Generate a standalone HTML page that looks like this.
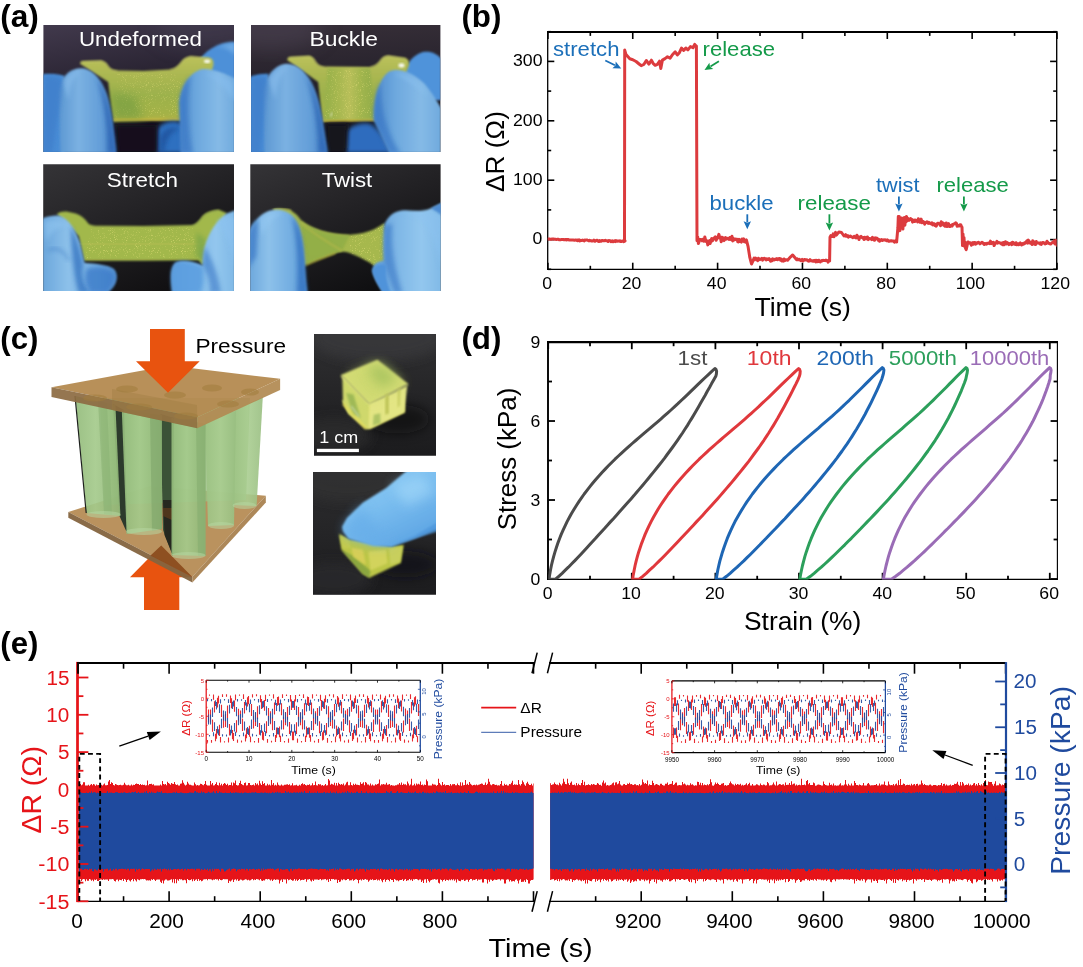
<!DOCTYPE html>
<html lang="en"><head><meta charset="utf-8"><title>Figure</title>
<style>
html,body{margin:0;padding:0;background:#fff;}
body{width:1083px;height:967px;overflow:hidden;font-family:'Liberation Sans', sans-serif;}
svg{display:block;}
svg text{font-family:'Liberation Sans', sans-serif;}
</style></head><body>
<svg width="1083" height="967" viewBox="0 0 1083 967">
<rect width="1083" height="967" fill="#fff"/>
<text x="0.22" y="27.20" font-size="31.7" fill="#000" font-weight="bold" textLength="38.68" lengthAdjust="spacingAndGlyphs" >(a)</text>
<text x="461.43" y="27.20" font-size="31.7" fill="#000" font-weight="bold" textLength="40.04" lengthAdjust="spacingAndGlyphs" >(b)</text>
<text x="0.34" y="349.30" font-size="31.7" fill="#000" font-weight="bold" textLength="38.13" lengthAdjust="spacingAndGlyphs" >(c)</text>
<text x="461.43" y="349.20" font-size="31.7" fill="#000" font-weight="bold" textLength="40.04" lengthAdjust="spacingAndGlyphs" >(d)</text>
<text x="0.34" y="654.20" font-size="31.7" fill="#000" font-weight="bold" textLength="38.13" lengthAdjust="spacingAndGlyphs" >(e)</text>
<defs>
<filter id="bl1" x="-20%" y="-20%" width="140%" height="140%"><feGaussianBlur stdDeviation="4"/></filter>
<filter id="bl2" x="-20%" y="-20%" width="140%" height="140%"><feGaussianBlur stdDeviation="11"/></filter>
<filter id="bl3" x="-30%" y="-30%" width="160%" height="160%"><feGaussianBlur stdDeviation="24"/></filter>
<filter id="bl4" x="-30%" y="-30%" width="160%" height="160%"><feGaussianBlur stdDeviation="50"/></filter>
<filter id="speck" x="0" y="0" width="100%" height="100%">
 <feTurbulence type="fractalNoise" baseFrequency="0.22" numOctaves="2" seed="4" result="n"/>
 <feColorMatrix in="n" type="matrix" values="0 0 0 0 0.95  0 0 0 0 0.85  0 0 0 0 0.25  0 0 0 3.0 -1.75" result="s"/>
 <feComposite in="s" in2="SourceGraphic" operator="in"/>
</filter>
<linearGradient id="bgA1" x1="0" y1="0" x2="0.25" y2="1"><stop offset="0" stop-color="#423a4d"/><stop offset="0.45" stop-color="#2b2534"/><stop offset="1" stop-color="#100e16"/></linearGradient>
<linearGradient id="bgA2" x1="0" y1="0" x2="0.1" y2="1"><stop offset="0" stop-color="#383039"/><stop offset="0.4" stop-color="#29242e"/><stop offset="1" stop-color="#110f15"/></linearGradient>
<linearGradient id="bgA3" x1="0" y1="0" x2="0.6" y2="1"><stop offset="0" stop-color="#353437"/><stop offset="0.5" stop-color="#232225"/><stop offset="1" stop-color="#111012"/></linearGradient>
<linearGradient id="bgA4" x1="0" y1="0" x2="0.6" y2="1"><stop offset="0" stop-color="#353437"/><stop offset="0.5" stop-color="#222124"/><stop offset="1" stop-color="#0f0f11"/></linearGradient>
<linearGradient id="glvL2" x1="0" y1="0" x2="1" y2="0"><stop offset="0" stop-color="#6ba6dc"/><stop offset="0.35" stop-color="#8dc1ea"/><stop offset="0.75" stop-color="#71ace1"/><stop offset="1" stop-color="#508cce"/></linearGradient>
<linearGradient id="glvR2" x1="0" y1="0" x2="1" y2="0"><stop offset="0" stop-color="#5a97d6"/><stop offset="0.3" stop-color="#7bb4e5"/><stop offset="0.7" stop-color="#93c7ee"/><stop offset="1" stop-color="#7fb8e6"/></linearGradient>
<linearGradient id="hsh" x1="0" y1="0" x2="1" y2="0"><stop offset="0" stop-color="#fff" stop-opacity="0.08"/><stop offset="0.5" stop-color="#fff" stop-opacity="0.02"/><stop offset="1" stop-color="#000" stop-opacity="0.25"/></linearGradient>
<linearGradient id="film1" x1="0" y1="0" x2="0" y2="1"><stop offset="0" stop-color="#bcc25c"/><stop offset="0.25" stop-color="#adb852"/><stop offset="0.6" stop-color="#9cb14c"/><stop offset="0.9" stop-color="#a5b246"/><stop offset="1" stop-color="#c4b644"/></linearGradient>
<linearGradient id="film2" x1="0" y1="0" x2="1" y2="0"><stop offset="0" stop-color="#96b04a"/><stop offset="0.3" stop-color="#a8b850"/><stop offset="0.5" stop-color="#b8bf5a"/><stop offset="0.7" stop-color="#a3b64e"/><stop offset="1" stop-color="#90ac4a"/></linearGradient>
<linearGradient id="glv" x1="0" y1="0" x2="1" y2="0.3"><stop offset="0" stop-color="#5a9ede"/><stop offset="0.5" stop-color="#4f93da"/><stop offset="1" stop-color="#3f7fcb"/></linearGradient>
<linearGradient id="glvL" x1="0" y1="0" x2="1" y2="0"><stop offset="0" stop-color="#5c97d2"/><stop offset="0.35" stop-color="#7bb1e2"/><stop offset="0.75" stop-color="#629dd8"/><stop offset="1" stop-color="#457fc3"/></linearGradient>
<linearGradient id="glvR" x1="0" y1="0" x2="1" y2="0"><stop offset="0" stop-color="#4f8acb"/><stop offset="0.3" stop-color="#6ca7de"/><stop offset="0.7" stop-color="#85bae6"/><stop offset="1" stop-color="#70aade"/></linearGradient>
</defs>
<clipPath id="cp1"><rect x="43.4" y="25.0" width="190.6" height="126.9"/></clipPath>
<g clip-path="url(#cp1)">
<g transform="translate(30,15) scale(0.20314)">

<rect x="60" y="40" width="950" height="640" fill="url(#bgA1)"/>
<ellipse cx="880" cy="60" rx="260" ry="110" fill="#4c4458" opacity="0.4" filter="url(#bl4)"/>
<!-- back right finger -->
<path d="M790,330 C800,250 850,180 920,150 C960,135 990,132 1010,134 L1010,420 L790,420 Z" fill="#4d90d8" filter="url(#bl1)"/>
<path d="M900,160 C940,150 980,160 1010,200 L1010,134 Z" fill="#7db6ea" opacity="0.7" filter="url(#bl2)"/>
<!-- film -->
<path d="M246,240 Q248,227 266,226 L350,224 Q372,228 384,250 Q398,272 430,273 L560,276 L690,268 Q722,262 740,236 Q760,206 790,203 L884,210 Q906,214 903,246 L880,330 L790,520 L600,522 L410,527 L385,330 Z" fill="url(#film1)" filter="url(#bl1)"/>
<path d="M430,290 L700,285 L760,330 L770,500 L420,508 Z" fill="#a0b048" filter="url(#speck)" opacity="0.5"/>
<path d="M395,380 L520,400 L560,515 L412,522 Z" fill="#6d9a40" opacity="0.55" filter="url(#bl3)"/>
<path d="M250,232 L352,228 Q372,232 384,252 Q398,274 430,276" fill="none" stroke="#c5c76a" stroke-width="5" opacity="0.7" filter="url(#bl1)"/>
<path d="M690,270 Q722,264 742,238 Q760,210 790,207 L884,213" fill="none" stroke="#c5c76a" stroke-width="5" opacity="0.7" filter="url(#bl1)"/>
<ellipse cx="872" cy="228" rx="16" ry="9" fill="#fff" opacity="0.9" filter="url(#bl1)"/>
<path d="M410,518 L790,512" stroke="#c9b43c" stroke-width="9" opacity="0.8" filter="url(#bl2)"/>
<!-- bottom mid finger (shadowed) -->
<path d="M622,680 L626,565 C640,535 680,520 722,524 C790,545 835,620 865,680 Z" fill="#2f6fc0" filter="url(#bl2)"/>
<path d="M640,600 C660,560 700,545 740,560 C700,570 670,600 660,680 L640,680 Z" fill="#1d4d96" opacity="0.7" filter="url(#bl2)"/>
<!-- dark gap -->
<path d="M425,540 L625,540 L625,680 L425,680 Z" fill="#14111b" filter="url(#bl2)"/>
<!-- left far finger -->
<path d="M60,292 C100,288 140,290 170,300 L170,680 L60,680 Z" fill="#4a8dd6" filter="url(#bl1)"/>
<!-- left thumb -->
<path d="M150,680 L140,380 C150,310 190,265 250,262 C300,262 340,300 370,370 C395,430 408,520 425,680 Z" fill="url(#glvL)" filter="url(#bl1)"/>
<path d="M160,330 C175,300 215,275 250,275 C215,300 195,350 190,420 Z" fill="#8cc0ee" opacity="0.6" filter="url(#bl2)"/>
<path d="M330,310 C370,370 395,450 415,600 L425,680 L380,680 C385,560 365,420 330,310 Z" fill="#2a62b2" opacity="0.75" filter="url(#bl2)"/>
<path d="M70,300 C110,296 140,300 160,320 L150,420 L110,680 L60,680 Z" fill="#3f7fcb" opacity="0.8" filter="url(#bl2)"/>
<!-- right thumb -->
<path d="M742,680 L736,430 C745,345 790,278 850,266 C905,262 960,290 1010,312 L1010,680 Z" fill="url(#glvR)" filter="url(#bl1)"/>
<path d="M742,680 L736,430 C742,380 760,330 790,300 C770,400 775,540 800,680 Z" fill="#3a78c6" opacity="0.7" filter="url(#bl2)"/>
<path d="M860,290 C900,285 950,300 1000,330 L1000,420 C960,350 910,310 860,290 Z" fill="#86bdee" opacity="0.6" filter="url(#bl2)"/>

</g></g>
<text x="78.93" y="46.40" font-size="20.8" fill="#fff" textLength="122.90" lengthAdjust="spacingAndGlyphs" >Undeformed</text>
<clipPath id="cp2"><rect x="251.0" y="25.0" width="189.4" height="126.9"/></clipPath>
<g clip-path="url(#cp2)">
<g transform="translate(240,15) scale(0.20314)">

<rect x="50" y="40" width="950" height="640" fill="url(#bgA2)"/>
<ellipse cx="150" cy="70" rx="260" ry="100" fill="#4d4556" opacity="0.5" filter="url(#bl4)"/>
<!-- back right finger -->
<path d="M800,330 C805,260 840,200 900,182 C940,176 970,190 990,215 L990,420 L800,420 Z" fill="#4f93da" filter="url(#bl1)"/>
<!-- film -->
<path d="M232,222 Q234,207 252,205 L340,201 Q360,205 370,226 Q382,250 412,254 L640,256 Q672,250 688,226 Q704,200 730,199 L815,212 Q834,218 832,246 L800,330 L680,520 L540,524 L405,528 L385,330 Z" fill="url(#film1)" filter="url(#bl1)"/>
<path d="M430,262 L640,262 L665,510 L415,518 Z" fill="url(#film2)" filter="url(#bl1)"/>
<path d="M430,270 L640,270 L662,505 L418,512 Z" fill="#a8b44a" filter="url(#speck)" opacity="0.55"/>
<path d="M236,212 L340,205 Q360,209 372,230 Q384,254 414,258" fill="none" stroke="#c8ca6c" stroke-width="5" opacity="0.7" filter="url(#bl1)"/>
<path d="M640,258 Q672,252 690,228 Q706,203 730,203 L815,215" fill="none" stroke="#c8ca6c" stroke-width="5" opacity="0.7" filter="url(#bl1)"/>
<ellipse cx="795" cy="248" rx="15" ry="10" fill="#fff" opacity="0.9" filter="url(#bl1)"/>
<path d="M410,522 L670,516" stroke="#c9b43c" stroke-width="9" opacity="0.8" filter="url(#bl2)"/>
<path d="M445,500 L455,480" stroke="#fff" stroke-width="5" opacity="0.7" filter="url(#bl1)"/>
<!-- bottom mid finger (shadowed) -->
<path d="M520,680 L528,570 C550,540 600,528 640,535 C690,560 720,620 745,680 Z" fill="#2d6cbe" filter="url(#bl2)"/>
<path d="M425,535 L530,535 L522,680 L425,680 Z" fill="#15121b" filter="url(#bl2)"/>
<!-- left far finger -->
<path d="M50,305 C80,295 110,288 140,290 L160,680 L50,680 Z" fill="#4a8dd6" filter="url(#bl1)"/>
<!-- left thumb -->
<path d="M120,680 L112,380 C125,300 170,245 230,240 C290,240 335,290 365,360 C395,430 410,530 432,680 Z" fill="url(#glvL)" filter="url(#bl1)"/>
<path d="M140,320 C160,280 200,255 235,252 C200,285 180,340 175,420 Z" fill="#8cc0ee" opacity="0.6" filter="url(#bl2)"/>
<path d="M325,295 C365,360 395,450 415,600 L432,680 L385,680 C388,560 365,420 325,295 Z" fill="#2a62b2" opacity="0.75" filter="url(#bl2)"/>
<path d="M55,310 C90,298 120,300 135,320 L125,420 L100,680 L50,680 Z" fill="#3f7fcb" opacity="0.8" filter="url(#bl2)"/>
<!-- right thumb -->
<path d="M735,680 L660,520 C655,420 680,320 730,280 C780,255 850,280 910,340 C950,390 975,430 990,460 L990,680 Z" fill="url(#glvR)" filter="url(#bl1)"/>
<path d="M735,680 L660,520 C657,450 668,380 690,330 C690,450 720,580 790,680 Z" fill="#3a78c6" opacity="0.7" filter="url(#bl2)"/>
<path d="M760,290 C810,285 870,320 930,400 C870,350 820,310 760,290 Z" fill="#8cc2f0" opacity="0.7" filter="url(#bl2)"/>

</g></g>
<text x="309.47" y="46.40" font-size="20.8" fill="#fff" textLength="68.49" lengthAdjust="spacingAndGlyphs" >Buckle</text>
<clipPath id="cp3"><rect x="43.2" y="164.3" width="190.8" height="126.6"/></clipPath>
<g clip-path="url(#cp3)">
<g transform="translate(30,155) scale(0.20314)">

<rect x="60" y="40" width="950" height="640" fill="url(#bgA3)"/>
<!-- film -->
<path d="M132,290 Q150,276 180,278 L225,288 Q262,300 285,335 Q292,346 320,348 L560,350 L800,345 Q822,340 850,300 Q875,275 930,270 L968,285 L930,420 L850,545 L830,518 L560,520 L265,520 L240,400 Z" fill="#a2b84c" filter="url(#bl1)"/>
<path d="M300,360 L800,356 L830,505 L270,510 Z" fill="#9cad3c" filter="url(#speck)" opacity="0.65"/>
<path d="M260,440 L840,436" stroke="#b4bc52" stroke-width="90" opacity="0.45" filter="url(#bl3)"/>
<path d="M268,516 L830,514" stroke="#c2b13a" stroke-width="7" opacity="0.7" filter="url(#bl2)"/>
<path d="M800,350 Q825,344 852,304 Q878,280 930,274" fill="none" stroke="#9fb652" stroke-width="6" opacity="0.8" filter="url(#bl1)"/>
<path d="M820,380 L870,420 L850,520 L815,500 Z" fill="#7fa848" opacity="0.8" filter="url(#bl2)"/>
<!-- left glove -->
<path d="M60,312 C95,300 125,295 150,300 C195,318 225,370 245,430 C255,470 262,505 268,530 C320,535 385,540 412,560 C435,585 432,625 405,655 L380,680 L60,680 Z" fill="url(#glvL2)" filter="url(#bl1)"/>
<path d="M70,330 C110,310 150,320 180,350 C140,350 100,380 80,430 Z" fill="#8fc4ef" opacity="0.6" filter="url(#bl2)"/>
<path d="M200,350 C235,420 250,480 262,540 C250,600 265,640 300,680 L240,680 C215,600 205,470 200,350 Z" fill="#2f6dbd" opacity="0.7" filter="url(#bl2)"/>
<path d="M280,560 C330,545 390,555 410,580 C425,610 405,650 380,680 L300,680 C270,640 265,600 280,560 Z" fill="#3c7cc9" opacity="0.8" filter="url(#bl2)"/>
<path d="M90,470 C130,450 170,470 190,520" fill="none" stroke="#2f6dbd" stroke-width="10" opacity="0.5" filter="url(#bl2)"/>
<!-- right glove -->
<path d="M1010,272 L968,288 C920,320 880,380 860,450 C852,490 850,520 850,545 C800,520 740,515 715,530 C690,555 690,600 700,680 L1010,680 Z" fill="url(#glvR2)" filter="url(#bl1)"/>
<path d="M860,450 C852,490 850,520 852,548 C880,600 890,640 885,680 L940,680 C930,600 900,520 860,450 Z" fill="#3a78c6" opacity="0.6" filter="url(#bl2)"/>
<path d="M715,535 C740,520 800,525 850,550 C860,600 850,650 840,680 L705,680 C692,610 695,560 715,535 Z" fill="#5b9fe0" opacity="0.9" filter="url(#bl2)"/>
<path d="M920,330 C960,300 990,300 1010,310 L1010,560 C990,450 960,380 920,330 Z" fill="#8cc2f0" opacity="0.6" filter="url(#bl2)"/>

</g></g>
<text x="106.79" y="186.70" font-size="20.8" fill="#fff" textLength="71.14" lengthAdjust="spacingAndGlyphs" >Stretch</text>
<clipPath id="cp4"><rect x="250.3" y="164.3" width="190.3" height="126.6"/></clipPath>
<g clip-path="url(#cp4)">
<g transform="translate(240,155) scale(0.20314)">

<rect x="40" y="40" width="960" height="640" fill="url(#bgA4)"/>
<!-- film -->
<path d="M160,268 Q200,258 250,272 Q280,290 300,320 Q340,352 400,372 Q470,392 540,392 Q610,388 660,365 Q690,350 712,335 L745,600 L720,592 Q680,560 640,530 Q590,500 540,482 Q500,470 460,486 Q400,508 350,528 L312,548 L290,420 Z" fill="#a6b84e" filter="url(#bl1)"/>
<path d="M300,330 Q340,358 400,376 Q470,396 540,396 L500,474 Q440,490 330,536 Z" fill="#92ae46" opacity="0.9" filter="url(#bl1)"/>
<path d="M540,396 Q610,392 660,370 L712,340 L735,590 Q680,555 640,528 Q590,498 540,480 Z" fill="#9aae44" filter="url(#speck)" opacity="0.65"/>
<path d="M300,335 Q380,400 500,470" fill="none" stroke="#b5b84a" stroke-width="8" opacity="0.8" filter="url(#bl1)"/>
<path d="M320,545 Q400,510 470,484" fill="none" stroke="#c0b23a" stroke-width="6" opacity="0.8" filter="url(#bl1)"/>
<path d="M165,268 Q210,262 250,275" fill="none" stroke="#b5bd55" stroke-width="8" opacity="0.9" filter="url(#bl1)"/>
<!-- left glove -->
<path d="M40,380 C60,340 90,300 130,280 C170,262 220,268 255,295 C290,330 305,390 312,450 C320,520 322,600 332,680 L40,680 Z" fill="url(#glvL2)" filter="url(#bl1)"/>
<path d="M90,320 C120,290 170,278 210,285 C170,300 130,340 110,400 Z" fill="#93c7f1" opacity="0.65" filter="url(#bl2)"/>
<path d="M255,300 C295,345 310,420 315,500 C320,580 325,640 332,680 L280,680 C290,560 285,420 255,300 Z" fill="#2f6dbd" opacity="0.7" filter="url(#bl2)"/>
<path d="M40,385 C55,350 70,330 90,315 L80,500 L40,560 Z" fill="#3a78c6" opacity="0.7" filter="url(#bl2)"/>
<!-- right glove -->
<path d="M705,680 C680,640 655,600 650,565 C655,535 680,522 708,520 C706,450 706,390 712,340 C730,295 770,270 815,272 C860,276 900,282 940,262 L1000,232 L1000,680 Z" fill="url(#glvR2)" filter="url(#bl1)"/>
<path d="M712,345 C706,400 706,460 708,520 C720,570 740,620 760,680 L800,680 C760,560 740,440 750,340 Z" fill="#3a78c6" opacity="0.6" filter="url(#bl2)"/>
<path d="M780,290 C830,280 880,300 920,360 C960,430 980,500 990,560 L1000,300 L940,275 Z" fill="#8cc2f0" opacity="0.5" filter="url(#bl2)"/>
<path d="M940,262 L1000,232 L1000,300 C985,290 960,275 940,262 Z" fill="#3f80cc" opacity="0.8" filter="url(#bl1)"/>
<path d="M652,570 C670,540 700,530 720,545 C715,590 725,640 745,680 L705,680 C680,640 658,605 652,570 Z" fill="#4f93da" filter="url(#bl1)"/>

</g></g>
<text x="321.66" y="186.70" font-size="20.8" fill="#fff" textLength="50.62" lengthAdjust="spacingAndGlyphs" >Twist</text>
<g id="panel-b">
<line x1="547.90" y1="269.30" x2="547.90" y2="262.70" stroke="#000" stroke-width="1.6" />
<line x1="547.90" y1="32.40" x2="547.90" y2="39.00" stroke="#000" stroke-width="1.6" />
<text x="542.28" y="288.80" font-size="16.5" fill="#000" textLength="9.82" lengthAdjust="spacingAndGlyphs" >0</text>
<line x1="590.32" y1="269.30" x2="590.32" y2="265.80" stroke="#000" stroke-width="1.6" />
<line x1="590.32" y1="32.40" x2="590.32" y2="35.90" stroke="#000" stroke-width="1.6" />
<line x1="632.75" y1="269.30" x2="632.75" y2="262.70" stroke="#000" stroke-width="1.6" />
<line x1="632.75" y1="32.40" x2="632.75" y2="39.00" stroke="#000" stroke-width="1.6" />
<text x="621.78" y="288.80" font-size="16.5" fill="#000" textLength="19.64" lengthAdjust="spacingAndGlyphs" >20</text>
<line x1="675.17" y1="269.30" x2="675.17" y2="265.80" stroke="#000" stroke-width="1.6" />
<line x1="675.17" y1="32.40" x2="675.17" y2="35.90" stroke="#000" stroke-width="1.6" />
<line x1="717.60" y1="269.30" x2="717.60" y2="262.70" stroke="#000" stroke-width="1.6" />
<line x1="717.60" y1="32.40" x2="717.60" y2="39.00" stroke="#000" stroke-width="1.6" />
<text x="706.89" y="288.80" font-size="16.5" fill="#000" textLength="19.64" lengthAdjust="spacingAndGlyphs" >40</text>
<line x1="760.02" y1="269.30" x2="760.02" y2="265.80" stroke="#000" stroke-width="1.6" />
<line x1="760.02" y1="32.40" x2="760.02" y2="35.90" stroke="#000" stroke-width="1.6" />
<line x1="802.45" y1="269.30" x2="802.45" y2="262.70" stroke="#000" stroke-width="1.6" />
<line x1="802.45" y1="32.40" x2="802.45" y2="39.00" stroke="#000" stroke-width="1.6" />
<text x="791.48" y="288.80" font-size="16.5" fill="#000" textLength="19.64" lengthAdjust="spacingAndGlyphs" >60</text>
<line x1="844.88" y1="269.30" x2="844.88" y2="265.80" stroke="#000" stroke-width="1.6" />
<line x1="844.88" y1="32.40" x2="844.88" y2="35.90" stroke="#000" stroke-width="1.6" />
<line x1="887.30" y1="269.30" x2="887.30" y2="262.70" stroke="#000" stroke-width="1.6" />
<line x1="887.30" y1="32.40" x2="887.30" y2="39.00" stroke="#000" stroke-width="1.6" />
<text x="876.37" y="288.80" font-size="16.5" fill="#000" textLength="19.64" lengthAdjust="spacingAndGlyphs" >80</text>
<line x1="929.72" y1="269.30" x2="929.72" y2="265.80" stroke="#000" stroke-width="1.6" />
<line x1="929.72" y1="32.40" x2="929.72" y2="35.90" stroke="#000" stroke-width="1.6" />
<line x1="972.15" y1="269.30" x2="972.15" y2="262.70" stroke="#000" stroke-width="1.6" />
<line x1="972.15" y1="32.40" x2="972.15" y2="39.00" stroke="#000" stroke-width="1.6" />
<text x="955.68" y="288.80" font-size="16.5" fill="#000" textLength="29.46" lengthAdjust="spacingAndGlyphs" >100</text>
<line x1="1014.57" y1="269.30" x2="1014.57" y2="265.80" stroke="#000" stroke-width="1.6" />
<line x1="1014.57" y1="32.40" x2="1014.57" y2="35.90" stroke="#000" stroke-width="1.6" />
<line x1="1057.00" y1="269.30" x2="1057.00" y2="262.70" stroke="#000" stroke-width="1.6" />
<line x1="1057.00" y1="32.40" x2="1057.00" y2="39.00" stroke="#000" stroke-width="1.6" />
<text x="1040.53" y="288.80" font-size="16.5" fill="#000" textLength="29.46" lengthAdjust="spacingAndGlyphs" >120</text>
<line x1="547.70" y1="269.30" x2="551.20" y2="269.30" stroke="#000" stroke-width="1.6" />
<line x1="1056.70" y1="269.30" x2="1053.20" y2="269.30" stroke="#000" stroke-width="1.6" />
<line x1="547.70" y1="239.60" x2="554.30" y2="239.60" stroke="#000" stroke-width="1.6" />
<line x1="1056.70" y1="239.60" x2="1050.10" y2="239.60" stroke="#000" stroke-width="1.6" />
<text x="532.62" y="244.40" font-size="16.5" fill="#000" textLength="9.82" lengthAdjust="spacingAndGlyphs" >0</text>
<line x1="547.70" y1="209.90" x2="551.20" y2="209.90" stroke="#000" stroke-width="1.6" />
<line x1="1056.70" y1="209.90" x2="1053.20" y2="209.90" stroke="#000" stroke-width="1.6" />
<line x1="547.70" y1="180.20" x2="554.30" y2="180.20" stroke="#000" stroke-width="1.6" />
<line x1="1056.70" y1="180.20" x2="1050.10" y2="180.20" stroke="#000" stroke-width="1.6" />
<text x="513.02" y="185.00" font-size="16.5" fill="#000" textLength="29.46" lengthAdjust="spacingAndGlyphs" >100</text>
<line x1="547.70" y1="150.50" x2="551.20" y2="150.50" stroke="#000" stroke-width="1.6" />
<line x1="1056.70" y1="150.50" x2="1053.20" y2="150.50" stroke="#000" stroke-width="1.6" />
<line x1="547.70" y1="120.80" x2="554.30" y2="120.80" stroke="#000" stroke-width="1.6" />
<line x1="1056.70" y1="120.80" x2="1050.10" y2="120.80" stroke="#000" stroke-width="1.6" />
<text x="513.02" y="125.60" font-size="16.5" fill="#000" textLength="29.46" lengthAdjust="spacingAndGlyphs" >200</text>
<line x1="547.70" y1="91.10" x2="551.20" y2="91.10" stroke="#000" stroke-width="1.6" />
<line x1="1056.70" y1="91.10" x2="1053.20" y2="91.10" stroke="#000" stroke-width="1.6" />
<line x1="547.70" y1="61.40" x2="554.30" y2="61.40" stroke="#000" stroke-width="1.6" />
<line x1="1056.70" y1="61.40" x2="1050.10" y2="61.40" stroke="#000" stroke-width="1.6" />
<text x="513.02" y="66.20" font-size="16.5" fill="#000" textLength="29.46" lengthAdjust="spacingAndGlyphs" >300</text>
<line x1="547.70" y1="31.70" x2="551.20" y2="31.70" stroke="#000" stroke-width="1.6" />
<line x1="1056.70" y1="31.70" x2="1053.20" y2="31.70" stroke="#000" stroke-width="1.6" />
<line x1="547.05" y1="32.00" x2="1057.35" y2="32.00" stroke="#000" stroke-width="2.0" />
<line x1="547.05" y1="269.30" x2="1057.35" y2="269.30" stroke="#000" stroke-width="1.25" />
<line x1="547.70" y1="31.00" x2="547.70" y2="269.90" stroke="#000" stroke-width="1.3" />
<line x1="1056.70" y1="31.00" x2="1056.70" y2="269.90" stroke="#000" stroke-width="1.35" />
<text x="754.47" y="315.70" font-size="25" fill="#000" textLength="96.43" lengthAdjust="spacingAndGlyphs" >Time (s)</text>
<text x="503.80" y="191.89" font-size="25.5" fill="#000" textLength="80.80" lengthAdjust="spacingAndGlyphs" transform="rotate(-90 503.80 191.89)">ΔR (Ω)</text>
<clipPath id="clipb"><rect x="547.7" y="32.4" width="509.00" height="236.90"/></clipPath>
<path d="M547.9,239.1 L548.6,238.9 L549.3,239.1 L550.0,239.1 L550.7,239.3 L551.4,239.2 L552.1,239.0 L552.8,239.1 L553.6,239.0 L554.3,239.2 L555.0,239.2 L555.7,239.3 L556.4,239.6 L557.1,239.2 L557.8,239.3 L558.5,239.3 L559.2,239.8 L559.9,239.8 L560.6,239.7 L561.3,239.6 L562.0,239.5 L562.7,239.6 L563.5,239.5 L564.2,239.8 L564.9,239.6 L565.6,239.6 L566.3,239.9 L567.0,239.5 L567.7,239.7 L568.4,239.6 L569.1,240.0 L569.8,240.0 L570.5,240.0 L571.2,240.0 L571.9,239.9 L572.6,240.0 L573.4,240.1 L574.1,240.2 L574.8,240.2 L575.5,239.9 L576.2,240.3 L576.9,240.1 L577.6,240.1 L577.6,240.7 L578.3,240.2 L579.0,239.8 L579.7,241.0 L580.4,240.4 L581.1,240.3 L581.9,240.6 L582.6,240.1 L583.3,240.4 L584.0,240.9 L584.7,240.1 L585.4,240.2 L586.1,240.1 L586.8,239.9 L587.5,240.3 L588.2,240.4 L588.9,240.9 L589.7,240.3 L590.4,240.7 L591.1,240.7 L591.8,241.0 L592.5,240.9 L593.2,240.8 L593.9,240.1 L594.6,241.3 L595.3,241.2 L596.0,240.6 L596.7,240.2 L597.5,240.5 L598.2,241.4 L598.9,241.6 L599.6,240.6 L600.3,241.0 L601.0,241.2 L601.7,240.4 L602.4,240.4 L603.1,240.8 L603.8,240.8 L604.5,240.7 L605.3,240.3 L606.0,240.7 L606.7,240.7 L607.4,240.7 L608.1,241.5 L608.8,240.5 L609.5,240.7 L610.2,240.8 L610.9,241.7 L611.6,241.3 L612.3,240.8 L613.1,241.7 L613.8,241.2 L614.5,240.8 L615.2,241.6 L615.9,240.6 L616.6,241.0 L617.3,241.2 L618.0,241.1 L618.7,241.0 L619.4,241.2 L620.1,240.8 L620.9,241.5 L621.6,241.4 L622.3,240.9 L623.0,241.3 L623.7,241.7 L624.4,241.0 L625.1,240.9 L624.5,241.4 L624.7,50.1 L626.0,54.6 L629.8,58.8 L632.8,59.7 L636.1,61.5 L639.1,64.0 L641.2,65.7 L643.8,64.5 L646.3,60.5 L648.9,64.1 L651.4,60.2 L653.1,63.3 L655.2,65.3 L657.4,64.4 L659.5,61.2 L660.8,68.4 L662.4,60.1 L665.0,58.6 L667.5,56.8 L670.1,58.2 L672.6,54.5 L675.2,51.9 L677.3,54.9 L679.4,52.7 L681.5,48.1 L683.7,50.5 L685.8,48.0 L687.9,49.8 L690.4,46.6 L693.0,47.7 L694.7,44.4 L695.8,45.7 L696.4,46.0 L697.0,240.8 L697.7,236.9 L698.4,243.5 L699.1,241.5 L699.8,239.5 L700.5,239.4 L701.3,239.7 L702.0,240.8 L702.7,239.3 L703.4,239.9 L704.1,241.2 L704.8,236.9 L705.6,240.1 L706.3,241.5 L707.0,240.9 L707.8,244.9 L708.7,241.1 L709.4,240.6 L710.2,243.5 L710.9,240.6 L711.7,238.6 L712.4,240.9 L713.1,239.4 L713.9,237.9 L714.6,237.8 L715.4,236.8 L716.1,240.3 L716.9,238.5 L717.6,238.2 L718.9,234.3 L719.7,237.7 L720.4,237.2 L721.2,241.7 L721.9,237.3 L722.6,240.4 L723.3,237.9 L724.1,240.6 L724.8,238.7 L725.5,237.5 L726.2,239.2 L726.9,238.8 L727.7,238.2 L728.4,239.0 L729.1,239.4 L729.8,237.5 L730.6,238.1 L731.3,239.8 L732.0,236.2 L732.7,240.9 L733.4,238.5 L734.2,240.0 L734.9,239.6 L735.6,239.0 L736.3,239.6 L737.1,239.2 L737.8,241.8 L738.5,241.9 L739.2,239.4 L739.9,241.4 L740.7,241.5 L741.4,242.1 L742.1,238.9 L742.8,239.6 L743.6,238.8 L744.3,241.7 L745.0,240.7 L745.7,242.1 L746.4,239.9 L748.1,246.7 L749.8,257.4 L751.5,264.0 L753.2,260.4 L754.1,258.1 L754.8,259.8 L755.5,258.1 L756.2,258.5 L756.9,259.4 L757.7,260.7 L758.4,258.3 L759.1,259.4 L759.8,259.7 L760.5,259.0 L761.2,259.0 L761.9,258.3 L762.6,260.1 L763.4,258.6 L764.1,258.3 L764.8,258.4 L765.5,259.5 L766.2,259.9 L766.9,258.7 L767.6,259.4 L768.3,259.4 L769.1,258.5 L769.8,259.7 L770.5,261.1 L771.2,259.8 L771.9,260.8 L772.6,258.9 L773.3,259.3 L774.1,260.0 L774.8,259.6 L775.5,259.0 L776.2,259.5 L776.9,258.7 L777.6,259.7 L778.3,258.9 L779.0,258.6 L779.8,258.5 L780.5,260.1 L781.2,259.1 L781.9,261.0 L782.6,260.5 L783.3,261.1 L784.0,259.0 L784.7,260.6 L785.5,259.8 L786.2,259.9 L786.9,259.8 L787.6,260.2 L790.6,256.8 L792.7,255.0 L795.2,258.0 L796.5,259.7 L797.2,258.8 L797.9,259.8 L798.7,259.6 L799.4,259.3 L800.1,260.0 L800.8,260.7 L801.5,260.3 L802.2,259.4 L803.0,261.0 L803.7,260.4 L804.4,259.5 L805.1,259.6 L805.8,260.1 L806.5,259.7 L807.3,260.1 L808.0,260.9 L808.7,261.2 L809.4,260.7 L810.1,259.7 L810.8,260.7 L811.6,260.9 L812.3,260.8 L813.0,261.3 L813.7,260.5 L814.4,261.2 L815.1,260.3 L815.9,261.9 L816.6,260.3 L817.3,260.9 L818.0,261.7 L818.7,260.2 L819.4,260.8 L820.2,262.0 L820.9,261.2 L821.6,260.5 L822.3,261.0 L823.0,260.3 L823.7,260.4 L824.5,260.4 L825.2,260.7 L825.9,260.1 L826.6,260.5 L827.3,260.7 L828.0,262.2 L828.8,260.5 L829.6,261.0 L830.0,237.2 L830.9,235.5 L831.7,236.6 L832.5,236.4 L833.2,233.9 L834.0,236.8 L834.8,234.5 L835.6,232.4 L836.4,235.1 L838.9,231.9 L841.5,232.5 L844.0,236.0 L844.9,235.5 L845.6,234.7 L846.3,236.3 L847.0,235.8 L847.7,235.6 L848.4,237.1 L849.1,236.6 L849.8,236.3 L850.5,236.0 L851.2,236.7 L851.9,236.9 L852.7,237.6 L853.4,237.2 L854.1,236.3 L854.8,237.0 L855.5,237.8 L856.2,237.9 L856.9,235.2 L857.6,236.5 L858.3,237.0 L859.0,239.5 L859.7,237.1 L860.4,237.3 L861.1,236.4 L861.8,237.5 L862.6,237.9 L863.3,237.6 L864.0,239.5 L864.7,237.3 L865.4,237.9 L866.1,238.8 L866.8,237.3 L867.5,237.0 L868.2,239.6 L868.9,239.1 L869.6,238.4 L870.3,238.6 L871.0,239.1 L871.7,239.6 L872.5,237.3 L873.2,238.2 L873.9,240.0 L874.6,240.2 L875.3,237.9 L876.0,238.5 L876.7,238.0 L877.4,238.8 L878.1,240.2 L878.8,239.4 L879.5,241.3 L880.2,240.3 L880.9,239.9 L881.6,239.5 L882.4,240.5 L883.1,240.1 L883.8,239.8 L884.5,239.9 L885.2,239.8 L885.9,240.2 L886.6,240.7 L887.3,239.9 L888.0,240.5 L888.7,241.3 L889.4,241.2 L890.1,240.8 L890.8,240.9 L891.5,240.8 L892.2,241.0 L893.0,240.9 L893.7,241.3 L894.4,242.2 L895.1,241.0 L895.8,240.6 L896.6,242.0 L897.9,227.7 L898.3,216.5 L898.8,230.9 L899.3,216.5 L899.9,230.6 L900.4,219.3 L900.9,228.2 L901.4,218.1 L901.9,226.2 L902.4,218.3 L902.9,229.1 L903.4,218.3 L903.9,222.9 L904.4,217.5 L904.9,225.2 L905.5,217.9 L906.0,221.8 L906.5,216.4 L907.0,221.0 L907.7,218.2 L908.4,219.3 L909.1,220.3 L909.8,219.6 L910.5,218.5 L911.2,219.4 L911.9,219.5 L912.6,222.1 L913.4,221.1 L914.1,220.2 L914.8,221.5 L915.5,220.0 L916.2,220.7 L916.9,220.4 L917.6,221.9 L918.3,218.7 L919.1,220.4 L919.8,222.2 L920.5,222.0 L921.2,219.1 L921.9,222.7 L922.6,221.4 L923.3,221.4 L924.0,222.6 L924.7,224.1 L925.5,222.6 L926.2,222.6 L926.9,221.8 L927.6,222.3 L928.3,223.3 L929.0,222.4 L929.7,222.9 L929.7,223.3 L930.4,223.5 L931.2,223.9 L931.9,222.8 L932.6,224.9 L933.3,224.4 L934.0,223.7 L934.8,225.5 L935.5,224.3 L936.2,226.2 L936.9,224.6 L937.6,223.2 L938.4,223.2 L939.1,224.0 L939.8,224.2 L940.5,225.7 L941.2,221.8 L942.0,223.4 L942.7,222.8 L943.4,225.1 L944.1,224.3 L944.9,226.3 L945.6,223.2 L946.3,223.1 L947.0,226.5 L947.7,224.3 L948.5,223.5 L949.2,226.4 L949.9,226.5 L950.6,225.6 L951.3,225.1 L952.1,226.1 L952.8,224.4 L953.5,224.2 L954.2,223.7 L954.9,223.7 L955.7,222.8 L956.4,223.2 L957.1,226.2 L957.8,225.2 L958.5,225.9 L959.3,226.0 L960.0,224.8 L960.7,224.7 L961.5,226.5 L962.0,227.1 L962.5,245.6 L963.0,233.9 L963.5,245.0 L964.0,237.5 L964.5,246.5 L965.0,242.1 L965.5,248.2 L966.2,249.7 L967.5,243.8 L967.9,241.9 L968.6,242.3 L969.3,242.7 L970.0,243.3 L970.7,242.8 L971.4,245.3 L972.1,243.6 L972.9,242.7 L973.6,244.2 L974.3,242.6 L975.0,242.6 L975.7,244.1 L976.4,243.1 L977.1,243.2 L977.8,242.4 L978.5,242.3 L979.2,243.0 L979.9,243.8 L980.6,243.1 L981.3,243.1 L982.0,242.3 L982.8,242.8 L983.5,243.7 L984.2,244.4 L984.9,243.5 L985.6,243.8 L986.3,244.2 L987.0,243.3 L987.7,243.7 L988.4,243.1 L989.1,242.7 L989.8,243.6 L990.5,241.1 L991.2,243.6 L991.9,242.3 L992.7,243.2 L993.4,242.3 L994.1,245.6 L994.8,244.1 L995.5,243.2 L996.2,242.9 L996.9,241.3 L997.6,243.2 L998.3,242.3 L999.0,242.8 L999.7,242.7 L1000.4,243.1 L1001.1,243.8 L1001.8,243.1 L1002.6,244.7 L1003.3,242.5 L1004.0,244.7 L1004.7,243.5 L1005.4,241.7 L1006.1,244.0 L1006.8,243.8 L1007.5,242.7 L1008.2,243.8 L1008.9,244.6 L1009.6,243.6 L1010.3,243.3 L1011.0,243.2 L1011.7,244.7 L1012.5,242.3 L1013.2,242.4 L1013.9,244.0 L1014.6,243.8 L1015.3,244.5 L1016.0,242.7 L1016.7,244.8 L1017.4,243.5 L1018.1,244.6 L1018.8,244.8 L1019.5,243.5 L1020.2,242.9 L1020.9,244.2 L1021.6,244.9 L1022.4,243.5 L1023.1,244.3 L1023.8,244.0 L1024.5,242.9 L1025.2,243.3 L1026.9,240.8 L1027.7,243.1 L1028.4,240.1 L1029.2,242.6 L1029.9,241.8 L1030.6,243.3 L1031.3,242.7 L1032.0,244.5 L1032.7,240.8 L1033.4,241.2 L1034.2,244.0 L1034.9,244.3 L1035.6,244.5 L1036.3,241.5 L1037.0,243.2 L1037.7,242.8 L1038.4,243.1 L1039.2,242.9 L1039.9,244.0 L1040.6,242.8 L1041.3,244.4 L1042.0,242.9 L1042.7,242.5 L1043.4,242.4 L1044.1,243.2 L1044.9,243.9 L1045.6,242.8 L1046.3,243.5 L1047.0,241.3 L1047.7,242.2 L1048.4,243.1 L1049.1,243.5 L1049.9,243.8 L1050.6,244.0 L1051.3,243.4 L1052.0,242.7 L1052.7,242.5 L1053.4,242.5 L1054.1,240.9 L1054.9,243.9 L1055.6,243.1 L1056.3,240.2 L1057.0,245.2" fill="none" stroke="#dc3b3e" stroke-width="3.0" stroke-linejoin="round" stroke-linecap="round" clip-path="url(#clipb)"/>
<text x="553.04" y="56.00" font-size="20.6" fill="#1b6fb9" textLength="66.43" lengthAdjust="spacingAndGlyphs" >stretch</text>
<text x="702.56" y="56.00" font-size="20.6" fill="#149a49" textLength="72.53" lengthAdjust="spacingAndGlyphs" >release</text>
<text x="709.46" y="210.00" font-size="20.6" fill="#1b6fb9" textLength="64.16" lengthAdjust="spacingAndGlyphs" >buckle</text>
<text x="797.55" y="210.00" font-size="20.6" fill="#149a49" textLength="73.36" lengthAdjust="spacingAndGlyphs" >release</text>
<text x="876.07" y="192.20" font-size="20.6" fill="#1b6fb9" textLength="43.34" lengthAdjust="spacingAndGlyphs" >twist</text>
<text x="936.46" y="192.20" font-size="20.6" fill="#149a49" textLength="72.43" lengthAdjust="spacingAndGlyphs" >release</text>
<line x1="605.30" y1="60.50" x2="614.93" y2="65.29" stroke="#1b6fb9" stroke-width="1.8" />
<path d="M621.2,68.4 L612.4,68.2 L615.4,65.5 L615.7,61.5 Z" fill="#1b6fb9"/>
<line x1="718.90" y1="61.20" x2="710.45" y2="66.42" stroke="#149a49" stroke-width="1.8" />
<path d="M704.5,70.1 L709.4,62.7 L710.0,66.7 L713.3,69.0 Z" fill="#149a49"/>
<line x1="747.30" y1="214.30" x2="747.30" y2="222.30" stroke="#1b6fb9" stroke-width="1.8" />
<path d="M747.3,229.3 L743.6,221.3 L747.3,222.8 L751.0,221.3 Z" fill="#1b6fb9"/>
<line x1="829.40" y1="214.30" x2="829.40" y2="223.60" stroke="#149a49" stroke-width="1.8" />
<path d="M829.4,230.6 L825.7,222.6 L829.4,224.1 L833.1,222.6 Z" fill="#149a49"/>
<line x1="898.90" y1="196.60" x2="898.90" y2="204.60" stroke="#1b6fb9" stroke-width="1.8" />
<path d="M898.9,211.6 L895.2,203.6 L898.9,205.1 L902.6,203.6 Z" fill="#1b6fb9"/>
<line x1="963.90" y1="196.60" x2="963.90" y2="204.60" stroke="#149a49" stroke-width="1.8" />
<path d="M963.9,211.6 L960.2,203.6 L963.9,205.1 L967.6,203.6 Z" fill="#149a49"/>
</g>
<g id="panel-c">
<defs>
<linearGradient id="pil" x1="0" y1="0" x2="1" y2="0"><stop offset="0" stop-color="#93bb7b"/><stop offset="0.45" stop-color="#a4ca8b"/><stop offset="1" stop-color="#8fb676"/></linearGradient>
<linearGradient id="pil2" x1="0" y1="0" x2="1" y2="0"><stop offset="0" stop-color="#9cc283"/><stop offset="0.5" stop-color="#a9cd90"/><stop offset="1" stop-color="#98be80"/></linearGradient>
<filter id="cb1" x="-20%" y="-20%" width="140%" height="140%"><feGaussianBlur stdDeviation="0.5"/></filter>
<filter id="cb2" x="-20%" y="-20%" width="140%" height="140%"><feGaussianBlur stdDeviation="1.6"/></filter>
<filter id="cb3" x="-30%" y="-30%" width="160%" height="160%"><feGaussianBlur stdDeviation="6"/></filter>
<filter id="cb4" x="-40%" y="-40%" width="180%" height="180%"><feGaussianBlur stdDeviation="40"/></filter>
<filter id="grain" x="0" y="0" width="100%" height="100%">
 <feTurbulence type="fractalNoise" baseFrequency="0.7" numOctaves="2" seed="9" result="n"/>
 <feColorMatrix in="n" type="matrix" values="0 0 0 0 0.6  0 0 0 0 0.6  0 0 0 0 0.6  0 0 0 1.6 -0.75" result="s"/>
 <feComposite in="s" in2="SourceGraphic" operator="in"/>
</filter>
<linearGradient id="bgC1" x1="0" y1="0" x2="0" y2="1"><stop offset="0" stop-color="#303032"/><stop offset="0.45" stop-color="#262628"/><stop offset="1" stop-color="#1b1b1d"/></linearGradient>
<linearGradient id="bgC2" x1="0" y1="0" x2="0" y2="1"><stop offset="0" stop-color="#2c2c2e"/><stop offset="0.5" stop-color="#252527"/><stop offset="1" stop-color="#1c1c1e"/></linearGradient>
<linearGradient id="fing" x1="0" y1="0" x2="0.6" y2="1"><stop offset="0" stop-color="#8fcdf6"/><stop offset="0.5" stop-color="#7cbff0"/><stop offset="1" stop-color="#5fa6e4"/></linearGradient>
</defs>
<path d="M144,610 L144,577.3 L130,577.3 L161.2,545.6 L192.5,577.3 L179.3,577.3 L179.3,610 Z" fill="#e8530f"/>
<path d="M68.3,512 L150,486 L265.8,495.7 L192.4,576.8 Z" fill="#b58a52" opacity="0.93"/>
<path d="M68.3,512 L192.4,576.8 L192.4,582.6 L68.3,517.8 Z" fill="#84643f" opacity="0.95"/>
<path d="M192.4,576.8 L265.8,495.7 L265.8,502.6 L192.4,582.6 Z" fill="#a98250" opacity="0.95"/>
<path d="M161.2,545.6 L192.4,577.0 L150.5,555.5 Z" fill="#8a4a1d" opacity="0.9"/>
<path d="M100,398 L250,398 L246,500 L104,505 Z" fill="#9abf82" opacity="0.85"/>
<path d="M113,404 L124,410 L127.5,534 L119.5,516 Z" fill="#2c3a2c"/>
<path d="M160.5,414 L174,418 L173,556 L163,530 Z" fill="#3b5237"/>
<path d="M163,500 L173,500 L173,556 L164.5,535 Z" fill="#26281f"/>
<path d="M163,508 L172,508 L172,520 L163,516 Z" fill="#5a3a1c" opacity="0.8"/>
<path d="M235.6,409 L262.8,397 L256.6,506 L232.4,505 Z" fill="url(#pil2)" opacity="0.9"/>
<path d="M205,417 L236,411 L234,525 L208,526 Z" fill="url(#pil2)" opacity="0.92"/>
<path d="M75.3,396 L115.4,405 L120.4,516 L86.5,513 Z" fill="url(#pil)" opacity="0.92"/>
<path d="M75.0,396 L86.2,513" stroke="#1c1f1c" stroke-width="1.2" fill="none"/>
<path d="M98,400 L104,514 L112,515 L107,403 Z" fill="#89b072" opacity="0.55"/>
<path d="M121.8,410 L161.9,415 L161.9,529 L126.6,534 Z" fill="url(#pil)" opacity="0.92"/>
<path d="M150,414 L162,415.5 L162,529 L152,531 Z" fill="#7fa56a" opacity="0.6"/>
<path d="M171.5,418 L205.5,424 L205.5,556 L171.5,555 Z" fill="url(#pil)" opacity="0.92"/>
<path d="M196,422 L205.5,424 L205.5,556 L198,556 Z" fill="#86ad70" opacity="0.6"/>
<ellipse cx="103.5" cy="514.5" rx="17" ry="3.4" fill="#b7d6a0" opacity="0.55"/>
<ellipse cx="144" cy="531.5" rx="18" ry="3.4" fill="#b7d6a0" opacity="0.55"/>
<ellipse cx="188.5" cy="555.5" rx="17" ry="3.4" fill="#b7d6a0" opacity="0.55"/>
<ellipse cx="221" cy="525.5" rx="13" ry="3.4" fill="#b7d6a0" opacity="0.55"/>
<ellipse cx="244.5" cy="505.5" rx="12" ry="3.4" fill="#b7d6a0" opacity="0.55"/>
<path d="M51.5,387.2 L169.7,365.6 L280.1,378.8 L197.3,417.2 Z" fill="#b48a50" opacity="0.95"/>
<path d="M51.5,387.2 L197.3,417.2 L197.3,428.2 L51.5,396.9 Z" fill="#8d6c43" opacity="0.93"/>
<path d="M197.3,417.2 L280.1,378.8 L280.1,390.0 L197.3,428.2 Z" fill="#b28a52" opacity="0.93"/>
<ellipse cx="95" cy="398" rx="12" ry="3.6" fill="#a07c3c" opacity="0.55"/>
<ellipse cx="127" cy="389" rx="11" ry="3.6" fill="#a07c3c" opacity="0.55"/>
<ellipse cx="139" cy="407" rx="13" ry="3.6" fill="#a07c3c" opacity="0.55"/>
<ellipse cx="175" cy="395" rx="11" ry="3.6" fill="#a07c3c" opacity="0.55"/>
<ellipse cx="186" cy="416" rx="12" ry="3.6" fill="#a07c3c" opacity="0.55"/>
<ellipse cx="212" cy="388" rx="10" ry="3.6" fill="#a07c3c" opacity="0.55"/>
<ellipse cx="228" cy="404" rx="11" ry="3.6" fill="#a07c3c" opacity="0.55"/>
<ellipse cx="250" cy="392" rx="9" ry="3.6" fill="#a07c3c" opacity="0.55"/>
<path d="M112,389 L197,405 L197.3,428 L112,410 Z" fill="#9c7a3e" opacity="0.35"/>
<path d="M150,329 L184.8,329 L184.8,361.3 L199.7,361.3 L168,392.7 L136,361.3 L150,361.3 Z" fill="#e8530f"/>
<text x="195.49" y="353.10" font-size="20.8" fill="#000" textLength="90.57" lengthAdjust="spacingAndGlyphs" >Pressure</text>
<clipPath id="cpc1"><rect x="314" y="334" width="122" height="121.7"/></clipPath>
<g clip-path="url(#cpc1)"><g transform="translate(305,325) scale(0.14478)">
<rect x="50" y="50" width="870" height="870" fill="url(#bgC1)"/>
<ellipse cx="500" cy="90" rx="460" ry="160" fill="#3a3a3d" opacity="0.7" filter="url(#cb4)"/>
<ellipse cx="200" cy="760" rx="260" ry="120" fill="#303032" opacity="0.6" filter="url(#cb4)"/>
<ellipse cx="640" cy="650" rx="220" ry="100" fill="#101011" opacity="0.65" filter="url(#cb4)"/>
<path d="M255,520 L300,615 L420,720 L452,718 L690,602 L684,470 L445,545 Z" fill="#dcdc66" filter="url(#cb3)"/>
<path d="M258,350 L262,530 L300,605 L440,715 L446,545 Z" fill="#cfd86c" filter="url(#cb3)"/>
<path d="M446,545 L440,715 L686,602 L706,420 Z" fill="#e3e584" filter="url(#cb3)"/>
<path d="M248,345 L500,240 L712,405 L445,548 Z" fill="#d4dc74" filter="url(#cb3)"/>
<path d="M300,350 L500,262 L680,400 L450,520 Z" fill="#ccd870" opacity="0.8" filter="url(#cb4)"/>
<path d="M420,290 L540,280 L640,380 L520,430 Z" fill="#8fb552" opacity="0.55" filter="url(#cb4)"/>
<path d="M285,470 L335,480 L385,640 L330,620 Z" fill="#86aa4c" opacity="0.65" filter="url(#cb3)"/>
<path d="M475,620 L520,610 L522,680 L468,695 Z" fill="#86aa4c" opacity="0.55" filter="url(#cb3)"/>
<path d="M555,480 L578,472 L578,612 L555,620 Z" fill="#b0b848" opacity="0.75" filter="url(#cb3)"/>
<path d="M640,440 L660,432 L655,560 L640,570 Z" fill="#b8bf50" opacity="0.6" filter="url(#cb3)"/>
<path d="M250,350 L445,548 L712,410" fill="none" stroke="#e6ea8c" stroke-width="14" opacity="0.55" filter="url(#cb3)"/>
<path d="M262,545 L420,716" fill="none" stroke="#e8df58" stroke-width="18" opacity="0.65" filter="url(#cb3)"/>
<path d="M320,560 L372,632" fill="none" stroke="#e3ecdd" stroke-width="9" opacity="0.6" filter="url(#cb3)"/>

</g></g>
<rect x="316.9" y="448.8" width="42" height="3.3" fill="#fff"/>
<text x="319.25" y="443.40" font-size="17.2" fill="#fff" textLength="38.96" lengthAdjust="spacingAndGlyphs" >1 cm</text>
<clipPath id="cpc2"><rect x="313" y="472" width="123" height="122.7"/></clipPath>
<g clip-path="url(#cpc2)"><g transform="translate(305,463) scale(0.14478)">
<rect x="45" y="50" width="875" height="870" fill="url(#bgC2)"/>
<ellipse cx="300" cy="120" rx="360" ry="150" fill="#343436" opacity="0.6" filter="url(#cb4)"/>
<ellipse cx="200" cy="800" rx="260" ry="120" fill="#2f2f31" opacity="0.6" filter="url(#cb4)"/>
<ellipse cx="690" cy="700" rx="230" ry="90" fill="#111112" opacity="0.65" filter="url(#cb4)"/>
<path d="M235,488 L252,600 L398,765 L445,792 L662,690 L682,565 L600,575 L300,525 Z" fill="#bcc646" filter="url(#cb3)"/>
<path d="M252,600 L398,765 L445,792 L452,742 L330,640 Z" fill="#7a9c3e" opacity="0.75" filter="url(#cb3)"/>
<path d="M320,585 L400,600 L420,705 L335,650 Z" fill="#dad05a" opacity="0.85" filter="url(#cb3)"/>
<path d="M438,612 L560,600 L570,692 L452,742 Z" fill="#d6d660" opacity="0.85" filter="url(#cb3)"/>
<path d="M580,590 L672,578 L656,682 L590,702 Z" fill="#cbd162" opacity="0.85" filter="url(#cb3)"/>
<path d="M240,500 L300,530 L320,590 L260,590 Z" fill="#c6cc50" opacity="0.8" filter="url(#cb3)"/>
<path d="M730,30 L930,30 L930,450 L760,522 L600,580 L470,574 L300,524 L262,472 L256,440 L290,380 L400,272 L560,172 Z" fill="url(#fing)" filter="url(#cb3)"/>
<path d="M400,290 C430,360 470,420 520,470 L600,562 L470,562 L300,512 L268,450 Z" fill="#68aee9" opacity="0.75" filter="url(#cb4)"/>
<path d="M600,150 L800,80 L900,200 L700,300 Z" fill="#a4d9f9" opacity="0.6" filter="url(#cb4)"/>
<path d="M930,400 L760,502 L600,568 L930,470 Z" fill="#4c94da" opacity="0.7" filter="url(#cb3)"/>

</g></g>
</g>
<g id="panel-d">
<line x1="548.20" y1="579.40" x2="548.20" y2="572.80" stroke="#000" stroke-width="1.8" />
<line x1="548.20" y1="342.60" x2="548.20" y2="349.20" stroke="#000" stroke-width="1.8" />
<text x="542.76" y="598.70" font-size="16.5" fill="#000" textLength="9.82" lengthAdjust="spacingAndGlyphs" >0</text>
<line x1="590.00" y1="579.40" x2="590.00" y2="575.80" stroke="#000" stroke-width="1.8" />
<line x1="590.00" y1="342.60" x2="590.00" y2="346.20" stroke="#000" stroke-width="1.8" />
<line x1="631.80" y1="579.40" x2="631.80" y2="572.80" stroke="#000" stroke-width="1.8" />
<line x1="631.80" y1="342.60" x2="631.80" y2="349.20" stroke="#000" stroke-width="1.8" />
<text x="621.15" y="598.70" font-size="16.5" fill="#000" textLength="19.64" lengthAdjust="spacingAndGlyphs" >10</text>
<line x1="673.60" y1="579.40" x2="673.60" y2="575.80" stroke="#000" stroke-width="1.8" />
<line x1="673.60" y1="342.60" x2="673.60" y2="346.20" stroke="#000" stroke-width="1.8" />
<line x1="715.40" y1="579.40" x2="715.40" y2="572.80" stroke="#000" stroke-width="1.8" />
<line x1="715.40" y1="342.60" x2="715.40" y2="349.20" stroke="#000" stroke-width="1.8" />
<text x="704.97" y="598.70" font-size="16.5" fill="#000" textLength="19.64" lengthAdjust="spacingAndGlyphs" >20</text>
<line x1="757.20" y1="579.40" x2="757.20" y2="575.80" stroke="#000" stroke-width="1.8" />
<line x1="757.20" y1="342.60" x2="757.20" y2="346.20" stroke="#000" stroke-width="1.8" />
<line x1="799.00" y1="579.40" x2="799.00" y2="572.80" stroke="#000" stroke-width="1.8" />
<line x1="799.00" y1="342.60" x2="799.00" y2="349.20" stroke="#000" stroke-width="1.8" />
<text x="788.66" y="598.70" font-size="16.5" fill="#000" textLength="19.64" lengthAdjust="spacingAndGlyphs" >30</text>
<line x1="840.80" y1="579.40" x2="840.80" y2="575.80" stroke="#000" stroke-width="1.8" />
<line x1="840.80" y1="342.60" x2="840.80" y2="346.20" stroke="#000" stroke-width="1.8" />
<line x1="882.60" y1="579.40" x2="882.60" y2="572.80" stroke="#000" stroke-width="1.8" />
<line x1="882.60" y1="342.60" x2="882.60" y2="349.20" stroke="#000" stroke-width="1.8" />
<text x="872.43" y="598.70" font-size="16.5" fill="#000" textLength="19.64" lengthAdjust="spacingAndGlyphs" >40</text>
<line x1="924.40" y1="579.40" x2="924.40" y2="575.80" stroke="#000" stroke-width="1.8" />
<line x1="924.40" y1="342.60" x2="924.40" y2="346.20" stroke="#000" stroke-width="1.8" />
<line x1="966.20" y1="579.40" x2="966.20" y2="572.80" stroke="#000" stroke-width="1.8" />
<line x1="966.20" y1="342.60" x2="966.20" y2="349.20" stroke="#000" stroke-width="1.8" />
<text x="955.86" y="598.70" font-size="16.5" fill="#000" textLength="19.64" lengthAdjust="spacingAndGlyphs" >50</text>
<line x1="1008.00" y1="579.40" x2="1008.00" y2="575.80" stroke="#000" stroke-width="1.8" />
<line x1="1008.00" y1="342.60" x2="1008.00" y2="346.20" stroke="#000" stroke-width="1.8" />
<line x1="1049.80" y1="579.40" x2="1049.80" y2="572.80" stroke="#000" stroke-width="1.8" />
<line x1="1049.80" y1="342.60" x2="1049.80" y2="349.20" stroke="#000" stroke-width="1.8" />
<text x="1039.37" y="598.70" font-size="16.5" fill="#000" textLength="19.64" lengthAdjust="spacingAndGlyphs" >60</text>
<line x1="548.20" y1="579.00" x2="555.00" y2="579.00" stroke="#000" stroke-width="1.8" />
<line x1="1057.40" y1="579.00" x2="1050.60" y2="579.00" stroke="#000" stroke-width="1.8" />
<text x="530.42" y="584.60" font-size="16.5" fill="#000" textLength="9.82" lengthAdjust="spacingAndGlyphs" >0</text>
<line x1="548.20" y1="539.50" x2="552.00" y2="539.50" stroke="#000" stroke-width="1.8" />
<line x1="1057.40" y1="539.50" x2="1053.60" y2="539.50" stroke="#000" stroke-width="1.8" />
<line x1="548.20" y1="500.01" x2="555.00" y2="500.01" stroke="#000" stroke-width="1.8" />
<line x1="1057.40" y1="500.01" x2="1050.60" y2="500.01" stroke="#000" stroke-width="1.8" />
<text x="530.51" y="505.61" font-size="16.5" fill="#000" textLength="9.82" lengthAdjust="spacingAndGlyphs" >3</text>
<line x1="548.20" y1="460.51" x2="552.00" y2="460.51" stroke="#000" stroke-width="1.8" />
<line x1="1057.40" y1="460.51" x2="1053.60" y2="460.51" stroke="#000" stroke-width="1.8" />
<line x1="548.20" y1="421.02" x2="555.00" y2="421.02" stroke="#000" stroke-width="1.8" />
<line x1="1057.40" y1="421.02" x2="1050.60" y2="421.02" stroke="#000" stroke-width="1.8" />
<text x="530.51" y="426.62" font-size="16.5" fill="#000" textLength="9.82" lengthAdjust="spacingAndGlyphs" >6</text>
<line x1="548.20" y1="381.52" x2="552.00" y2="381.52" stroke="#000" stroke-width="1.8" />
<line x1="1057.40" y1="381.52" x2="1053.60" y2="381.52" stroke="#000" stroke-width="1.8" />
<line x1="548.20" y1="342.03" x2="555.00" y2="342.03" stroke="#000" stroke-width="1.8" />
<line x1="1057.40" y1="342.03" x2="1050.60" y2="342.03" stroke="#000" stroke-width="1.8" />
<text x="530.60" y="347.63" font-size="16.5" fill="#000" textLength="9.82" lengthAdjust="spacingAndGlyphs" >9</text>
<line x1="547.05" y1="342.10" x2="1057.95" y2="342.10" stroke="#000" stroke-width="2.05" />
<line x1="547.05" y1="579.40" x2="1057.95" y2="579.40" stroke="#000" stroke-width="1.15" />
<line x1="548.00" y1="341.10" x2="548.00" y2="579.95" stroke="#000" stroke-width="1.9" />
<line x1="1057.40" y1="341.10" x2="1057.40" y2="579.95" stroke="#000" stroke-width="1.15" />
<text x="744.01" y="629.60" font-size="25.3" fill="#000" textLength="117.21" lengthAdjust="spacingAndGlyphs" >Strain (%)</text>
<text x="515.80" y="530.27" font-size="25" fill="#000" textLength="142.55" lengthAdjust="spacingAndGlyphs" transform="rotate(-90 515.80 530.27)">Stress (kPa)</text>
<clipPath id="clipd"><rect x="548.2" y="342.6" width="509.20" height="236.80"/></clipPath>
<path d="M549.0,579.1 L549.7,574.6 L550.5,570.0 L551.4,565.5 L552.5,560.9 L553.7,556.4 L555.0,551.9 L556.4,547.5 L557.9,543.1 L559.5,538.7 L561.2,534.4 L563.1,530.1 L565.1,525.8 L567.1,521.6 L569.3,517.5 L571.5,513.5 L573.9,509.5 L576.4,505.5 L578.9,501.6 L581.5,497.8 L584.2,494.0 L587.0,490.3 L589.9,486.6 L592.8,483.0 L595.8,479.5 L598.9,476.0 L602.0,472.5 L605.2,469.1 L608.4,465.8 L611.7,462.5 L615.0,459.2 L618.4,456.0 L621.8,452.8 L625.3,449.7 L628.7,446.6 L632.2,443.5 L635.7,440.5 L639.3,437.4 L642.8,434.4 L646.3,431.4 L649.9,428.3 L653.4,425.3 L657.0,422.3 L660.5,419.3 L664.0,416.2 L667.5,413.1 L671.0,410.0 L674.4,406.9 L677.9,403.7 L681.2,400.5 L684.6,397.3 L688.0,394.1 L691.3,390.9 L694.7,387.6 L698.0,384.4 L701.4,381.2 L704.7,378.0 L708.1,374.8 L711.5,371.6 L714.9,368.5 L716.0,369.4 L716.6,371.2 L716.4,373.8 L715.9,376.0 L713.8,379.8 L711.6,383.6 L709.5,387.5 L707.3,391.3 L705.2,395.2 L703.0,399.0 L700.8,402.8 L698.6,406.7 L696.4,410.5 L694.2,414.3 L691.9,418.1 L689.6,421.8 L687.3,425.6 L684.9,429.3 L682.5,433.0 L680.0,436.6 L677.5,440.3 L675.0,443.9 L672.4,447.5 L669.8,451.0 L667.2,454.5 L664.6,458.1 L661.9,461.6 L659.2,465.0 L656.4,468.5 L653.7,471.9 L650.9,475.3 L648.1,478.7 L645.3,482.1 L642.5,485.5 L639.6,488.9 L636.7,492.2 L633.9,495.6 L631.0,498.9 L628.0,502.2 L625.1,505.5 L622.2,508.8 L619.3,512.1 L616.3,515.4 L613.4,518.7 L610.4,521.9 L607.4,525.2 L604.5,528.5 L601.5,531.7 L598.5,535.0 L595.6,538.3 L592.6,541.5 L589.6,544.8 L586.7,548.0 L583.7,551.3 L580.7,554.5 L577.6,557.7 L574.6,560.9 L571.5,564.0 L568.4,567.2 L565.3,570.2 L562.1,573.3 L558.8,576.3 L555.5,579.2 Z" fill="none" stroke="#4b4b4b" stroke-width="3.0" stroke-linejoin="round" stroke-linecap="round" clip-path="url(#clipd)"/>
<path d="M632.6,579.1 L633.3,574.6 L634.2,570.0 L635.1,565.5 L636.2,560.9 L637.4,556.4 L638.7,551.9 L640.2,547.5 L641.7,543.1 L643.4,538.7 L645.1,534.4 L647.0,530.1 L649.0,525.8 L651.1,521.6 L653.3,517.5 L655.6,513.5 L657.9,509.5 L660.4,505.5 L663.0,501.6 L665.6,497.8 L668.3,494.0 L671.1,490.3 L674.0,486.6 L677.0,483.0 L680.0,479.5 L683.1,476.0 L686.2,472.5 L689.4,469.1 L692.6,465.8 L695.9,462.5 L699.2,459.2 L702.6,456.0 L706.0,452.8 L709.4,449.7 L712.9,446.6 L716.4,443.5 L719.9,440.5 L723.4,437.4 L727.0,434.4 L730.5,431.4 L734.0,428.3 L737.6,425.3 L741.1,422.3 L744.6,419.3 L748.1,416.2 L751.6,413.1 L755.0,410.0 L758.5,406.9 L761.8,403.7 L765.2,400.5 L768.6,397.3 L771.9,394.1 L775.2,390.9 L778.5,387.6 L781.8,384.4 L785.2,381.2 L788.5,378.0 L791.8,374.8 L795.2,371.6 L798.6,368.5 L799.6,369.4 L800.2,371.2 L800.0,373.8 L799.5,376.0 L797.9,379.8 L796.1,383.6 L794.1,387.5 L792.2,391.3 L790.2,395.2 L788.2,399.0 L786.2,402.8 L784.1,406.7 L782.0,410.5 L779.9,414.3 L777.8,418.1 L775.6,421.8 L773.3,425.6 L771.0,429.3 L768.7,433.0 L766.3,436.6 L763.9,440.3 L761.4,443.9 L758.9,447.5 L756.3,451.0 L753.7,454.5 L751.1,458.1 L748.5,461.6 L745.8,465.0 L743.0,468.5 L740.3,471.9 L737.5,475.3 L734.7,478.7 L731.9,482.1 L729.0,485.5 L726.1,488.9 L723.2,492.2 L720.3,495.6 L717.4,498.9 L714.4,502.2 L711.5,505.5 L708.5,508.8 L705.5,512.1 L702.5,515.4 L699.4,518.7 L696.4,521.9 L693.4,525.2 L690.3,528.5 L687.3,531.7 L684.2,535.0 L681.1,538.3 L678.1,541.5 L675.0,544.8 L671.9,548.0 L668.8,551.3 L665.7,554.5 L662.5,557.7 L659.3,560.9 L656.1,564.0 L652.9,567.2 L649.5,570.2 L646.2,573.3 L642.7,576.3 L639.1,579.2 Z" fill="none" stroke="#e0383c" stroke-width="3.0" stroke-linejoin="round" stroke-linecap="round" clip-path="url(#clipd)"/>
<path d="M716.2,579.1 L717.0,574.6 L717.8,570.0 L718.8,565.5 L719.9,560.9 L721.2,556.4 L722.5,551.9 L724.0,547.5 L725.6,543.1 L727.2,538.7 L729.0,534.4 L730.9,530.1 L732.9,525.8 L735.0,521.6 L737.3,517.5 L739.6,513.5 L742.0,509.5 L744.5,505.5 L747.0,501.6 L749.7,497.8 L752.4,494.0 L755.3,490.3 L758.2,486.6 L761.1,483.0 L764.1,479.5 L767.2,476.0 L770.4,472.5 L773.6,469.1 L776.8,465.8 L780.1,462.5 L783.4,459.2 L786.8,456.0 L790.2,452.8 L793.6,449.7 L797.1,446.6 L800.6,443.5 L804.1,440.4 L807.6,437.4 L811.1,434.3 L814.6,431.3 L818.2,428.3 L821.7,425.2 L825.2,422.2 L828.7,419.1 L832.2,416.1 L835.6,413.0 L839.1,409.8 L842.5,406.7 L845.8,403.5 L849.2,400.3 L852.5,397.0 L855.8,393.7 L859.1,390.5 L862.4,387.2 L865.7,383.9 L869.0,380.6 L872.3,377.3 L875.6,374.0 L878.9,370.8 L882.3,367.6 L883.3,368.4 L883.9,370.1 L883.6,372.6 L883.1,374.8 L881.9,378.8 L880.2,382.8 L878.5,386.8 L876.7,390.8 L874.9,394.7 L873.0,398.7 L871.1,402.6 L869.1,406.5 L867.1,410.3 L865.1,414.2 L863.0,418.0 L860.9,421.8 L858.7,425.5 L856.5,429.3 L854.2,432.9 L851.9,436.6 L849.5,440.3 L847.1,443.9 L844.6,447.4 L842.1,451.0 L839.5,454.5 L836.9,458.1 L834.2,461.6 L831.6,465.0 L828.8,468.5 L826.1,471.9 L823.3,475.3 L820.5,478.7 L817.6,482.1 L814.8,485.5 L811.9,488.9 L809.0,492.2 L806.0,495.6 L803.1,498.9 L800.1,502.2 L797.1,505.5 L794.0,508.8 L791.0,512.1 L787.9,515.4 L784.9,518.7 L781.8,521.9 L778.7,525.2 L775.6,528.5 L772.4,531.7 L769.3,535.0 L766.2,538.3 L763.0,541.5 L759.9,544.8 L756.7,548.0 L753.5,551.3 L750.3,554.5 L747.0,557.7 L743.8,560.9 L740.4,564.0 L737.1,567.2 L733.6,570.2 L730.1,573.3 L726.5,576.3 L722.7,579.2 Z" fill="none" stroke="#1e66b4" stroke-width="3.0" stroke-linejoin="round" stroke-linecap="round" clip-path="url(#clipd)"/>
<path d="M799.8,579.1 L800.6,574.6 L801.5,570.0 L802.5,565.5 L803.7,560.9 L804.9,556.4 L806.3,551.9 L807.8,547.5 L809.4,543.1 L811.1,538.7 L812.9,534.4 L814.8,530.1 L816.9,525.8 L819.0,521.6 L821.2,517.5 L823.6,513.5 L826.0,509.5 L828.5,505.5 L831.1,501.6 L833.8,497.8 L836.6,494.0 L839.4,490.3 L842.3,486.6 L845.3,483.0 L848.3,479.5 L851.4,476.0 L854.6,472.5 L857.8,469.1 L861.0,465.8 L864.3,462.5 L867.6,459.2 L871.0,456.0 L874.4,452.8 L877.8,449.7 L881.3,446.6 L884.8,443.5 L888.3,440.4 L891.8,437.4 L895.3,434.3 L898.8,431.3 L902.3,428.3 L905.8,425.2 L909.3,422.2 L912.8,419.1 L916.2,416.1 L919.7,413.0 L923.1,409.8 L926.5,406.7 L929.8,403.5 L933.1,400.3 L936.4,397.0 L939.7,393.7 L943.0,390.5 L946.3,387.2 L949.5,383.9 L952.8,380.6 L956.0,377.3 L959.3,374.0 L962.6,370.8 L966.0,367.6 L967.0,368.4 L967.5,370.1 L967.2,372.6 L966.7,374.8 L965.9,378.8 L964.5,382.8 L962.9,386.8 L961.3,390.8 L959.6,394.7 L957.8,398.7 L956.0,402.6 L954.2,406.5 L952.3,410.3 L950.3,414.2 L948.4,418.0 L946.3,421.8 L944.2,425.5 L942.0,429.3 L939.8,432.9 L937.5,436.6 L935.2,440.3 L932.8,443.9 L930.4,447.4 L927.9,451.0 L925.3,454.5 L922.7,458.1 L920.1,461.6 L917.4,465.0 L914.7,468.5 L912.0,471.9 L909.2,475.3 L906.4,478.7 L903.5,482.1 L900.6,485.5 L897.7,488.9 L894.8,492.2 L891.8,495.6 L888.8,498.9 L885.8,502.2 L882.7,505.5 L879.7,508.8 L876.6,512.1 L873.5,515.4 L870.3,518.7 L867.2,521.9 L864.0,525.2 L860.9,528.5 L857.7,531.7 L854.5,535.0 L851.3,538.3 L848.0,541.5 L844.8,544.8 L841.5,548.0 L838.2,551.3 L834.9,554.5 L831.6,557.7 L828.2,560.9 L824.8,564.0 L821.3,567.2 L817.7,570.2 L814.1,573.3 L810.4,576.3 L806.3,579.2 Z" fill="none" stroke="#2c9f5b" stroke-width="3.0" stroke-linejoin="round" stroke-linecap="round" clip-path="url(#clipd)"/>
<path d="M883.4,579.1 L884.2,574.6 L885.1,570.0 L886.1,565.5 L887.3,560.9 L888.5,556.4 L889.9,551.9 L891.4,547.5 L893.0,543.1 L894.7,538.7 L896.5,534.4 L898.4,530.1 L900.5,525.8 L902.6,521.6 L904.8,517.5 L907.2,513.5 L909.6,509.5 L912.1,505.5 L914.7,501.6 L917.4,497.8 L920.2,494.0 L923.0,490.3 L925.9,486.6 L928.9,483.0 L931.9,479.5 L935.0,476.0 L938.2,472.5 L941.4,469.1 L944.6,465.8 L947.9,462.5 L951.2,459.2 L954.6,456.0 L958.0,452.8 L961.4,449.7 L964.9,446.6 L968.4,443.5 L971.9,440.4 L975.4,437.4 L978.9,434.3 L982.4,431.3 L985.9,428.3 L989.4,425.2 L992.9,422.2 L996.4,419.1 L999.8,416.1 L1003.3,413.0 L1006.7,409.8 L1010.1,406.7 L1013.4,403.5 L1016.7,400.3 L1020.0,397.0 L1023.3,393.7 L1026.6,390.5 L1029.9,387.2 L1033.1,383.9 L1036.4,380.6 L1039.6,377.3 L1042.9,374.0 L1046.2,370.8 L1049.6,367.6 L1050.6,368.4 L1051.1,370.1 L1050.8,372.6 L1050.3,374.8 L1050.1,378.8 L1048.9,382.8 L1047.6,386.8 L1046.2,390.8 L1044.7,394.7 L1043.2,398.7 L1041.6,402.6 L1039.9,406.5 L1038.1,410.3 L1036.3,414.2 L1034.5,418.0 L1032.6,421.8 L1030.6,425.5 L1028.5,429.3 L1026.4,432.9 L1024.2,436.6 L1022.0,440.3 L1019.7,443.9 L1017.3,447.4 L1014.9,451.0 L1012.4,454.5 L1009.9,458.1 L1007.3,461.6 L1004.6,465.0 L1002.0,468.5 L999.2,471.9 L996.5,475.3 L993.7,478.7 L990.8,482.1 L988.0,485.5 L985.0,488.9 L982.1,492.2 L979.1,495.6 L976.1,498.9 L973.1,502.2 L970.0,505.5 L966.9,508.8 L963.8,512.1 L960.6,515.4 L957.4,518.7 L954.2,521.9 L951.0,525.2 L947.8,528.5 L944.5,531.7 L941.3,535.0 L938.0,538.3 L934.7,541.5 L931.3,544.8 L928.0,548.0 L924.6,551.3 L921.2,554.5 L917.8,557.7 L914.3,560.9 L910.7,564.0 L907.1,567.2 L903.4,570.2 L899.7,573.3 L895.7,576.3 L891.4,579.2 Z" fill="none" stroke="#9a6cb6" stroke-width="3.0" stroke-linejoin="round" stroke-linecap="round" clip-path="url(#clipd)"/>
<text x="677.62" y="365.00" font-size="19.8" fill="#4b4b4b" textLength="29.88" lengthAdjust="spacingAndGlyphs" >1st</text>
<text x="746.88" y="365.00" font-size="19.8" fill="#e0383c" textLength="44.64" lengthAdjust="spacingAndGlyphs" >10th</text>
<text x="816.55" y="365.00" font-size="19.8" fill="#1e66b4" textLength="57.39" lengthAdjust="spacingAndGlyphs" >200th</text>
<text x="888.81" y="365.00" font-size="19.8" fill="#2c9f5b" textLength="68.11" lengthAdjust="spacingAndGlyphs" >5000th</text>
<text x="969.75" y="365.00" font-size="19.8" fill="#9a6cb6" textLength="79.47" lengthAdjust="spacingAndGlyphs" >10000th</text>
</g>
<g id="panel-e">
<path d="M79.0,785.7V784.5H80.0V783.9H81.0V785.2H82.0V784.6H83.0V782.3H84.0V782.3H85.0V785.5H86.0V785.4H87.0V785.6H88.0V784.8H89.0V785.7H90.0V784.8H91.0V784.1H92.0V785.2H93.0V784.0H94.0V784.4H95.0V785.7H96.0V784.5H97.0V785.2H98.0V784.9H99.0V785.2H100.0V783.9H101.0V784.8H102.0V785.4H103.0V784.5H104.0V783.4H105.0V785.2H106.0V785.3H107.0V785.0H108.0V781.6H109.0V780.1H110.0V784.0H111.0V782.2H112.0V782.9H113.0V785.0H114.0V785.6H115.0V784.1H116.0V784.5H117.0V785.0H118.0V785.3H119.0V784.9H120.0V784.8H121.0V785.2H122.0V785.2H123.0V784.8H124.0V782.7H125.0V784.4H126.0V785.2H127.0V785.2H128.0V784.8H129.0V785.4H130.0V785.4H131.0V784.6H132.0V785.6H133.0V784.7H134.0V785.0H135.0V783.9H136.0V783.6H137.0V783.9H138.0V783.9H139.0V785.0H140.0V784.0H141.0V785.1H142.0V784.4H143.0V785.1H144.0V784.8H145.0V785.6H146.0V785.3H147.0V780.4H148.0V785.3H149.0V783.9H150.0V784.1H151.0V783.8H152.0V784.7H153.0V784.3H154.0V785.6H155.0V785.6H156.0V785.4H157.0V785.5H158.0V785.5H159.0V785.5H160.0V784.5H161.0V785.4H162.0V781.1H163.0V784.0H164.0V784.5H165.0V783.9H166.0V785.2H167.0V781.8H168.0V783.0H169.0V783.8H170.0V784.7H171.0V782.9H172.0V783.7H173.0V784.1H174.0V782.0H175.0V784.2H176.0V785.0H177.0V784.5H178.0V785.4H179.0V785.4H180.0V783.8H181.0V783.4H182.0V780.3H183.0V782.8H184.0V784.5H185.0V785.6H186.0V784.7H187.0V781.8H188.0V783.4H189.0V784.7H190.0V784.8H191.0V785.3H192.0V785.4H193.0V785.6H194.0V782.4H195.0V784.2H196.0V785.5H197.0V784.9H198.0V785.6H199.0V785.3H200.0V783.7H201.0V784.1H202.0V784.7H203.0V785.2H204.0V784.1H205.0V781.0H206.0V784.8H207.0V785.6H208.0V785.6H209.0V785.6H210.0V780.9H211.0V784.5H212.0V783.0H213.0V785.4H214.0V785.2H215.0V783.9H216.0V782.3H217.0V785.1H218.0V785.6H219.0V782.7H220.0V785.2H221.0V783.7H222.0V785.4H223.0V783.9H224.0V782.9H225.0V783.8H226.0V785.0H227.0V783.8H228.0V785.5H229.0V785.1H230.0V784.9H231.0V782.6H232.0V785.4H233.0V782.5H234.0V783.3H235.0V780.4H236.0V785.0H237.0V785.4H238.0V785.3H239.0V783.1H240.0V780.7H241.0V783.9H242.0V784.7H243.0V785.2H244.0V783.0H245.0V782.6H246.0V785.6H247.0V785.3H248.0V783.0H249.0V782.9H250.0V785.1H251.0V785.2H252.0V784.9H253.0V784.5H254.0V785.5H255.0V783.0H256.0V784.6H257.0V783.5H258.0V785.3H259.0V780.7H260.0V783.6H261.0V785.1H262.0V781.2H263.0V783.9H264.0V782.9H265.0V785.6H266.0V785.6H267.0V783.7H268.0V785.2H269.0V784.6H270.0V785.4H271.0V780.0H272.0V784.7H273.0V783.1H274.0V785.6H275.0V784.7H276.0V785.6H277.0V782.5H278.0V784.8H279.0V785.6H280.0V785.6H281.0V784.5H282.0V785.6H283.0V785.4H284.0V784.8H285.0V784.7H286.0V784.4H287.0V784.2H288.0V785.0H289.0V784.3H290.0V785.4H291.0V785.2H292.0V783.3H293.0V785.5H294.0V785.3H295.0V785.3H296.0V784.7H297.0V785.7H298.0V785.7H299.0V784.8H300.0V785.4H301.0V784.0H302.0V783.3H303.0V784.4H304.0V783.9H305.0V785.0H306.0V785.6H307.0V784.8H308.0V785.0H309.0V784.3H310.0V785.5H311.0V785.3H312.0V783.2H313.0V785.2H314.0V784.9H315.0V781.6H316.0V785.2H317.0V785.5H318.0V783.9H319.0V784.4H320.0V784.3H321.0V785.6H322.0V784.9H323.0V785.7H324.0V785.3H325.0V783.9H326.0V785.6H327.0V785.2H328.0V779.1H329.0V780.4H330.0V784.7H331.0V783.7H332.0V784.2H333.0V784.8H334.0V782.8H335.0V785.4H336.0V783.1H337.0V785.6H338.0V782.7H339.0V784.0H340.0V784.8H341.0V784.0H342.0V784.8H343.0V783.4H344.0V785.5H345.0V784.6H346.0V782.6H347.0V781.8H348.0V785.3H349.0V785.3H350.0V782.2H351.0V785.1H352.0V785.6H353.0V783.8H354.0V784.9H355.0V783.7H356.0V784.7H357.0V784.7H358.0V784.9H359.0V785.2H360.0V782.2H361.0V784.0H362.0V783.4H363.0V782.3H364.0V785.3H365.0V781.9H366.0V782.7H367.0V784.6H368.0V784.4H369.0V785.5H370.0V783.5H371.0V785.4H372.0V784.6H373.0V785.5H374.0V785.6H375.0V784.3H376.0V784.7H377.0V784.0H378.0V783.4H379.0V779.6H380.0V785.6H381.0V784.2H382.0V784.4H383.0V784.1H384.0V784.5H385.0V784.5H386.0V782.7H387.0V784.8H388.0V784.6H389.0V783.9H390.0V785.6H391.0V784.9H392.0V785.5H393.0V785.5H394.0V785.7H395.0V785.3H396.0V785.3H397.0V784.6H398.0V784.4H399.0V783.1H400.0V784.7H401.0V782.4H402.0V784.9H403.0V783.7H404.0V784.5H405.0V784.2H406.0V785.2H407.0V781.5H408.0V783.5H409.0V785.5H410.0V784.5H411.0V778.7H412.0V785.6H413.0V785.2H414.0V783.7H415.0V785.6H416.0V783.6H417.0V784.4H418.0V783.7H419.0V784.5H420.0V781.5H421.0V785.1H422.0V784.4H423.0V785.6H424.0V784.5H425.0V784.9H426.0V779.6H427.0V781.3H428.0V785.5H429.0V785.6H430.0V785.5H431.0V785.4H432.0V783.8H433.0V784.5H434.0V784.6H435.0V784.8H436.0V785.7H437.0V785.0H438.0V778.7H439.0V783.1H440.0V784.4H441.0V785.4H442.0V781.9H443.0V784.9H444.0V784.3H445.0V785.4H446.0V785.1H447.0V785.1H448.0V784.9H449.0V785.7H450.0V784.1H451.0V785.4H452.0V784.3H453.0V784.3H454.0V783.9H455.0V785.2H456.0V785.2H457.0V783.6H458.0V785.0H459.0V785.5H460.0V782.2H461.0V785.7H462.0V782.4H463.0V785.2H464.0V785.0H465.0V779.9H466.0V784.8H467.0V783.8H468.0V784.9H469.0V782.0H470.0V783.8H471.0V784.7H472.0V785.6H473.0V785.0H474.0V784.7H475.0V785.2H476.0V784.6H477.0V785.3H478.0V784.7H479.0V784.6H480.0V784.0H481.0V783.6H482.0V783.7H483.0V784.9H484.0V784.8H485.0V782.6H486.0V785.0H487.0V783.7H488.0V778.7H489.0V781.8H490.0V784.5H491.0V785.2H492.0V784.2H493.0V784.0H494.0V784.6H495.0V785.1H496.0V784.8H497.0V785.6H498.0V785.2H499.0V785.5H500.0V784.1H501.0V780.9H502.0V785.4H503.0V785.7H504.0V783.7H505.0V785.0H506.0V784.6H507.0V785.6H508.0V785.4H509.0V783.9H510.0V784.3H511.0V782.8H512.0V780.8H513.0V785.0H514.0V784.2H515.0V784.8H516.0V784.6H517.0V785.0H518.0V780.0H519.0V784.2H520.0V785.5H521.0V783.9H522.0V780.6H523.0V782.3H524.0V784.5H525.0V785.7H526.0V783.2H527.0V781.7H528.0V783.7H529.0V784.9H530.0V785.0H531.0V783.7H532.0V785.5H533.0V783.4H533.6V879.0V879.5H533.0V880.1H532.0V880.0H531.0V880.8H530.0V883.5H529.0V883.5H528.0V879.9H527.0V879.3H526.0V882.1H525.0V880.2H524.0V881.8H523.0V881.8H522.0V881.9H521.0V879.3H520.0V880.2H519.0V883.5H518.0V880.7H517.0V879.2H516.0V879.8H515.0V881.4H514.0V880.9H513.0V881.3H512.0V881.5H511.0V880.0H510.0V881.4H509.0V879.6H508.0V879.3H507.0V879.7H506.0V883.5H505.0V883.5H504.0V879.4H503.0V879.2H502.0V879.3H501.0V880.5H500.0V879.3H499.0V879.2H498.0V879.6H497.0V880.1H496.0V879.7H495.0V879.4H494.0V880.2H493.0V880.9H492.0V879.8H491.0V879.5H490.0V881.8H489.0V879.7H488.0V883.4H487.0V879.5H486.0V879.1H485.0V879.0H484.0V882.5H483.0V882.6H482.0V879.2H481.0V879.6H480.0V879.7H479.0V879.5H478.0V880.8H477.0V879.0H476.0V879.6H475.0V879.9H474.0V879.8H473.0V880.6H472.0V879.1H471.0V879.1H470.0V879.9H469.0V881.8H468.0V879.8H467.0V879.8H466.0V880.6H465.0V881.1H464.0V879.4H463.0V879.9H462.0V879.8H461.0V881.3H460.0V881.1H459.0V880.4H458.0V879.2H457.0V882.6H456.0V879.5H455.0V880.7H454.0V879.3H453.0V880.2H452.0V879.3H451.0V880.3H450.0V879.4H449.0V880.6H448.0V880.1H447.0V879.8H446.0V881.1H445.0V879.5H444.0V880.0H443.0V881.4H442.0V880.0H441.0V879.4H440.0V883.5H439.0V882.8H438.0V879.3H437.0V879.8H436.0V879.5H435.0V879.1H434.0V879.4H433.0V879.5H432.0V879.9H431.0V880.4H430.0V882.2H429.0V880.7H428.0V879.1H427.0V882.8H426.0V879.2H425.0V879.4H424.0V882.9H423.0V880.4H422.0V882.0H421.0V879.4H420.0V879.6H419.0V880.3H418.0V879.4H417.0V879.0H416.0V879.1H415.0V879.4H414.0V879.2H413.0V880.9H412.0V879.5H411.0V880.3H410.0V879.1H409.0V880.2H408.0V880.3H407.0V880.9H406.0V879.0H405.0V879.8H404.0V881.1H403.0V879.2H402.0V880.0H401.0V880.1H400.0V880.2H399.0V881.2H398.0V880.2H397.0V880.5H396.0V879.8H395.0V879.0H394.0V881.9H393.0V880.1H392.0V879.9H391.0V879.1H390.0V881.2H389.0V880.1H388.0V879.4H387.0V879.9H386.0V881.8H385.0V879.2H384.0V880.0H383.0V882.3H382.0V880.5H381.0V879.1H380.0V880.5H379.0V879.8H378.0V880.4H377.0V879.2H376.0V880.0H375.0V880.0H374.0V880.2H373.0V879.3H372.0V880.1H371.0V879.4H370.0V880.4H369.0V881.7H368.0V879.8H367.0V879.8H366.0V879.0H365.0V879.6H364.0V880.1H363.0V879.2H362.0V880.4H361.0V879.4H360.0V880.0H359.0V883.2H358.0V880.1H357.0V879.2H356.0V879.2H355.0V879.9H354.0V880.7H353.0V879.3H352.0V880.2H351.0V880.3H350.0V880.6H349.0V879.1H348.0V879.1H347.0V879.9H346.0V880.3H345.0V879.5H344.0V879.2H343.0V880.2H342.0V879.5H341.0V881.4H340.0V881.9H339.0V879.9H338.0V883.0H337.0V879.4H336.0V879.5H335.0V879.8H334.0V879.0H333.0V879.2H332.0V879.0H331.0V880.9H330.0V879.0H329.0V882.0H328.0V879.6H327.0V880.2H326.0V879.1H325.0V879.2H324.0V879.5H323.0V879.4H322.0V880.3H321.0V879.1H320.0V879.4H319.0V879.9H318.0V879.4H317.0V879.4H316.0V879.5H315.0V879.4H314.0V880.9H313.0V879.7H312.0V881.6H311.0V880.4H310.0V879.1H309.0V879.4H308.0V879.4H307.0V881.7H306.0V879.0H305.0V879.6H304.0V880.1H303.0V879.7H302.0V879.9H301.0V880.5H300.0V879.1H299.0V879.9H298.0V881.1H297.0V879.5H296.0V880.7H295.0V879.1H294.0V880.6H293.0V880.8H292.0V880.1H291.0V879.2H290.0V879.8H289.0V880.2H288.0V879.0H287.0V883.5H286.0V879.5H285.0V879.6H284.0V879.2H283.0V881.9H282.0V879.4H281.0V880.5H280.0V883.5H279.0V879.8H278.0V879.4H277.0V879.6H276.0V880.1H275.0V879.2H274.0V879.7H273.0V881.1H272.0V879.4H271.0V880.6H270.0V879.6H269.0V879.1H268.0V879.4H267.0V879.1H266.0V879.3H265.0V880.5H264.0V880.2H263.0V881.1H262.0V880.6H261.0V879.1H260.0V880.2H259.0V879.6H258.0V879.2H257.0V879.1H256.0V879.9H255.0V879.5H254.0V880.3H253.0V879.1H252.0V879.5H251.0V880.3H250.0V880.4H249.0V879.7H248.0V880.3H247.0V879.4H246.0V879.3H245.0V879.8H244.0V880.2H243.0V880.4H242.0V879.7H241.0V879.4H240.0V880.5H239.0V880.9H238.0V879.3H237.0V880.4H236.0V879.2H235.0V879.7H234.0V882.1H233.0V879.5H232.0V880.4H231.0V881.4H230.0V880.7H229.0V883.0H228.0V879.3H227.0V879.3H226.0V879.3H225.0V879.3H224.0V879.1H223.0V879.8H222.0V880.3H221.0V880.1H220.0V879.0H219.0V880.5H218.0V879.3H217.0V879.5H216.0V879.1H215.0V879.8H214.0V879.6H213.0V880.3H212.0V879.6H211.0V879.3H210.0V879.2H209.0V879.1H208.0V880.2H207.0V879.0H206.0V879.3H205.0V879.2H204.0V879.6H203.0V880.8H202.0V881.3H201.0V880.0H200.0V880.7H199.0V879.1H198.0V880.9H197.0V879.2H196.0V879.7H195.0V881.1H194.0V879.3H193.0V881.3H192.0V879.3H191.0V880.1H190.0V880.2H189.0V879.9H188.0V879.1H187.0V883.2H186.0V880.3H185.0V879.7H184.0V880.2H183.0V880.3H182.0V879.3H181.0V879.6H180.0V879.0H179.0V880.8H178.0V879.5H177.0V883.3H176.0V879.1H175.0V883.3H174.0V879.3H173.0V882.5H172.0V879.2H171.0V879.7H170.0V880.2H169.0V880.4H168.0V880.4H167.0V879.6H166.0V879.4H165.0V880.6H164.0V883.5H163.0V880.5H162.0V883.0H161.0V881.7H160.0V879.6H159.0V879.4H158.0V879.4H157.0V879.7H156.0V881.0H155.0V879.7H154.0V879.0H153.0V879.9H152.0V879.2H151.0V880.7H150.0V880.2H149.0V880.6H148.0V880.3H147.0V880.5H146.0V879.4H145.0V879.1H144.0V879.2H143.0V879.1H142.0V879.3H141.0V879.2H140.0V880.3H139.0V879.8H138.0V879.2H137.0V881.5H136.0V880.2H135.0V879.0H134.0V881.3H133.0V879.1H132.0V880.1H131.0V881.5H130.0V880.4H129.0V879.5H128.0V879.9H127.0V881.9H126.0V879.8H125.0V879.1H124.0V881.0H123.0V879.1H122.0V880.2H121.0V879.9H120.0V879.8H119.0V881.2H118.0V879.6H117.0V879.7H116.0V881.6H115.0V881.0H114.0V879.6H113.0V879.0H112.0V879.2H111.0V879.3H110.0V879.2H109.0V881.0H108.0V879.4H107.0V879.5H106.0V879.4H105.0V879.8H104.0V879.2H103.0V880.0H102.0V879.5H101.0V879.4H100.0V879.9H99.0V881.0H98.0V881.0H97.0V879.3H96.0V880.1H95.0V879.5H94.0V881.2H93.0V879.7H92.0V880.7H91.0V879.6H90.0V879.1H89.0V880.8H88.0V880.7H87.0V879.2H86.0V881.2H85.0V879.2H84.0V879.1H83.0V879.5H82.0V880.9H81.0V879.1H80.0V879.8H79.0Z" fill="#e61419"/>
<path d="M79.0,793.2V793.1H80.0V792.0H81.0V792.7H82.0V793.0H83.0V793.0H84.0V793.1H85.0V793.1H86.0V792.6H87.0V793.0H88.0V793.0H89.0V792.2H90.0V793.1H91.0V791.6H92.0V792.9H93.0V792.2H94.0V792.2H95.0V792.6H96.0V793.2H97.0V792.6H98.0V792.9H99.0V793.0H100.0V792.8H101.0V792.6H102.0V792.9H103.0V792.9H104.0V793.1H105.0V793.1H106.0V792.7H107.0V791.2H108.0V793.1H109.0V792.6H110.0V792.7H111.0V792.4H112.0V793.0H113.0V793.0H114.0V793.0H115.0V792.2H116.0V792.2H117.0V792.3H118.0V793.0H119.0V792.9H120.0V793.0H121.0V792.6H122.0V793.1H123.0V792.5H124.0V792.3H125.0V792.8H126.0V793.1H127.0V793.0H128.0V792.7H129.0V792.5H130.0V793.1H131.0V792.6H132.0V791.9H133.0V792.5H134.0V792.0H135.0V791.4H136.0V793.0H137.0V793.1H138.0V791.9H139.0V792.9H140.0V793.1H141.0V792.7H142.0V792.8H143.0V793.1H144.0V791.8H145.0V792.8H146.0V791.0H147.0V793.0H148.0V793.2H149.0V791.9H150.0V793.0H151.0V791.8H152.0V792.8H153.0V792.5H154.0V793.1H155.0V793.0H156.0V792.6H157.0V791.5H158.0V792.3H159.0V791.9H160.0V792.4H161.0V791.2H162.0V793.1H163.0V793.1H164.0V793.0H165.0V792.7H166.0V792.9H167.0V793.2H168.0V793.1H169.0V793.0H170.0V793.0H171.0V793.0H172.0V792.7H173.0V792.6H174.0V792.2H175.0V792.9H176.0V791.7H177.0V792.9H178.0V792.9H179.0V792.9H180.0V792.4H181.0V792.5H182.0V792.9H183.0V793.0H184.0V793.2H185.0V793.0H186.0V793.2H187.0V793.0H188.0V793.1H189.0V792.6H190.0V792.4H191.0V792.8H192.0V792.8H193.0V793.0H194.0V791.4H195.0V791.0H196.0V792.6H197.0V792.2H198.0V792.9H199.0V792.7H200.0V792.9H201.0V791.6H202.0V792.7H203.0V792.0H204.0V792.7H205.0V793.2H206.0V793.0H207.0V792.7H208.0V791.8H209.0V792.6H210.0V793.0H211.0V792.6H212.0V792.6H213.0V791.2H214.0V792.7H215.0V793.2H216.0V791.0H217.0V793.1H218.0V793.0H219.0V791.4H220.0V792.6H221.0V792.6H222.0V792.9H223.0V792.9H224.0V793.0H225.0V792.4H226.0V793.0H227.0V793.1H228.0V793.1H229.0V793.1H230.0V791.9H231.0V793.0H232.0V793.1H233.0V792.6H234.0V793.0H235.0V792.3H236.0V792.6H237.0V792.7H238.0V792.8H239.0V792.9H240.0V792.9H241.0V792.5H242.0V793.2H243.0V793.1H244.0V792.5H245.0V792.5H246.0V792.7H247.0V793.0H248.0V793.1H249.0V792.8H250.0V793.0H251.0V792.5H252.0V792.4H253.0V792.5H254.0V792.7H255.0V792.0H256.0V792.8H257.0V793.0H258.0V793.1H259.0V793.1H260.0V792.7H261.0V792.4H262.0V792.7H263.0V793.1H264.0V792.5H265.0V792.5H266.0V792.9H267.0V792.8H268.0V793.2H269.0V792.7H270.0V793.2H271.0V793.0H272.0V792.3H273.0V792.7H274.0V792.9H275.0V791.9H276.0V792.7H277.0V791.7H278.0V792.8H279.0V792.6H280.0V792.6H281.0V793.2H282.0V793.1H283.0V793.1H284.0V793.1H285.0V791.0H286.0V792.6H287.0V792.5H288.0V791.8H289.0V793.1H290.0V792.4H291.0V792.8H292.0V792.9H293.0V792.4H294.0V792.3H295.0V792.7H296.0V792.6H297.0V792.2H298.0V793.0H299.0V792.2H300.0V792.8H301.0V791.8H302.0V792.5H303.0V792.7H304.0V791.1H305.0V792.8H306.0V793.1H307.0V792.8H308.0V792.9H309.0V791.3H310.0V793.1H311.0V792.7H312.0V792.7H313.0V793.1H314.0V792.5H315.0V792.7H316.0V792.9H317.0V791.5H318.0V793.1H319.0V792.7H320.0V793.0H321.0V792.8H322.0V792.9H323.0V792.6H324.0V792.0H325.0V793.2H326.0V792.8H327.0V792.5H328.0V793.0H329.0V793.0H330.0V791.6H331.0V793.1H332.0V792.7H333.0V792.5H334.0V792.6H335.0V793.2H336.0V791.4H337.0V793.2H338.0V793.2H339.0V792.8H340.0V793.2H341.0V793.0H342.0V792.3H343.0V792.7H344.0V792.7H345.0V791.8H346.0V793.1H347.0V791.0H348.0V792.6H349.0V792.6H350.0V793.2H351.0V792.1H352.0V792.9H353.0V792.9H354.0V792.6H355.0V792.9H356.0V791.7H357.0V791.8H358.0V792.9H359.0V793.1H360.0V792.9H361.0V791.0H362.0V793.0H363.0V792.8H364.0V793.1H365.0V792.8H366.0V791.5H367.0V792.9H368.0V793.2H369.0V792.7H370.0V792.4H371.0V793.0H372.0V793.1H373.0V793.0H374.0V792.3H375.0V792.9H376.0V793.2H377.0V792.5H378.0V793.0H379.0V792.8H380.0V792.9H381.0V793.1H382.0V792.9H383.0V793.0H384.0V792.8H385.0V793.1H386.0V791.0H387.0V792.2H388.0V792.5H389.0V793.0H390.0V791.5H391.0V791.2H392.0V793.1H393.0V793.0H394.0V793.1H395.0V793.0H396.0V792.3H397.0V791.0H398.0V792.8H399.0V792.9H400.0V792.5H401.0V792.1H402.0V792.8H403.0V792.8H404.0V792.9H405.0V792.9H406.0V792.9H407.0V793.1H408.0V791.7H409.0V792.8H410.0V792.6H411.0V792.9H412.0V792.4H413.0V793.1H414.0V792.2H415.0V791.4H416.0V793.1H417.0V792.9H418.0V793.2H419.0V792.4H420.0V792.8H421.0V793.2H422.0V791.9H423.0V791.8H424.0V793.0H425.0V792.5H426.0V793.2H427.0V792.6H428.0V793.0H429.0V793.2H430.0V793.0H431.0V792.8H432.0V793.2H433.0V792.0H434.0V792.9H435.0V792.8H436.0V791.3H437.0V791.7H438.0V792.5H439.0V792.5H440.0V792.2H441.0V792.6H442.0V792.7H443.0V792.1H444.0V793.1H445.0V791.0H446.0V793.0H447.0V793.1H448.0V792.7H449.0V792.8H450.0V792.8H451.0V792.1H452.0V793.2H453.0V793.1H454.0V793.1H455.0V792.8H456.0V793.0H457.0V792.6H458.0V792.9H459.0V793.2H460.0V792.3H461.0V792.8H462.0V792.9H463.0V793.0H464.0V792.1H465.0V792.7H466.0V793.1H467.0V792.9H468.0V791.0H469.0V793.0H470.0V793.1H471.0V793.2H472.0V793.2H473.0V793.2H474.0V792.9H475.0V791.9H476.0V791.6H477.0V791.9H478.0V792.9H479.0V792.6H480.0V793.2H481.0V792.4H482.0V793.0H483.0V792.6H484.0V793.0H485.0V792.8H486.0V792.9H487.0V792.7H488.0V793.0H489.0V793.1H490.0V792.7H491.0V792.4H492.0V792.9H493.0V791.4H494.0V792.9H495.0V792.9H496.0V792.9H497.0V791.4H498.0V793.0H499.0V792.7H500.0V792.8H501.0V791.0H502.0V793.2H503.0V791.0H504.0V793.0H505.0V792.3H506.0V793.1H507.0V792.5H508.0V793.0H509.0V793.1H510.0V793.1H511.0V793.1H512.0V791.9H513.0V792.9H514.0V793.0H515.0V792.3H516.0V792.8H517.0V792.6H518.0V793.0H519.0V793.1H520.0V793.1H521.0V793.0H522.0V792.9H523.0V792.6H524.0V792.9H525.0V792.9H526.0V793.1H527.0V792.9H528.0V792.8H529.0V793.1H530.0V792.4H531.0V791.8H532.0V792.7H533.0V793.0H533.6V868.6V868.6H533.0V868.7H532.0V869.1H531.0V869.2H530.0V869.3H529.0V869.7H528.0V869.8H527.0V868.7H526.0V869.5H525.0V870.1H524.0V868.8H523.0V869.3H522.0V869.1H521.0V868.7H520.0V869.1H519.0V869.9H518.0V869.4H517.0V869.1H516.0V869.4H515.0V868.8H514.0V869.3H513.0V868.7H512.0V869.1H511.0V871.4H510.0V868.7H509.0V868.8H508.0V868.7H507.0V869.2H506.0V870.2H505.0V869.6H504.0V868.7H503.0V868.8H502.0V868.6H501.0V868.9H500.0V868.7H499.0V868.7H498.0V868.6H497.0V869.8H496.0V868.7H495.0V871.2H494.0V870.7H493.0V869.2H492.0V868.6H491.0V868.9H490.0V869.1H489.0V868.7H488.0V869.3H487.0V869.5H486.0V869.6H485.0V869.3H484.0V870.5H483.0V868.7H482.0V868.8H481.0V868.7H480.0V869.0H479.0V869.3H478.0V870.0H477.0V869.0H476.0V868.8H475.0V869.5H474.0V869.3H473.0V869.3H472.0V869.1H471.0V869.1H470.0V871.1H469.0V869.7H468.0V869.0H467.0V869.0H466.0V868.6H465.0V869.2H464.0V869.8H463.0V870.2H462.0V868.9H461.0V869.2H460.0V871.0H459.0V869.5H458.0V868.7H457.0V869.6H456.0V869.8H455.0V869.9H454.0V869.8H453.0V869.8H452.0V869.1H451.0V868.6H450.0V868.9H449.0V870.4H448.0V869.4H447.0V868.7H446.0V868.6H445.0V869.2H444.0V869.0H443.0V868.6H442.0V869.4H441.0V870.2H440.0V868.7H439.0V869.0H438.0V869.2H437.0V869.9H436.0V868.8H435.0V868.7H434.0V869.4H433.0V868.7H432.0V871.4H431.0V868.9H430.0V870.3H429.0V869.1H428.0V869.8H427.0V868.9H426.0V869.1H425.0V868.8H424.0V868.9H423.0V869.0H422.0V868.7H421.0V869.2H420.0V870.7H419.0V869.4H418.0V869.1H417.0V868.9H416.0V869.1H415.0V869.1H414.0V868.8H413.0V869.9H412.0V869.4H411.0V870.7H410.0V869.2H409.0V870.2H408.0V868.9H407.0V868.7H406.0V870.1H405.0V868.8H404.0V870.3H403.0V869.3H402.0V869.6H401.0V869.2H400.0V868.9H399.0V870.0H398.0V869.5H397.0V868.8H396.0V868.9H395.0V871.4H394.0V869.4H393.0V869.0H392.0V868.7H391.0V870.4H390.0V868.8H389.0V869.4H388.0V870.0H387.0V869.0H386.0V869.5H385.0V869.2H384.0V869.4H383.0V869.1H382.0V868.6H381.0V868.8H380.0V870.5H379.0V868.7H378.0V869.1H377.0V870.1H376.0V868.7H375.0V868.9H374.0V868.8H373.0V869.3H372.0V868.9H371.0V868.9H370.0V870.2H369.0V869.4H368.0V870.1H367.0V868.8H366.0V871.4H365.0V869.4H364.0V868.7H363.0V868.7H362.0V869.3H361.0V868.7H360.0V868.9H359.0V870.3H358.0V868.8H357.0V868.7H356.0V870.4H355.0V871.4H354.0V868.7H353.0V869.2H352.0V868.9H351.0V870.4H350.0V868.8H349.0V868.7H348.0V868.8H347.0V869.0H346.0V869.4H345.0V868.9H344.0V869.4H343.0V869.4H342.0V869.0H341.0V868.6H340.0V868.6H339.0V870.1H338.0V869.0H337.0V870.0H336.0V868.6H335.0V870.4H334.0V868.6H333.0V868.9H332.0V869.1H331.0V869.5H330.0V868.8H329.0V870.7H328.0V869.5H327.0V870.5H326.0V869.0H325.0V869.0H324.0V869.2H323.0V869.1H322.0V868.9H321.0V868.8H320.0V869.2H319.0V869.7H318.0V869.2H317.0V869.1H316.0V869.0H315.0V868.7H314.0V869.1H313.0V868.8H312.0V868.6H311.0V868.7H310.0V869.1H309.0V869.1H308.0V869.8H307.0V869.4H306.0V868.7H305.0V869.2H304.0V869.1H303.0V869.1H302.0V869.1H301.0V868.9H300.0V868.6H299.0V868.6H298.0V868.9H297.0V869.3H296.0V868.8H295.0V869.6H294.0V868.9H293.0V870.7H292.0V868.8H291.0V869.0H290.0V871.4H289.0V870.4H288.0V869.1H287.0V869.1H286.0V869.3H285.0V869.7H284.0V869.4H283.0V869.7H282.0V869.3H281.0V869.1H280.0V871.4H279.0V868.6H278.0V868.6H277.0V869.0H276.0V869.6H275.0V870.3H274.0V868.9H273.0V868.6H272.0V869.0H271.0V868.6H270.0V868.7H269.0V868.8H268.0V868.8H267.0V869.6H266.0V869.0H265.0V869.9H264.0V868.6H263.0V870.6H262.0V868.7H261.0V870.9H260.0V869.0H259.0V868.8H258.0V869.5H257.0V869.0H256.0V869.9H255.0V869.2H254.0V868.8H253.0V869.1H252.0V869.5H251.0V869.3H250.0V869.0H249.0V870.8H248.0V869.1H247.0V868.8H246.0V870.3H245.0V868.8H244.0V869.2H243.0V868.9H242.0V868.8H241.0V869.7H240.0V869.0H239.0V869.6H238.0V869.4H237.0V871.2H236.0V868.9H235.0V868.8H234.0V868.6H233.0V869.1H232.0V869.3H231.0V870.8H230.0V868.6H229.0V869.3H228.0V869.6H227.0V870.2H226.0V871.2H225.0V871.4H224.0V869.5H223.0V868.7H222.0V868.7H221.0V871.4H220.0V869.8H219.0V868.8H218.0V869.0H217.0V868.7H216.0V869.3H215.0V868.8H214.0V870.7H213.0V868.8H212.0V871.4H211.0V869.2H210.0V869.2H209.0V870.8H208.0V868.8H207.0V870.0H206.0V869.4H205.0V868.7H204.0V870.0H203.0V869.7H202.0V869.0H201.0V870.6H200.0V868.8H199.0V868.8H198.0V868.7H197.0V868.8H196.0V870.4H195.0V868.7H194.0V869.2H193.0V868.8H192.0V868.8H191.0V869.1H190.0V869.3H189.0V869.0H188.0V868.8H187.0V870.2H186.0V868.7H185.0V868.9H184.0V870.4H183.0V868.8H182.0V868.9H181.0V869.6H180.0V869.6H179.0V868.7H178.0V869.0H177.0V869.5H176.0V869.1H175.0V869.0H174.0V869.3H173.0V869.8H172.0V870.1H171.0V868.8H170.0V870.3H169.0V868.7H168.0V870.3H167.0V869.1H166.0V869.2H165.0V868.6H164.0V869.3H163.0V869.0H162.0V871.4H161.0V868.7H160.0V869.2H159.0V869.3H158.0V868.8H157.0V869.9H156.0V869.4H155.0V868.7H154.0V870.4H153.0V869.2H152.0V870.6H151.0V871.4H150.0V869.1H149.0V868.9H148.0V868.9H147.0V868.9H146.0V869.0H145.0V869.4H144.0V869.0H143.0V868.6H142.0V869.2H141.0V870.3H140.0V868.8H139.0V869.1H138.0V869.7H137.0V868.7H136.0V871.4H135.0V868.7H134.0V868.7H133.0V869.0H132.0V868.7H131.0V869.0H130.0V870.4H129.0V868.7H128.0V868.7H127.0V869.7H126.0V868.7H125.0V869.2H124.0V869.1H123.0V868.8H122.0V868.8H121.0V868.9H120.0V869.0H119.0V869.2H118.0V870.3H117.0V868.8H116.0V868.7H115.0V870.3H114.0V868.9H113.0V870.4H112.0V870.7H111.0V868.7H110.0V869.8H109.0V870.5H108.0V868.7H107.0V868.8H106.0V869.3H105.0V869.1H104.0V871.4H103.0V869.0H102.0V868.9H101.0V869.9H100.0V868.9H99.0V868.7H98.0V870.5H97.0V870.3H96.0V869.5H95.0V869.3H94.0V871.4H93.0V870.9H92.0V868.7H91.0V869.2H90.0V868.7H89.0V870.1H88.0V868.9H87.0V869.4H86.0V868.7H85.0V869.0H84.0V869.9H83.0V869.8H82.0V868.8H81.0V868.7H80.0V871.4H79.0Z" fill="#1f4a9e"/>
<path d="M550.1,785.7V783.3H551.0V784.9H552.0V784.4H553.0V784.2H554.0V782.5H555.0V784.0H556.0V784.8H557.0V784.6H558.0V785.3H559.0V782.7H560.0V784.3H561.0V785.6H562.0V783.6H563.0V778.7H564.0V781.8H565.0V784.0H566.0V784.2H567.0V778.7H568.0V783.3H569.0V785.0H570.0V782.7H571.0V781.5H572.0V784.8H573.0V785.0H574.0V784.5H575.0V785.5H576.0V783.1H577.0V785.3H578.0V783.7H579.0V785.0H580.0V785.2H581.0V783.0H582.0V779.9H583.0V785.1H584.0V781.8H585.0V785.4H586.0V784.9H587.0V785.0H588.0V784.3H589.0V785.0H590.0V785.3H591.0V784.1H592.0V784.8H593.0V783.9H594.0V784.5H595.0V784.9H596.0V784.7H597.0V783.1H598.0V783.8H599.0V785.1H600.0V784.7H601.0V785.7H602.0V782.5H603.0V780.5H604.0V783.6H605.0V782.4H606.0V785.4H607.0V785.0H608.0V785.5H609.0V785.6H610.0V785.0H611.0V784.5H612.0V783.3H613.0V782.6H614.0V785.3H615.0V782.6H616.0V782.2H617.0V784.3H618.0V783.4H619.0V781.0H620.0V784.6H621.0V785.5H622.0V785.4H623.0V784.3H624.0V784.0H625.0V785.0H626.0V785.1H627.0V783.5H628.0V783.9H629.0V782.7H630.0V784.2H631.0V784.0H632.0V784.7H633.0V785.0H634.0V784.2H635.0V784.3H636.0V785.3H637.0V785.0H638.0V785.6H639.0V784.0H640.0V785.5H641.0V784.7H642.0V779.6H643.0V782.2H644.0V783.7H645.0V783.1H646.0V783.9H647.0V780.5H648.0V785.4H649.0V784.2H650.0V784.9H651.0V785.0H652.0V780.8H653.0V783.1H654.0V785.2H655.0V784.5H656.0V783.9H657.0V784.4H658.0V785.0H659.0V785.6H660.0V783.8H661.0V783.7H662.0V785.0H663.0V785.6H664.0V785.6H665.0V783.8H666.0V783.8H667.0V782.4H668.0V785.0H669.0V784.3H670.0V784.0H671.0V783.7H672.0V781.0H673.0V785.0H674.0V784.3H675.0V782.7H676.0V782.6H677.0V785.4H678.0V785.3H679.0V785.0H680.0V785.2H681.0V785.3H682.0V782.1H683.0V784.3H684.0V783.4H685.0V784.5H686.0V785.6H687.0V784.8H688.0V785.3H689.0V785.2H690.0V783.3H691.0V784.8H692.0V784.3H693.0V785.3H694.0V785.7H695.0V785.3H696.0V785.5H697.0V781.7H698.0V782.0H699.0V784.7H700.0V782.8H701.0V785.2H702.0V782.9H703.0V785.3H704.0V784.5H705.0V785.1H706.0V785.2H707.0V784.3H708.0V785.2H709.0V783.9H710.0V779.2H711.0V782.3H712.0V785.5H713.0V785.7H714.0V784.6H715.0V782.5H716.0V783.9H717.0V782.7H718.0V784.1H719.0V785.0H720.0V785.1H721.0V783.8H722.0V783.5H723.0V783.1H724.0V785.4H725.0V785.1H726.0V785.7H727.0V785.3H728.0V784.9H729.0V783.3H730.0V781.6H731.0V783.3H732.0V784.2H733.0V784.4H734.0V785.4H735.0V783.8H736.0V785.1H737.0V784.1H738.0V784.5H739.0V784.7H740.0V783.8H741.0V785.5H742.0V784.7H743.0V785.5H744.0V784.9H745.0V784.6H746.0V783.2H747.0V785.3H748.0V784.1H749.0V782.8H750.0V785.4H751.0V785.6H752.0V784.0H753.0V785.4H754.0V785.5H755.0V785.2H756.0V784.2H757.0V784.6H758.0V785.2H759.0V785.6H760.0V783.6H761.0V785.1H762.0V785.3H763.0V784.4H764.0V784.8H765.0V785.6H766.0V785.3H767.0V781.9H768.0V783.3H769.0V785.5H770.0V785.2H771.0V785.2H772.0V784.6H773.0V782.6H774.0V784.6H775.0V785.6H776.0V781.5H777.0V785.5H778.0V784.8H779.0V784.0H780.0V784.2H781.0V785.1H782.0V784.5H783.0V784.3H784.0V785.6H785.0V782.6H786.0V784.9H787.0V784.8H788.0V784.8H789.0V783.1H790.0V785.0H791.0V781.3H792.0V784.6H793.0V783.7H794.0V783.5H795.0V785.6H796.0V784.5H797.0V785.5H798.0V785.1H799.0V784.7H800.0V785.2H801.0V778.7H802.0V785.1H803.0V785.1H804.0V784.5H805.0V785.3H806.0V780.9H807.0V780.1H808.0V784.3H809.0V783.0H810.0V784.9H811.0V784.9H812.0V785.1H813.0V782.4H814.0V783.3H815.0V785.7H816.0V785.4H817.0V784.7H818.0V784.5H819.0V784.8H820.0V785.0H821.0V785.6H822.0V785.4H823.0V781.6H824.0V784.1H825.0V785.0H826.0V785.2H827.0V785.6H828.0V785.4H829.0V782.7H830.0V784.9H831.0V784.4H832.0V785.4H833.0V783.4H834.0V785.5H835.0V785.2H836.0V785.7H837.0V785.6H838.0V785.4H839.0V784.4H840.0V783.3H841.0V785.4H842.0V785.3H843.0V785.4H844.0V784.4H845.0V779.9H846.0V784.6H847.0V785.7H848.0V783.8H849.0V785.3H850.0V785.6H851.0V783.5H852.0V785.6H853.0V785.5H854.0V781.0H855.0V783.0H856.0V785.1H857.0V784.9H858.0V785.4H859.0V784.4H860.0V784.9H861.0V785.5H862.0V785.3H863.0V783.1H864.0V785.4H865.0V785.4H866.0V785.5H867.0V783.8H868.0V783.1H869.0V784.5H870.0V785.5H871.0V785.3H872.0V785.2H873.0V785.3H874.0V785.1H875.0V785.1H876.0V784.0H877.0V785.6H878.0V785.4H879.0V783.4H880.0V785.4H881.0V784.5H882.0V784.6H883.0V784.6H884.0V781.6H885.0V785.1H886.0V785.6H887.0V785.5H888.0V781.5H889.0V784.6H890.0V785.2H891.0V784.9H892.0V785.3H893.0V784.0H894.0V785.5H895.0V784.3H896.0V783.6H897.0V785.2H898.0V780.2H899.0V785.1H900.0V779.1H901.0V785.0H902.0V784.8H903.0V783.5H904.0V783.9H905.0V785.6H906.0V785.1H907.0V784.8H908.0V785.0H909.0V784.7H910.0V785.5H911.0V783.7H912.0V785.3H913.0V784.6H914.0V783.9H915.0V785.4H916.0V784.1H917.0V783.7H918.0V785.4H919.0V784.4H920.0V784.5H921.0V780.6H922.0V783.2H923.0V784.9H924.0V784.0H925.0V784.9H926.0V785.3H927.0V785.3H928.0V785.4H929.0V784.8H930.0V784.6H931.0V785.6H932.0V785.7H933.0V785.1H934.0V784.9H935.0V785.1H936.0V785.6H937.0V785.7H938.0V784.9H939.0V785.3H940.0V785.1H941.0V783.1H942.0V785.7H943.0V783.9H944.0V783.7H945.0V785.6H946.0V784.5H947.0V785.5H948.0V785.4H949.0V785.3H950.0V784.5H951.0V785.7H952.0V784.9H953.0V785.1H954.0V783.8H955.0V784.0H956.0V783.4H957.0V781.7H958.0V784.7H959.0V785.7H960.0V781.9H961.0V785.6H962.0V782.0H963.0V783.4H964.0V785.4H965.0V785.0H966.0V784.4H967.0V784.9H968.0V783.5H969.0V785.6H970.0V784.5H971.0V785.5H972.0V784.9H973.0V783.5H974.0V783.1H975.0V785.5H976.0V783.9H977.0V785.6H978.0V783.0H979.0V785.0H980.0V785.4H981.0V784.3H982.0V785.6H983.0V782.9H984.0V781.7H985.0V780.0H986.0V785.0H987.0V785.3H988.0V781.6H989.0V781.9H990.0V781.9H991.0V781.9H992.0V784.2H993.0V785.7H994.0V783.7H995.0V781.3H996.0V785.4H997.0V785.3H998.0V785.2H999.0V783.5H1000.0V784.3H1001.0V785.6H1002.0V784.6H1003.0V785.1H1004.0V783.5H1005.0V879.0V879.2H1004.0V879.2H1003.0V880.6H1002.0V879.8H1001.0V880.7H1000.0V880.4H999.0V879.3H998.0V881.5H997.0V879.2H996.0V879.2H995.0V879.1H994.0V879.1H993.0V881.4H992.0V879.7H991.0V879.3H990.0V879.9H989.0V879.5H988.0V879.9H987.0V879.0H986.0V879.9H985.0V879.2H984.0V879.5H983.0V880.2H982.0V880.8H981.0V879.7H980.0V880.1H979.0V879.8H978.0V881.3H977.0V882.2H976.0V879.2H975.0V879.2H974.0V879.2H973.0V883.5H972.0V882.8H971.0V880.9H970.0V879.6H969.0V880.1H968.0V881.8H967.0V879.6H966.0V879.0H965.0V879.1H964.0V879.4H963.0V880.2H962.0V879.9H961.0V879.5H960.0V879.6H959.0V879.4H958.0V879.0H957.0V880.9H956.0V879.3H955.0V881.6H954.0V880.7H953.0V881.2H952.0V879.2H951.0V880.4H950.0V883.5H949.0V879.6H948.0V879.0H947.0V879.3H946.0V879.4H945.0V879.5H944.0V879.1H943.0V882.7H942.0V879.4H941.0V880.0H940.0V880.5H939.0V880.0H938.0V881.3H937.0V879.7H936.0V879.4H935.0V879.3H934.0V879.4H933.0V879.8H932.0V880.9H931.0V880.0H930.0V879.5H929.0V880.1H928.0V880.1H927.0V879.7H926.0V879.4H925.0V881.9H924.0V879.1H923.0V879.4H922.0V880.1H921.0V879.1H920.0V879.2H919.0V879.4H918.0V879.3H917.0V880.7H916.0V879.6H915.0V879.1H914.0V883.5H913.0V879.1H912.0V879.7H911.0V880.1H910.0V880.6H909.0V879.7H908.0V880.0H907.0V882.0H906.0V879.8H905.0V880.3H904.0V879.8H903.0V881.2H902.0V879.1H901.0V879.6H900.0V879.2H899.0V880.5H898.0V880.0H897.0V879.2H896.0V882.9H895.0V879.1H894.0V882.7H893.0V879.2H892.0V880.9H891.0V879.9H890.0V879.3H889.0V879.1H888.0V879.8H887.0V883.5H886.0V879.4H885.0V881.1H884.0V879.8H883.0V880.0H882.0V879.9H881.0V879.7H880.0V879.5H879.0V879.7H878.0V882.9H877.0V881.0H876.0V879.4H875.0V880.9H874.0V880.8H873.0V879.3H872.0V882.6H871.0V879.6H870.0V879.6H869.0V879.3H868.0V879.6H867.0V880.6H866.0V882.6H865.0V879.5H864.0V879.1H863.0V880.8H862.0V879.3H861.0V880.6H860.0V880.6H859.0V879.9H858.0V879.2H857.0V881.0H856.0V879.0H855.0V883.5H854.0V879.6H853.0V879.4H852.0V879.0H851.0V879.1H850.0V879.9H849.0V879.5H848.0V879.6H847.0V879.4H846.0V879.3H845.0V879.2H844.0V879.7H843.0V879.1H842.0V879.3H841.0V879.2H840.0V879.6H839.0V879.4H838.0V879.3H837.0V879.3H836.0V881.2H835.0V879.6H834.0V879.3H833.0V880.1H832.0V882.2H831.0V881.7H830.0V879.4H829.0V879.3H828.0V879.7H827.0V881.1H826.0V879.4H825.0V879.8H824.0V880.5H823.0V879.7H822.0V880.2H821.0V879.6H820.0V879.5H819.0V879.5H818.0V879.0H817.0V880.8H816.0V879.7H815.0V879.1H814.0V880.4H813.0V879.7H812.0V879.9H811.0V879.4H810.0V881.0H809.0V879.8H808.0V880.2H807.0V879.1H806.0V879.0H805.0V880.4H804.0V880.2H803.0V880.2H802.0V881.5H801.0V881.9H800.0V879.9H799.0V879.1H798.0V880.0H797.0V880.4H796.0V882.8H795.0V879.6H794.0V879.1H793.0V879.8H792.0V879.3H791.0V879.1H790.0V881.1H789.0V882.0H788.0V879.0H787.0V879.1H786.0V882.2H785.0V879.0H784.0V879.4H783.0V880.1H782.0V879.3H781.0V880.3H780.0V879.4H779.0V880.7H778.0V879.6H777.0V881.1H776.0V879.4H775.0V883.2H774.0V879.2H773.0V880.4H772.0V879.4H771.0V879.4H770.0V882.9H769.0V879.8H768.0V881.3H767.0V879.4H766.0V879.5H765.0V879.8H764.0V879.6H763.0V879.2H762.0V879.4H761.0V879.1H760.0V879.1H759.0V879.6H758.0V880.0H757.0V883.5H756.0V879.2H755.0V880.8H754.0V883.2H753.0V879.1H752.0V879.0H751.0V880.1H750.0V880.8H749.0V879.0H748.0V879.1H747.0V879.2H746.0V879.3H745.0V879.5H744.0V879.6H743.0V883.5H742.0V879.4H741.0V879.1H740.0V879.8H739.0V879.3H738.0V881.7H737.0V880.8H736.0V879.1H735.0V879.7H734.0V881.8H733.0V879.4H732.0V879.8H731.0V880.2H730.0V879.5H729.0V879.3H728.0V880.2H727.0V879.3H726.0V879.1H725.0V879.0H724.0V883.5H723.0V879.7H722.0V879.5H721.0V880.6H720.0V879.7H719.0V879.4H718.0V879.2H717.0V881.9H716.0V879.9H715.0V879.7H714.0V879.3H713.0V879.2H712.0V879.6H711.0V880.2H710.0V879.8H709.0V879.5H708.0V879.1H707.0V880.0H706.0V881.1H705.0V879.0H704.0V881.4H703.0V879.1H702.0V879.3H701.0V879.1H700.0V879.3H699.0V879.3H698.0V881.1H697.0V879.3H696.0V883.3H695.0V879.9H694.0V879.7H693.0V879.2H692.0V882.2H691.0V879.4H690.0V881.9H689.0V880.7H688.0V879.1H687.0V879.3H686.0V879.6H685.0V880.0H684.0V879.4H683.0V879.1H682.0V879.1H681.0V880.1H680.0V879.9H679.0V879.1H678.0V879.4H677.0V879.0H676.0V881.5H675.0V879.2H674.0V879.0H673.0V880.0H672.0V880.5H671.0V881.2H670.0V881.3H669.0V879.0H668.0V880.1H667.0V879.0H666.0V880.3H665.0V879.4H664.0V879.8H663.0V881.8H662.0V880.4H661.0V880.4H660.0V879.5H659.0V880.1H658.0V879.5H657.0V883.4H656.0V879.2H655.0V881.9H654.0V879.2H653.0V879.5H652.0V879.4H651.0V880.9H650.0V883.5H649.0V879.4H648.0V880.2H647.0V880.4H646.0V879.6H645.0V881.3H644.0V879.4H643.0V879.7H642.0V879.2H641.0V880.7H640.0V880.4H639.0V879.3H638.0V879.1H637.0V881.2H636.0V880.6H635.0V881.3H634.0V881.7H633.0V880.1H632.0V881.5H631.0V882.9H630.0V879.2H629.0V880.6H628.0V881.8H627.0V879.3H626.0V879.8H625.0V879.6H624.0V881.0H623.0V879.9H622.0V879.2H621.0V880.0H620.0V879.6H619.0V880.4H618.0V879.3H617.0V881.0H616.0V879.2H615.0V879.4H614.0V879.8H613.0V880.9H612.0V881.5H611.0V879.4H610.0V879.1H609.0V881.4H608.0V879.7H607.0V880.8H606.0V879.9H605.0V879.1H604.0V880.8H603.0V879.1H602.0V879.8H601.0V882.3H600.0V879.6H599.0V879.7H598.0V881.1H597.0V879.2H596.0V881.8H595.0V879.0H594.0V879.1H593.0V879.5H592.0V881.3H591.0V881.0H590.0V880.6H589.0V879.9H588.0V883.5H587.0V879.7H586.0V883.4H585.0V879.9H584.0V880.9H583.0V879.7H582.0V881.2H581.0V880.5H580.0V879.7H579.0V880.4H578.0V879.4H577.0V879.3H576.0V880.0H575.0V880.5H574.0V879.9H573.0V881.9H572.0V879.2H571.0V879.1H570.0V880.9H569.0V879.4H568.0V880.4H567.0V880.3H566.0V880.6H565.0V879.4H564.0V879.1H563.0V879.4H562.0V880.3H561.0V879.2H560.0V881.2H559.0V879.1H558.0V881.1H557.0V879.4H556.0V880.1H555.0V880.4H554.0V879.1H553.0V879.2H552.0V879.5H551.0V880.0H550.1Z" fill="#e61419"/>
<path d="M550.1,793.2V792.9H551.0V793.1H552.0V792.6H553.0V792.9H554.0V792.6H555.0V792.8H556.0V792.8H557.0V793.0H558.0V791.7H559.0V793.2H560.0V792.7H561.0V792.2H562.0V792.4H563.0V793.1H564.0V792.1H565.0V792.3H566.0V792.2H567.0V792.7H568.0V792.1H569.0V792.3H570.0V791.5H571.0V792.7H572.0V792.3H573.0V793.1H574.0V792.0H575.0V792.9H576.0V792.7H577.0V793.2H578.0V793.1H579.0V792.8H580.0V792.7H581.0V792.3H582.0V792.3H583.0V792.8H584.0V792.5H585.0V793.2H586.0V792.7H587.0V792.8H588.0V792.5H589.0V792.8H590.0V793.1H591.0V792.6H592.0V792.4H593.0V792.7H594.0V792.0H595.0V792.5H596.0V792.9H597.0V792.9H598.0V793.1H599.0V792.7H600.0V793.2H601.0V792.8H602.0V792.0H603.0V792.7H604.0V792.8H605.0V793.0H606.0V793.2H607.0V793.1H608.0V792.3H609.0V792.9H610.0V793.2H611.0V792.8H612.0V792.5H613.0V792.9H614.0V792.8H615.0V793.1H616.0V793.1H617.0V792.7H618.0V793.0H619.0V792.9H620.0V791.2H621.0V793.1H622.0V793.2H623.0V793.0H624.0V792.5H625.0V793.1H626.0V793.0H627.0V792.8H628.0V792.9H629.0V792.6H630.0V792.6H631.0V792.9H632.0V792.9H633.0V791.3H634.0V792.8H635.0V792.3H636.0V791.0H637.0V793.1H638.0V793.1H639.0V793.1H640.0V793.1H641.0V792.5H642.0V793.0H643.0V793.2H644.0V793.0H645.0V792.3H646.0V793.0H647.0V792.8H648.0V793.0H649.0V791.0H650.0V792.7H651.0V793.0H652.0V793.1H653.0V793.1H654.0V793.0H655.0V792.0H656.0V793.1H657.0V792.1H658.0V791.6H659.0V793.0H660.0V793.2H661.0V793.0H662.0V793.2H663.0V792.6H664.0V792.8H665.0V793.0H666.0V791.4H667.0V791.6H668.0V792.7H669.0V792.6H670.0V791.0H671.0V792.7H672.0V792.4H673.0V792.7H674.0V792.9H675.0V792.2H676.0V792.6H677.0V793.2H678.0V793.1H679.0V793.1H680.0V793.1H681.0V793.1H682.0V793.1H683.0V791.7H684.0V792.9H685.0V792.8H686.0V792.4H687.0V793.2H688.0V793.1H689.0V792.5H690.0V792.9H691.0V793.1H692.0V792.4H693.0V793.0H694.0V793.1H695.0V793.1H696.0V792.8H697.0V793.1H698.0V793.1H699.0V792.7H700.0V792.7H701.0V793.1H702.0V793.1H703.0V793.0H704.0V793.2H705.0V793.1H706.0V792.7H707.0V793.0H708.0V792.9H709.0V792.4H710.0V792.3H711.0V793.2H712.0V792.5H713.0V791.3H714.0V793.1H715.0V793.1H716.0V792.2H717.0V792.6H718.0V793.1H719.0V792.0H720.0V793.0H721.0V792.3H722.0V791.1H723.0V793.2H724.0V792.2H725.0V792.4H726.0V792.8H727.0V792.7H728.0V792.5H729.0V792.4H730.0V793.1H731.0V792.6H732.0V793.2H733.0V792.5H734.0V792.4H735.0V792.8H736.0V792.4H737.0V793.1H738.0V792.6H739.0V793.1H740.0V792.5H741.0V791.0H742.0V792.6H743.0V793.2H744.0V792.0H745.0V792.5H746.0V793.1H747.0V793.1H748.0V793.2H749.0V792.4H750.0V792.5H751.0V793.1H752.0V792.6H753.0V792.8H754.0V792.3H755.0V793.1H756.0V793.1H757.0V793.1H758.0V792.6H759.0V792.2H760.0V793.1H761.0V792.7H762.0V792.8H763.0V792.8H764.0V793.0H765.0V793.0H766.0V792.6H767.0V793.1H768.0V792.7H769.0V793.1H770.0V793.2H771.0V793.1H772.0V792.7H773.0V792.8H774.0V793.2H775.0V791.8H776.0V793.2H777.0V793.0H778.0V792.8H779.0V792.6H780.0V791.9H781.0V791.1H782.0V793.1H783.0V792.2H784.0V793.0H785.0V792.1H786.0V793.2H787.0V792.7H788.0V791.8H789.0V793.1H790.0V791.0H791.0V791.0H792.0V792.9H793.0V793.1H794.0V792.4H795.0V792.8H796.0V793.1H797.0V792.4H798.0V791.6H799.0V792.7H800.0V792.8H801.0V793.0H802.0V792.5H803.0V791.4H804.0V792.9H805.0V792.9H806.0V791.5H807.0V791.0H808.0V792.9H809.0V793.2H810.0V791.4H811.0V792.6H812.0V792.7H813.0V792.3H814.0V793.1H815.0V792.0H816.0V792.7H817.0V792.7H818.0V793.1H819.0V793.1H820.0V793.1H821.0V792.0H822.0V792.4H823.0V792.5H824.0V791.6H825.0V793.1H826.0V792.2H827.0V792.9H828.0V792.9H829.0V793.1H830.0V793.0H831.0V792.3H832.0V792.8H833.0V791.0H834.0V793.0H835.0V792.8H836.0V792.3H837.0V793.1H838.0V791.9H839.0V792.7H840.0V792.9H841.0V792.1H842.0V791.7H843.0V792.0H844.0V792.5H845.0V792.8H846.0V792.8H847.0V791.9H848.0V792.1H849.0V792.9H850.0V792.8H851.0V792.1H852.0V792.7H853.0V791.4H854.0V793.2H855.0V792.4H856.0V792.5H857.0V792.8H858.0V792.6H859.0V793.0H860.0V793.2H861.0V793.1H862.0V793.0H863.0V793.1H864.0V793.0H865.0V792.6H866.0V793.0H867.0V793.0H868.0V791.1H869.0V793.1H870.0V792.4H871.0V793.1H872.0V793.0H873.0V792.3H874.0V793.0H875.0V792.6H876.0V792.8H877.0V792.6H878.0V792.4H879.0V793.1H880.0V793.1H881.0V792.3H882.0V792.7H883.0V793.0H884.0V793.0H885.0V792.1H886.0V792.7H887.0V793.1H888.0V793.0H889.0V792.7H890.0V792.8H891.0V793.1H892.0V793.0H893.0V793.1H894.0V791.7H895.0V792.9H896.0V792.4H897.0V792.5H898.0V793.0H899.0V792.3H900.0V792.8H901.0V792.9H902.0V792.2H903.0V792.2H904.0V792.6H905.0V792.9H906.0V792.7H907.0V793.0H908.0V792.3H909.0V792.5H910.0V793.0H911.0V793.2H912.0V792.7H913.0V792.4H914.0V793.1H915.0V792.2H916.0V792.6H917.0V792.0H918.0V793.1H919.0V791.9H920.0V793.2H921.0V793.1H922.0V793.0H923.0V792.6H924.0V792.8H925.0V793.1H926.0V793.0H927.0V792.7H928.0V792.9H929.0V793.1H930.0V792.1H931.0V792.3H932.0V792.9H933.0V792.0H934.0V792.6H935.0V793.2H936.0V792.3H937.0V792.7H938.0V792.6H939.0V792.8H940.0V792.7H941.0V791.0H942.0V793.1H943.0V793.2H944.0V792.6H945.0V793.2H946.0V792.8H947.0V793.0H948.0V793.1H949.0V793.1H950.0V793.1H951.0V792.7H952.0V793.0H953.0V792.8H954.0V792.4H955.0V792.9H956.0V791.3H957.0V792.5H958.0V791.6H959.0V792.7H960.0V793.0H961.0V793.0H962.0V792.6H963.0V792.5H964.0V792.8H965.0V791.8H966.0V792.9H967.0V792.2H968.0V792.4H969.0V792.3H970.0V793.2H971.0V791.1H972.0V792.5H973.0V793.0H974.0V791.8H975.0V792.7H976.0V791.7H977.0V791.0H978.0V792.9H979.0V793.0H980.0V791.0H981.0V791.8H982.0V792.2H983.0V793.1H984.0V792.7H985.0V792.2H986.0V791.5H987.0V792.9H988.0V792.3H989.0V793.1H990.0V793.1H991.0V792.5H992.0V793.1H993.0V792.7H994.0V792.4H995.0V793.1H996.0V792.4H997.0V793.1H998.0V793.1H999.0V792.0H1000.0V793.2H1001.0V791.9H1002.0V792.7H1003.0V792.4H1004.0V793.1H1005.0V868.6V868.9H1004.0V868.8H1003.0V868.9H1002.0V868.9H1001.0V870.2H1000.0V868.7H999.0V868.6H998.0V868.8H997.0V869.9H996.0V870.5H995.0V870.4H994.0V869.1H993.0V868.9H992.0V868.8H991.0V868.8H990.0V869.6H989.0V868.8H988.0V868.7H987.0V868.7H986.0V868.8H985.0V868.8H984.0V870.4H983.0V869.9H982.0V869.7H981.0V869.9H980.0V868.7H979.0V869.6H978.0V869.1H977.0V870.4H976.0V869.0H975.0V869.0H974.0V868.9H973.0V869.0H972.0V868.8H971.0V869.6H970.0V868.9H969.0V870.9H968.0V869.5H967.0V869.4H966.0V869.4H965.0V870.2H964.0V869.9H963.0V869.0H962.0V871.4H961.0V870.8H960.0V868.7H959.0V869.9H958.0V869.1H957.0V868.9H956.0V869.0H955.0V870.2H954.0V871.4H953.0V869.8H952.0V869.2H951.0V869.3H950.0V869.2H949.0V869.5H948.0V869.0H947.0V868.7H946.0V869.0H945.0V868.8H944.0V868.9H943.0V869.2H942.0V870.1H941.0V869.3H940.0V869.2H939.0V871.4H938.0V869.7H937.0V870.0H936.0V869.0H935.0V871.1H934.0V869.0H933.0V869.4H932.0V869.2H931.0V868.7H930.0V869.4H929.0V868.6H928.0V869.8H927.0V869.3H926.0V868.6H925.0V868.8H924.0V869.5H923.0V869.3H922.0V868.7H921.0V868.6H920.0V871.0H919.0V869.6H918.0V868.8H917.0V868.9H916.0V868.6H915.0V870.6H914.0V869.2H913.0V871.4H912.0V869.9H911.0V868.7H910.0V868.9H909.0V868.9H908.0V868.9H907.0V869.8H906.0V868.8H905.0V868.9H904.0V869.0H903.0V868.8H902.0V868.9H901.0V868.8H900.0V869.4H899.0V869.1H898.0V869.7H897.0V870.2H896.0V868.7H895.0V871.1H894.0V868.8H893.0V868.8H892.0V870.0H891.0V870.0H890.0V869.1H889.0V869.5H888.0V869.7H887.0V868.8H886.0V868.7H885.0V868.7H884.0V869.3H883.0V869.1H882.0V869.5H881.0V868.7H880.0V869.4H879.0V869.5H878.0V869.2H877.0V868.9H876.0V868.7H875.0V868.8H874.0V869.7H873.0V869.1H872.0V869.6H871.0V868.7H870.0V869.9H869.0V869.7H868.0V870.1H867.0V869.6H866.0V870.0H865.0V868.7H864.0V869.3H863.0V869.0H862.0V868.7H861.0V869.0H860.0V871.1H859.0V869.7H858.0V870.0H857.0V868.6H856.0V868.9H855.0V869.9H854.0V869.0H853.0V868.9H852.0V869.7H851.0V868.8H850.0V869.8H849.0V869.0H848.0V869.7H847.0V869.5H846.0V869.1H845.0V870.0H844.0V868.8H843.0V868.6H842.0V868.8H841.0V869.5H840.0V869.8H839.0V870.9H838.0V869.9H837.0V869.4H836.0V870.2H835.0V869.4H834.0V868.8H833.0V868.9H832.0V869.2H831.0V868.9H830.0V868.7H829.0V871.1H828.0V869.0H827.0V869.4H826.0V868.6H825.0V869.2H824.0V868.7H823.0V868.8H822.0V869.4H821.0V868.8H820.0V869.1H819.0V868.8H818.0V868.6H817.0V868.8H816.0V869.4H815.0V868.6H814.0V869.1H813.0V870.1H812.0V869.8H811.0V871.1H810.0V869.0H809.0V869.4H808.0V871.0H807.0V871.4H806.0V871.1H805.0V869.5H804.0V868.6H803.0V869.1H802.0V868.8H801.0V869.0H800.0V869.2H799.0V868.7H798.0V868.6H797.0V868.9H796.0V869.2H795.0V869.0H794.0V869.1H793.0V869.0H792.0V868.9H791.0V871.4H790.0V870.2H789.0V869.4H788.0V869.5H787.0V868.6H786.0V870.1H785.0V868.8H784.0V870.0H783.0V868.8H782.0V870.3H781.0V869.2H780.0V868.9H779.0V869.7H778.0V868.6H777.0V870.0H776.0V868.9H775.0V869.2H774.0V868.8H773.0V869.7H772.0V869.6H771.0V868.6H770.0V868.9H769.0V869.5H768.0V868.9H767.0V868.7H766.0V868.9H765.0V868.6H764.0V868.6H763.0V868.9H762.0V869.4H761.0V869.0H760.0V869.3H759.0V869.6H758.0V868.7H757.0V868.8H756.0V869.2H755.0V870.1H754.0V869.2H753.0V869.0H752.0V869.5H751.0V869.0H750.0V868.6H749.0V869.7H748.0V871.3H747.0V869.5H746.0V869.0H745.0V871.0H744.0V868.9H743.0V868.9H742.0V868.8H741.0V869.7H740.0V868.7H739.0V868.9H738.0V869.6H737.0V869.3H736.0V868.8H735.0V869.5H734.0V868.7H733.0V869.4H732.0V870.2H731.0V868.7H730.0V869.0H729.0V869.6H728.0V869.2H727.0V868.6H726.0V868.8H725.0V868.9H724.0V868.8H723.0V868.8H722.0V870.4H721.0V871.4H720.0V869.9H719.0V868.8H718.0V870.3H717.0V868.7H716.0V869.0H715.0V868.7H714.0V868.9H713.0V869.0H712.0V869.9H711.0V869.1H710.0V868.8H709.0V870.2H708.0V869.4H707.0V868.7H706.0V868.8H705.0V869.5H704.0V870.2H703.0V869.7H702.0V868.7H701.0V871.4H700.0V869.1H699.0V871.4H698.0V868.7H697.0V869.4H696.0V868.6H695.0V869.1H694.0V869.0H693.0V868.7H692.0V869.6H691.0V869.1H690.0V869.8H689.0V869.1H688.0V869.0H687.0V869.1H686.0V868.9H685.0V869.2H684.0V868.6H683.0V869.5H682.0V869.3H681.0V868.6H680.0V869.1H679.0V869.1H678.0V868.9H677.0V868.9H676.0V869.0H675.0V868.8H674.0V868.6H673.0V869.8H672.0V869.0H671.0V869.0H670.0V871.4H669.0V869.1H668.0V869.3H667.0V868.9H666.0V868.9H665.0V868.6H664.0V869.9H663.0V869.7H662.0V868.9H661.0V869.6H660.0V868.7H659.0V871.4H658.0V870.3H657.0V870.6H656.0V869.7H655.0V868.8H654.0V869.6H653.0V870.7H652.0V868.8H651.0V869.3H650.0V868.7H649.0V868.7H648.0V870.9H647.0V870.0H646.0V870.5H645.0V869.4H644.0V871.3H643.0V869.5H642.0V868.7H641.0V869.2H640.0V869.1H639.0V869.0H638.0V871.4H637.0V868.7H636.0V869.5H635.0V868.8H634.0V868.8H633.0V869.9H632.0V870.6H631.0V868.6H630.0V869.9H629.0V869.8H628.0V869.8H627.0V868.9H626.0V868.8H625.0V869.2H624.0V869.7H623.0V868.8H622.0V868.9H621.0V869.9H620.0V868.7H619.0V871.4H618.0V869.2H617.0V871.4H616.0V869.2H615.0V868.6H614.0V868.7H613.0V868.6H612.0V870.2H611.0V869.7H610.0V869.8H609.0V869.8H608.0V868.6H607.0V868.9H606.0V868.9H605.0V870.0H604.0V868.7H603.0V869.0H602.0V868.9H601.0V869.3H600.0V868.8H599.0V869.0H598.0V871.4H597.0V869.2H596.0V869.7H595.0V869.3H594.0V868.7H593.0V869.3H592.0V870.6H591.0V868.8H590.0V870.9H589.0V869.7H588.0V869.9H587.0V868.6H586.0V870.7H585.0V869.0H584.0V869.1H583.0V868.9H582.0V869.2H581.0V870.5H580.0V869.0H579.0V869.1H578.0V869.5H577.0V869.5H576.0V868.8H575.0V869.8H574.0V871.4H573.0V869.1H572.0V868.9H571.0V870.6H570.0V871.2H569.0V869.6H568.0V868.8H567.0V869.4H566.0V869.1H565.0V869.2H564.0V869.5H563.0V868.9H562.0V871.1H561.0V869.5H560.0V869.2H559.0V869.9H558.0V869.2H557.0V868.9H556.0V869.0H555.0V870.2H554.0V869.1H553.0V869.2H552.0V868.8H551.0V868.8H550.1Z" fill="#1f4a9e"/>
<line x1="77.60" y1="662.90" x2="534.50" y2="662.90" stroke="#000" stroke-width="2.05" />
<line x1="549.10" y1="662.90" x2="1006.00" y2="662.90" stroke="#000" stroke-width="2.05" />
<line x1="77.60" y1="901.40" x2="534.50" y2="901.40" stroke="#000" stroke-width="1.4" />
<line x1="549.10" y1="901.40" x2="1006.00" y2="901.40" stroke="#000" stroke-width="1.4" />
<line x1="537.20" y1="652.60" x2="532.00" y2="673.20" stroke="#000" stroke-width="1.5" />
<line x1="552.60" y1="652.60" x2="547.40" y2="673.20" stroke="#000" stroke-width="1.5" />
<line x1="537.20" y1="891.10" x2="532.00" y2="911.70" stroke="#000" stroke-width="1.5" />
<line x1="552.60" y1="891.10" x2="547.40" y2="911.70" stroke="#000" stroke-width="1.5" />
<line x1="78.00" y1="901.40" x2="78.00" y2="891.20" stroke="#000" stroke-width="1.6" />
<line x1="78.00" y1="662.90" x2="78.00" y2="673.70" stroke="#000" stroke-width="1.6" />
<text x="71.16" y="928.20" font-size="20" fill="#000" textLength="11.57" lengthAdjust="spacingAndGlyphs" >0</text>
<line x1="123.55" y1="901.40" x2="123.55" y2="896.20" stroke="#000" stroke-width="1.6" />
<line x1="123.55" y1="662.90" x2="123.55" y2="668.70" stroke="#000" stroke-width="1.6" />
<line x1="169.10" y1="901.40" x2="169.10" y2="891.20" stroke="#000" stroke-width="1.6" />
<line x1="169.10" y1="662.90" x2="169.10" y2="673.70" stroke="#000" stroke-width="1.6" />
<text x="149.18" y="928.20" font-size="20" fill="#000" textLength="34.71" lengthAdjust="spacingAndGlyphs" >200</text>
<line x1="214.65" y1="901.40" x2="214.65" y2="896.20" stroke="#000" stroke-width="1.6" />
<line x1="214.65" y1="662.90" x2="214.65" y2="668.70" stroke="#000" stroke-width="1.6" />
<line x1="260.20" y1="901.40" x2="260.20" y2="891.20" stroke="#000" stroke-width="1.6" />
<line x1="260.20" y1="662.90" x2="260.20" y2="673.70" stroke="#000" stroke-width="1.6" />
<text x="240.60" y="928.20" font-size="20" fill="#000" textLength="34.71" lengthAdjust="spacingAndGlyphs" >400</text>
<line x1="305.75" y1="901.40" x2="305.75" y2="896.20" stroke="#000" stroke-width="1.6" />
<line x1="305.75" y1="662.90" x2="305.75" y2="668.70" stroke="#000" stroke-width="1.6" />
<line x1="351.30" y1="901.40" x2="351.30" y2="891.20" stroke="#000" stroke-width="1.6" />
<line x1="351.30" y1="662.90" x2="351.30" y2="673.70" stroke="#000" stroke-width="1.6" />
<text x="331.38" y="928.20" font-size="20" fill="#000" textLength="34.71" lengthAdjust="spacingAndGlyphs" >600</text>
<line x1="396.85" y1="901.40" x2="396.85" y2="896.20" stroke="#000" stroke-width="1.6" />
<line x1="396.85" y1="662.90" x2="396.85" y2="668.70" stroke="#000" stroke-width="1.6" />
<line x1="442.40" y1="901.40" x2="442.40" y2="891.20" stroke="#000" stroke-width="1.6" />
<line x1="442.40" y1="662.90" x2="442.40" y2="673.70" stroke="#000" stroke-width="1.6" />
<text x="422.54" y="928.20" font-size="20" fill="#000" textLength="34.71" lengthAdjust="spacingAndGlyphs" >800</text>
<line x1="487.95" y1="901.40" x2="487.95" y2="896.20" stroke="#000" stroke-width="1.6" />
<line x1="487.95" y1="662.90" x2="487.95" y2="668.70" stroke="#000" stroke-width="1.6" />
<line x1="533.50" y1="901.40" x2="533.50" y2="891.20" stroke="#000" stroke-width="1.6" />
<line x1="533.50" y1="662.90" x2="533.50" y2="673.70" stroke="#000" stroke-width="1.6" />
<line x1="595.65" y1="901.40" x2="595.65" y2="896.20" stroke="#000" stroke-width="1.6" />
<line x1="595.65" y1="662.90" x2="595.65" y2="668.70" stroke="#000" stroke-width="1.6" />
<line x1="641.20" y1="901.40" x2="641.20" y2="891.20" stroke="#000" stroke-width="1.6" />
<line x1="641.20" y1="662.90" x2="641.20" y2="673.70" stroke="#000" stroke-width="1.6" />
<text x="615.10" y="928.20" font-size="20" fill="#000" textLength="46.27" lengthAdjust="spacingAndGlyphs" >9200</text>
<line x1="686.75" y1="901.40" x2="686.75" y2="896.20" stroke="#000" stroke-width="1.6" />
<line x1="686.75" y1="662.90" x2="686.75" y2="668.70" stroke="#000" stroke-width="1.6" />
<line x1="732.30" y1="901.40" x2="732.30" y2="891.20" stroke="#000" stroke-width="1.6" />
<line x1="732.30" y1="662.90" x2="732.30" y2="673.70" stroke="#000" stroke-width="1.6" />
<text x="706.20" y="928.20" font-size="20" fill="#000" textLength="46.27" lengthAdjust="spacingAndGlyphs" >9400</text>
<line x1="777.85" y1="901.40" x2="777.85" y2="896.20" stroke="#000" stroke-width="1.6" />
<line x1="777.85" y1="662.90" x2="777.85" y2="668.70" stroke="#000" stroke-width="1.6" />
<line x1="823.40" y1="901.40" x2="823.40" y2="891.20" stroke="#000" stroke-width="1.6" />
<line x1="823.40" y1="662.90" x2="823.40" y2="673.70" stroke="#000" stroke-width="1.6" />
<text x="797.30" y="928.20" font-size="20" fill="#000" textLength="46.27" lengthAdjust="spacingAndGlyphs" >9600</text>
<line x1="868.95" y1="901.40" x2="868.95" y2="896.20" stroke="#000" stroke-width="1.6" />
<line x1="868.95" y1="662.90" x2="868.95" y2="668.70" stroke="#000" stroke-width="1.6" />
<line x1="914.50" y1="901.40" x2="914.50" y2="891.20" stroke="#000" stroke-width="1.6" />
<line x1="914.50" y1="662.90" x2="914.50" y2="673.70" stroke="#000" stroke-width="1.6" />
<text x="888.40" y="928.20" font-size="20" fill="#000" textLength="46.27" lengthAdjust="spacingAndGlyphs" >9800</text>
<line x1="960.05" y1="901.40" x2="960.05" y2="896.20" stroke="#000" stroke-width="1.6" />
<line x1="960.05" y1="662.90" x2="960.05" y2="668.70" stroke="#000" stroke-width="1.6" />
<line x1="1005.60" y1="901.40" x2="1005.60" y2="891.20" stroke="#000" stroke-width="1.6" />
<line x1="1005.60" y1="662.90" x2="1005.60" y2="673.70" stroke="#000" stroke-width="1.6" />
<text x="972.70" y="928.20" font-size="20" fill="#000" textLength="57.84" lengthAdjust="spacingAndGlyphs" >10000</text>
<line x1="77.50" y1="661.90" x2="77.50" y2="902.10" stroke="#e61419" stroke-width="2.75" />
<line x1="78.00" y1="661.90" x2="78.00" y2="673.80" stroke="#000" stroke-width="1.8" />
<line x1="77.60" y1="901.30" x2="88.40" y2="901.30" stroke="#e61419" stroke-width="1.8" />
<text x="38.46" y="908.50" font-size="19.5" fill="#e61419" textLength="31.00" lengthAdjust="spacingAndGlyphs" >-15</text>
<line x1="77.60" y1="882.65" x2="83.40" y2="882.65" stroke="#e61419" stroke-width="1.8" />
<line x1="77.60" y1="864.00" x2="88.40" y2="864.00" stroke="#e61419" stroke-width="1.8" />
<text x="38.36" y="871.20" font-size="19.5" fill="#e61419" textLength="31.00" lengthAdjust="spacingAndGlyphs" >-10</text>
<line x1="77.60" y1="845.35" x2="83.40" y2="845.35" stroke="#e61419" stroke-width="1.8" />
<line x1="77.60" y1="826.70" x2="88.40" y2="826.70" stroke="#e61419" stroke-width="1.8" />
<text x="50.37" y="833.90" font-size="19.5" fill="#e61419" textLength="19.07" lengthAdjust="spacingAndGlyphs" >-5</text>
<line x1="77.60" y1="808.05" x2="83.40" y2="808.05" stroke="#e61419" stroke-width="1.8" />
<line x1="77.60" y1="789.40" x2="88.40" y2="789.40" stroke="#e61419" stroke-width="1.8" />
<text x="57.85" y="796.60" font-size="19.5" fill="#e61419" textLength="11.50" lengthAdjust="spacingAndGlyphs" >0</text>
<line x1="77.60" y1="770.75" x2="83.40" y2="770.75" stroke="#e61419" stroke-width="1.8" />
<line x1="77.60" y1="752.10" x2="88.40" y2="752.10" stroke="#e61419" stroke-width="1.8" />
<text x="57.95" y="759.30" font-size="19.5" fill="#e61419" textLength="11.50" lengthAdjust="spacingAndGlyphs" >5</text>
<line x1="77.60" y1="733.45" x2="83.40" y2="733.45" stroke="#e61419" stroke-width="1.8" />
<line x1="77.60" y1="714.80" x2="88.40" y2="714.80" stroke="#e61419" stroke-width="1.8" />
<text x="46.38" y="722.00" font-size="19.5" fill="#e61419" textLength="22.99" lengthAdjust="spacingAndGlyphs" >10</text>
<line x1="77.60" y1="696.15" x2="83.40" y2="696.15" stroke="#e61419" stroke-width="1.8" />
<line x1="77.60" y1="677.50" x2="88.40" y2="677.50" stroke="#e61419" stroke-width="1.8" />
<text x="46.48" y="684.70" font-size="19.5" fill="#e61419" textLength="22.99" lengthAdjust="spacingAndGlyphs" >15</text>
<line x1="1006.00" y1="662.10" x2="1006.00" y2="902.10" stroke="#1f4a9e" stroke-width="2.2" />
<line x1="1006.00" y1="887.38" x2="1000.20" y2="887.38" stroke="#1f4a9e" stroke-width="1.8" />
<line x1="1006.00" y1="864.50" x2="995.20" y2="864.50" stroke="#1f4a9e" stroke-width="1.8" />
<text x="1013.77" y="871.40" font-size="19.5" fill="#1f4a9e" textLength="11.50" lengthAdjust="spacingAndGlyphs" >0</text>
<line x1="1006.00" y1="841.62" x2="1000.20" y2="841.62" stroke="#1f4a9e" stroke-width="1.8" />
<line x1="1006.00" y1="818.75" x2="995.20" y2="818.75" stroke="#1f4a9e" stroke-width="1.8" />
<text x="1013.77" y="825.65" font-size="19.5" fill="#1f4a9e" textLength="11.50" lengthAdjust="spacingAndGlyphs" >5</text>
<line x1="1006.00" y1="795.88" x2="1000.20" y2="795.88" stroke="#1f4a9e" stroke-width="1.8" />
<line x1="1006.00" y1="773.00" x2="995.20" y2="773.00" stroke="#1f4a9e" stroke-width="1.8" />
<text x="1014.05" y="779.90" font-size="19.5" fill="#1f4a9e" textLength="22.99" lengthAdjust="spacingAndGlyphs" >10</text>
<line x1="1006.00" y1="750.12" x2="1000.20" y2="750.12" stroke="#1f4a9e" stroke-width="1.8" />
<line x1="1006.00" y1="727.25" x2="995.20" y2="727.25" stroke="#1f4a9e" stroke-width="1.8" />
<text x="1014.05" y="734.15" font-size="19.5" fill="#1f4a9e" textLength="22.99" lengthAdjust="spacingAndGlyphs" >15</text>
<line x1="1006.00" y1="704.38" x2="1000.20" y2="704.38" stroke="#1f4a9e" stroke-width="1.8" />
<line x1="1006.00" y1="681.50" x2="995.20" y2="681.50" stroke="#1f4a9e" stroke-width="1.8" />
<text x="1013.57" y="688.40" font-size="19.5" fill="#1f4a9e" textLength="22.99" lengthAdjust="spacingAndGlyphs" >20</text>
<text x="488.63" y="957.40" font-size="26.3" fill="#000" textLength="104.01" lengthAdjust="spacingAndGlyphs" >Time (s)</text>
<text x="40.90" y="833.55" font-size="27.0" fill="#e61419" textLength="87.40" lengthAdjust="spacingAndGlyphs" transform="rotate(-90 40.90 833.55)">ΔR (Ω)</text>
<text x="1070.00" y="874.76" font-size="27.5" fill="#1f4a9e" textLength="188.67" lengthAdjust="spacingAndGlyphs" transform="rotate(-90 1070.00 874.76)">Pressure (kPa)</text>
<path d="M79.3,901 L79.3,753.9 L100.1,753.9 L100.1,901" fill="none" stroke="#000" stroke-width="1.9" stroke-dasharray="4.9 3.3"/>
<path d="M985.1,901 L985.1,753.9 L1005.6,753.9 L1005.6,901" fill="none" stroke="#000" stroke-width="1.9" stroke-dasharray="4.9 3.3"/>
<line x1="119.30" y1="746.20" x2="148.16" y2="736.07" stroke="#000" stroke-width="1.3" />
<path d="M160.9,731.6 L149.6,740.0 L146.8,732.1 Z" fill="#000"/>
<line x1="972.70" y1="765.30" x2="944.96" y2="755.00" stroke="#000" stroke-width="1.3" />
<path d="M932.3,750.3 L946.4,751.1 L943.5,758.9 Z" fill="#000"/>
<line x1="481.20" y1="707.60" x2="516.20" y2="707.60" stroke="#e61419" stroke-width="1.6" />
<line x1="481.20" y1="732.30" x2="516.20" y2="732.30" stroke="#1f4a9e" stroke-width="0.9" />
<text x="520.34" y="712.70" font-size="14.6" fill="#000" textLength="21.46" lengthAdjust="spacingAndGlyphs" >ΔR</text>
<text x="520.37" y="737.40" font-size="14.6" fill="#000" textLength="61.65" lengthAdjust="spacingAndGlyphs" >Pressure</text>
<path d="M207.5,740.0V742.7M208.5,709.6V722.5M209.5,694.4V695.8M210.5,709.6V722.5M211.5,740.0V742.7M212.5,719.4V731.8M213.5,694.4V699.7M214.5,701.2V712.6M215.5,733.7V741.3M216.5,729.1V738.8M217.5,697.8V707.4M218.5,695.8V703.6M219.5,724.8V736.0M220.5,737.0V742.4M221.5,704.7V717.1M222.5,694.2V697.1M223.5,714.8V727.8M224.5,741.2V742.6M225.5,713.9V726.9M226.5,694.3V696.7M227.5,705.5V718.0M228.5,737.6V742.6M229.5,723.9V735.4M230.5,695.5V702.9M231.5,698.3V708.3M232.5,729.9V739.3M233.5,733.0V741.0M234.5,700.6V711.7M235.5,694.6V700.3M236.5,720.3V732.6M237.5,739.6V742.7M238.5,708.7V721.6M239.5,694.4V695.8M240.5,710.4V723.4M241.5,740.4V742.6M242.5,718.5V731.0M243.5,694.3V699.1M244.5,701.9V713.5M245.5,734.4V741.6M246.5,728.2V738.3M247.5,697.3V706.6M248.5,696.1V704.3M249.5,725.7V736.7M250.5,736.4V742.3M251.5,704.0V716.1M252.5,694.2V697.6M253.5,715.8V728.6M254.5,741.1V742.5M255.5,713.0V726.1M256.5,694.3V696.3M257.5,706.3V718.9M258.5,738.1V742.7M259.5,723.0V734.7M260.5,695.2V702.2M261.5,698.9V709.1M262.5,730.7V739.8M263.5,732.2V740.6M264.5,700.0V710.8M265.5,694.7V700.9M266.5,721.2V733.3M267.5,739.1V742.8M268.5,707.9V720.7M269.5,694.4V695.8M270.5,711.3V724.3M271.5,740.8V742.5M272.5,717.5V730.2M273.5,694.2V698.5M274.5,702.6V714.4M275.5,735.1V741.9M276.5,727.4V737.8M277.5,696.9V705.8M278.5,696.5V705.1M279.5,726.6V737.3M280.5,735.7V742.1M281.5,703.2V715.2M282.5,694.2V698.1M283.5,716.7V729.5M284.5,741.1V742.5M285.5,712.1V725.2M286.5,694.5V695.9M287.5,707.1V719.8M288.5,738.6V742.7M289.5,722.1V734.0M290.5,694.9V701.5M291.5,699.4V710.0M292.5,731.5V740.2M293.5,731.4V740.2M294.5,699.4V709.9M295.5,695.0V701.5M296.5,722.2V734.0M297.5,738.6V742.7M298.5,707.0V719.8M299.5,694.5V696.0M300.5,712.2V725.2M301.5,741.1V742.5M302.5,716.6V729.4M303.5,694.2V698.0M304.5,703.3V715.3M305.5,735.8V742.1M306.5,726.5V737.2M307.5,696.5V705.0M308.5,696.9V705.9M309.5,727.4V737.8M310.5,735.0V741.8M311.5,702.5V714.3M312.5,694.2V698.6M313.5,717.6V730.3M314.5,740.8V742.5M315.5,711.2V724.3M316.5,694.4V695.8M317.5,707.9V720.8M318.5,739.1V742.8M319.5,721.2V733.3M320.5,694.7V700.8M321.5,700.0V710.8M322.5,732.3V740.6M323.5,730.6V739.8M324.5,698.8V709.0M325.5,695.2V702.2M326.5,723.1V734.7M327.5,738.1V742.7M328.5,706.2V718.8M329.5,694.3V696.3M330.5,713.1V726.1M331.5,741.1V742.5M332.5,715.7V728.6M333.5,694.2V697.5M334.5,704.0V716.2M335.5,736.4V742.3M336.5,725.6V736.6M337.5,696.1V704.3M338.5,697.4V706.7M339.5,728.3V738.4M340.5,734.4V741.6M341.5,701.8V713.4M342.5,694.3V699.1M343.5,718.5V731.1M344.5,740.4V742.6M345.5,710.4V723.4M346.5,694.4V695.8M347.5,708.8V721.7M348.5,739.6V742.7M349.5,720.2V732.5M350.5,694.5V700.2M351.5,700.6V711.7M352.5,733.0V741.0M353.5,729.8V739.3M354.5,698.3V708.2M355.5,695.5V702.9M356.5,724.0V735.4M357.5,737.5V742.6M358.5,705.4V717.9M359.5,694.2V696.7M360.5,714.0V727.0M361.5,741.2V742.6M362.5,714.8V727.7M363.5,694.2V697.1M364.5,704.8V717.1M365.5,737.0V742.4M366.5,724.7V736.0M367.5,695.8V703.5M368.5,697.9V707.5M369.5,729.1V738.9M370.5,733.6V741.3M371.5,701.2V712.5M372.5,694.4V699.7M373.5,719.5V731.9M374.5,740.0V742.7M375.5,709.5V722.5M376.5,694.4V695.8M377.5,709.6V722.6M378.5,740.1V742.7M379.5,719.3V731.8M380.5,694.4V699.6M381.5,701.3V712.6M382.5,733.8V741.3M383.5,729.0V738.8M384.5,697.8V707.4M385.5,695.8V703.6M386.5,724.9V736.1M387.5,736.9V742.4M388.5,704.7V717.0M389.5,694.2V697.2M390.5,714.9V727.9M391.5,741.2V742.6M392.5,713.9V726.9M393.5,694.3V696.7M394.5,705.6V718.1M395.5,737.6V742.6M396.5,723.8V735.3M397.5,695.5V702.8M398.5,698.4V708.3M399.5,730.0V739.4M400.5,732.9V740.9M401.5,700.5V711.6M402.5,694.6V700.3M403.5,720.4V732.6M404.5,739.5V742.7M405.5,708.6V721.5M406.5,694.4V695.8M407.5,710.5V723.5M408.5,740.5V742.6M409.5,718.4V731.0M410.5,694.3V699.0M411.5,701.9V713.5M412.5,734.5V741.6M413.5,728.2V738.3M414.5,697.3V706.6M415.5,696.2V704.4M416.5,725.8V736.7M417.5,736.3V742.3M418.5,703.9V716.1" fill="none" stroke="#e61419" stroke-width="1.1" opacity="0.9"/>
<path d="M207.5,699.1V701.2M208.5,714.6V724.6M209.5,735.0V736.4M210.5,714.6V724.6M211.5,699.1V701.2M212.5,707.5V717.0M213.5,732.2V736.2M214.5,722.3V731.0M215.5,700.2V706.0M216.5,702.1V709.6M217.5,726.2V733.6M218.5,729.2V735.2M219.5,704.2V712.9M220.5,699.3V703.5M221.5,718.8V728.3M222.5,734.2V736.4M223.5,710.6V720.5M224.5,699.0V700.4M225.5,711.2V721.2M226.5,734.5V736.4M227.5,718.1V727.7M228.5,699.2V703.1M229.5,704.7V713.5M230.5,729.7V735.4M231.5,725.6V733.2M232.5,701.7V708.9M233.5,700.4V706.6M234.5,723.0V731.5M235.5,731.7V736.1M236.5,706.9V716.3M237.5,699.1V701.5M238.5,715.3V725.2M239.5,735.0V736.4M240.5,713.9V723.9M241.5,699.2V700.8M242.5,708.1V717.7M243.5,732.6V736.3M244.5,721.6V730.5M245.5,699.9V705.5M246.5,702.5V710.2M247.5,726.9V734.0M248.5,728.6V734.9M249.5,703.7V712.2M250.5,699.4V704.0M251.5,719.5V728.9M252.5,733.8V736.4M253.5,709.9V719.8M254.5,699.1V700.5M255.5,711.9V721.9M256.5,734.8V736.3M257.5,717.4V727.1M258.5,699.1V702.6M259.5,705.3V714.2M260.5,730.3V735.6M261.5,724.9V732.8M262.5,701.3V708.3M263.5,700.7V707.2M264.5,723.6V732.0M265.5,731.3V736.0M266.5,706.3V715.6M267.5,699.1V701.9M268.5,716.0V725.9M269.5,735.0V736.4M270.5,713.2V723.2M271.5,699.2V700.6M272.5,708.7V718.4M273.5,733.1V736.4M274.5,720.9V730.0M275.5,699.7V704.9M276.5,702.9V710.9M277.5,727.5V734.3M278.5,728.0V734.6M279.5,703.3V711.5M280.5,699.6V704.5M281.5,720.2V729.5M282.5,733.4V736.4M283.5,709.3V719.1M284.5,699.1V700.5M285.5,712.6V722.6M286.5,734.9V736.3M287.5,716.7V726.5M288.5,699.1V702.2M289.5,705.8V714.9M290.5,730.8V735.8M291.5,724.3V732.4M292.5,701.0V707.7M293.5,701.0V707.8M294.5,724.3V732.4M295.5,730.8V735.8M296.5,705.7V714.9M297.5,699.1V702.2M298.5,716.7V726.5M299.5,734.9V736.3M300.5,712.5V722.6M301.5,699.1V700.5M302.5,709.3V719.2M303.5,733.5V736.4M304.5,720.2V729.4M305.5,699.6V704.4M306.5,703.3V711.5M307.5,728.1V734.6M308.5,727.4V734.3M309.5,702.8V710.8M310.5,699.8V705.0M311.5,720.9V730.0M312.5,733.0V736.4M313.5,708.6V718.4M314.5,699.2V700.6M315.5,713.3V723.3M316.5,735.0V736.4M317.5,716.0V725.8M318.5,699.1V701.8M319.5,706.3V715.7M320.5,731.3V736.0M321.5,723.6V731.9M322.5,700.7V707.1M323.5,701.4V708.4M324.5,725.0V732.8M325.5,730.2V735.6M326.5,705.2V714.2M327.5,699.1V702.7M328.5,717.4V727.2M329.5,734.8V736.3M330.5,711.8V721.9M331.5,699.1V700.5M332.5,710.0V719.9M333.5,733.8V736.4M334.5,719.5V728.8M335.5,699.4V703.9M336.5,703.8V712.2M337.5,728.7V734.9M338.5,726.8V734.0M339.5,702.4V710.2M340.5,700.0V705.5M341.5,721.6V730.5M342.5,732.6V736.3M343.5,708.0V717.7M344.5,699.1V700.9M345.5,714.0V724.0M346.5,735.0V736.4M347.5,715.3V725.2M348.5,699.1V701.5M349.5,706.9V716.4M350.5,731.8V736.1M351.5,722.9V731.5M352.5,700.4V706.5M353.5,701.7V709.0M354.5,725.6V733.3M355.5,729.7V735.4M356.5,704.7V713.5M357.5,699.2V703.1M358.5,718.2V727.8M359.5,734.5V736.4M360.5,711.2V721.2M361.5,699.0V700.4M362.5,710.6V720.6M363.5,734.2V736.4M364.5,718.8V728.3M365.5,699.3V703.5M366.5,704.3V712.9M367.5,729.2V735.2M368.5,726.2V733.6M369.5,702.0V709.5M370.5,700.2V706.1M371.5,722.3V731.0M372.5,732.2V736.2M373.5,707.4V717.0M374.5,699.1V701.2M375.5,714.7V724.6M376.5,735.0V736.4M377.5,714.6V724.5M378.5,699.1V701.1M379.5,707.5V717.1M380.5,732.2V736.2M381.5,722.2V731.0M382.5,700.2V706.0M383.5,702.1V709.6M384.5,726.3V733.6M385.5,729.1V735.2M386.5,704.2V712.8M387.5,699.3V703.5M388.5,718.9V728.4M389.5,734.1V736.4M390.5,710.5V720.5M391.5,699.0V700.4M392.5,711.3V721.3M393.5,734.5V736.4M394.5,718.0V727.7M395.5,699.2V703.0M396.5,704.8V713.6M397.5,729.8V735.4M398.5,725.5V733.2M399.5,701.7V708.9M400.5,700.5V706.6M401.5,723.0V731.5M402.5,731.7V736.1M403.5,706.8V716.3M404.5,699.1V701.5M405.5,715.4V725.3M406.5,735.0V736.4M407.5,713.9V723.9M408.5,699.2V700.8M409.5,708.1V717.8M410.5,732.7V736.3M411.5,721.5V730.5M412.5,699.9V705.4M413.5,702.5V710.3M414.5,726.9V734.0M415.5,728.6V734.9M416.5,703.7V712.1M417.5,699.4V704.0M418.5,719.6V728.9" fill="none" stroke="#1f4a9e" stroke-width="1.1" opacity="0.9"/>
<line x1="206.20" y1="680.30" x2="420.30" y2="680.30" stroke="#000" stroke-width="1.1" />
<line x1="206.20" y1="752.30" x2="420.30" y2="752.30" stroke="#000" stroke-width="1.1" />
<line x1="206.20" y1="680.30" x2="206.20" y2="752.30" stroke="#e61419" stroke-width="1.25" />
<line x1="420.30" y1="680.30" x2="420.30" y2="752.30" stroke="#1f4a9e" stroke-width="1.25" />
<line x1="206.20" y1="752.30" x2="206.20" y2="749.90" stroke="#000" stroke-width="0.8" />
<line x1="206.20" y1="680.30" x2="206.20" y2="682.70" stroke="#000" stroke-width="0.8" />
<text x="206.20" y="761.30" font-size="6.3" fill="#000" text-anchor="middle" >0</text>
<line x1="227.61" y1="752.30" x2="227.61" y2="751.00" stroke="#000" stroke-width="0.8" />
<line x1="227.61" y1="680.30" x2="227.61" y2="681.60" stroke="#000" stroke-width="0.8" />
<line x1="249.02" y1="752.30" x2="249.02" y2="749.90" stroke="#000" stroke-width="0.8" />
<line x1="249.02" y1="680.30" x2="249.02" y2="682.70" stroke="#000" stroke-width="0.8" />
<text x="249.02" y="761.30" font-size="6.3" fill="#000" text-anchor="middle" >10</text>
<line x1="270.43" y1="752.30" x2="270.43" y2="751.00" stroke="#000" stroke-width="0.8" />
<line x1="270.43" y1="680.30" x2="270.43" y2="681.60" stroke="#000" stroke-width="0.8" />
<line x1="291.84" y1="752.30" x2="291.84" y2="749.90" stroke="#000" stroke-width="0.8" />
<line x1="291.84" y1="680.30" x2="291.84" y2="682.70" stroke="#000" stroke-width="0.8" />
<text x="291.84" y="761.30" font-size="6.3" fill="#000" text-anchor="middle" >20</text>
<line x1="313.25" y1="752.30" x2="313.25" y2="751.00" stroke="#000" stroke-width="0.8" />
<line x1="313.25" y1="680.30" x2="313.25" y2="681.60" stroke="#000" stroke-width="0.8" />
<line x1="334.66" y1="752.30" x2="334.66" y2="749.90" stroke="#000" stroke-width="0.8" />
<line x1="334.66" y1="680.30" x2="334.66" y2="682.70" stroke="#000" stroke-width="0.8" />
<text x="334.66" y="761.30" font-size="6.3" fill="#000" text-anchor="middle" >30</text>
<line x1="356.07" y1="752.30" x2="356.07" y2="751.00" stroke="#000" stroke-width="0.8" />
<line x1="356.07" y1="680.30" x2="356.07" y2="681.60" stroke="#000" stroke-width="0.8" />
<line x1="377.48" y1="752.30" x2="377.48" y2="749.90" stroke="#000" stroke-width="0.8" />
<line x1="377.48" y1="680.30" x2="377.48" y2="682.70" stroke="#000" stroke-width="0.8" />
<text x="377.48" y="761.30" font-size="6.3" fill="#000" text-anchor="middle" >40</text>
<line x1="398.89" y1="752.30" x2="398.89" y2="751.00" stroke="#000" stroke-width="0.8" />
<line x1="398.89" y1="680.30" x2="398.89" y2="681.60" stroke="#000" stroke-width="0.8" />
<line x1="420.30" y1="752.30" x2="420.30" y2="749.90" stroke="#000" stroke-width="0.8" />
<line x1="420.30" y1="680.30" x2="420.30" y2="682.70" stroke="#000" stroke-width="0.8" />
<text x="420.30" y="761.30" font-size="6.3" fill="#000" text-anchor="middle" >50</text>
<line x1="206.20" y1="680.30" x2="208.60" y2="680.30" stroke="#e61419" stroke-width="0.8" />
<text x="204.00" y="682.50" font-size="6.0" fill="#e61419" text-anchor="end" >5</text>
<line x1="206.20" y1="689.30" x2="207.50" y2="689.30" stroke="#e61419" stroke-width="0.8" />
<line x1="206.20" y1="698.30" x2="208.60" y2="698.30" stroke="#e61419" stroke-width="0.8" />
<text x="204.00" y="700.50" font-size="6.0" fill="#e61419" text-anchor="end" >0</text>
<line x1="206.20" y1="707.30" x2="207.50" y2="707.30" stroke="#e61419" stroke-width="0.8" />
<line x1="206.20" y1="716.30" x2="208.60" y2="716.30" stroke="#e61419" stroke-width="0.8" />
<text x="204.00" y="718.50" font-size="6.0" fill="#e61419" text-anchor="end" >-5</text>
<line x1="206.20" y1="725.30" x2="207.50" y2="725.30" stroke="#e61419" stroke-width="0.8" />
<line x1="206.20" y1="734.30" x2="208.60" y2="734.30" stroke="#e61419" stroke-width="0.8" />
<text x="204.00" y="736.50" font-size="6.0" fill="#e61419" text-anchor="end" >-10</text>
<line x1="206.20" y1="743.30" x2="207.50" y2="743.30" stroke="#e61419" stroke-width="0.8" />
<line x1="206.20" y1="752.30" x2="208.60" y2="752.30" stroke="#e61419" stroke-width="0.8" />
<text x="204.00" y="754.50" font-size="6.0" fill="#e61419" text-anchor="end" >-15</text>
<line x1="420.30" y1="689.30" x2="417.90" y2="689.30" stroke="#1f4a9e" stroke-width="0.8" />
<text x="426.30" y="691.50" font-size="6.0" fill="#1f4a9e" text-anchor="middle" transform="rotate(-90 426.30 691.50)" >10</text>
<line x1="420.30" y1="700.60" x2="419.00" y2="700.60" stroke="#1f4a9e" stroke-width="0.8" />
<line x1="420.30" y1="711.90" x2="417.90" y2="711.90" stroke="#1f4a9e" stroke-width="0.8" />
<text x="426.30" y="714.10" font-size="6.0" fill="#1f4a9e" text-anchor="middle" transform="rotate(-90 426.30 714.10)" >5</text>
<line x1="420.30" y1="723.20" x2="419.00" y2="723.20" stroke="#1f4a9e" stroke-width="0.8" />
<line x1="420.30" y1="734.50" x2="417.90" y2="734.50" stroke="#1f4a9e" stroke-width="0.8" />
<text x="426.30" y="736.70" font-size="6.0" fill="#1f4a9e" text-anchor="middle" transform="rotate(-90 426.30 736.70)" >0</text>
<line x1="420.30" y1="745.80" x2="419.00" y2="745.80" stroke="#1f4a9e" stroke-width="0.8" />
<text x="313.50" y="774.20" font-size="11.4" fill="#000" text-anchor="middle" textLength="44.50" lengthAdjust="spacingAndGlyphs" >Time (s)</text>
<text x="189.80" y="717.90" font-size="11.0" fill="#e61419" text-anchor="middle" textLength="35.50" lengthAdjust="spacingAndGlyphs" transform="rotate(-90 189.80 717.90)" >ΔR (Ω)</text>
<text x="441.80" y="719.00" font-size="11.0" fill="#1f4a9e" text-anchor="middle" textLength="80.50" lengthAdjust="spacingAndGlyphs" transform="rotate(-90 441.80 719.00)" >Pressure (kPa)</text>
<path d="M673.5,727.4V737.9M674.5,697.2V705.9M675.5,697.2V705.9M676.5,727.4V737.9M677.5,735.8V742.3M678.5,703.4V715.3M679.5,694.7V698.8M680.5,717.6V730.3M681.5,741.3V742.8M682.5,712.2V725.2M683.5,695.0V696.4M684.5,708.0V720.7M685.5,739.2V743.1M686.5,722.1V734.0M687.5,695.4V701.7M688.5,700.2V710.9M689.5,732.2V740.8M690.5,731.5V740.3M691.5,699.6V710.0M692.5,695.6V702.4M693.5,723.0V734.7M694.5,738.7V743.0M695.5,707.1V719.8M696.5,694.9V696.7M697.5,713.1V726.1M698.5,741.4V742.8M699.5,716.6V729.4M700.5,694.7V698.3M701.5,704.1V716.2M702.5,736.4V742.5M703.5,726.5V737.3M704.5,696.8V705.2M705.5,697.7V706.7M706.5,728.2V738.4M707.5,735.1V742.1M708.5,702.7V714.3M709.5,694.8V699.4M710.5,718.5V731.1M711.5,741.0V742.9M712.5,711.3V724.3M713.5,694.9V696.3M714.5,708.8V721.6M715.5,739.7V743.1M716.5,721.2V733.3M717.5,695.2V701.1M718.5,700.8V711.7M719.5,733.0V741.1M720.5,730.7V739.9M721.5,699.1V709.1M722.5,695.9V703.0M723.5,723.9V735.4M724.5,738.2V743.0M725.5,706.3V718.9M726.5,694.8V697.0M727.5,714.0V726.9M728.5,741.5V742.9M729.5,715.7V728.6M730.5,694.7V697.9M731.5,704.9V717.1M732.5,737.1V742.7M733.5,725.6V736.7M734.5,696.5V704.4M735.5,698.1V707.5M736.5,729.1V739.0M737.5,734.4V741.8M738.5,702.0V713.4M739.5,694.9V699.9M740.5,719.4V731.8M741.5,740.6V743.0M742.5,710.4V723.4M743.5,694.9V696.3M744.5,709.6V722.5M745.5,740.2V743.1M746.5,720.3V732.6M747.5,695.0V700.4M748.5,701.4V712.6M749.5,733.7V741.5M750.5,729.9V739.4M751.5,698.6V708.3M752.5,696.2V703.8M753.5,724.8V736.1M754.5,737.6V742.8M755.5,705.6V717.9M756.5,694.8V697.4M757.5,714.9V727.8M758.5,741.5V742.9M759.5,714.8V727.7M760.5,694.8V697.4M761.5,705.6V718.0M762.5,737.6V742.9M763.5,724.7V736.0M764.5,696.2V703.7M765.5,698.6V708.4M766.5,729.9V739.5M767.5,733.7V741.5M768.5,701.4V712.5M769.5,695.0V700.5M770.5,720.3V732.6M771.5,740.1V743.1M772.5,709.6V722.5M773.5,694.9V696.3M774.5,710.5V723.4M775.5,740.6V743.0M776.5,719.3V731.8M777.5,694.9V699.9M778.5,702.1V713.5M779.5,734.5V741.8M780.5,729.0V738.9M781.5,698.1V707.5M782.5,696.5V704.5M783.5,725.7V736.7M784.5,737.0V742.7M785.5,704.8V717.0M786.5,694.7V697.9M787.5,715.8V728.7M788.5,741.5V742.9M789.5,713.9V726.9M790.5,694.8V697.0M791.5,706.4V718.9M792.5,738.2V743.0M793.5,723.8V735.4M794.5,695.9V703.0M795.5,699.1V709.2M796.5,730.7V739.9M797.5,732.9V741.1M798.5,700.8V711.7M799.5,695.2V701.1M800.5,721.2V733.4M801.5,739.7V743.1M802.5,708.7V721.6M803.5,694.9V696.3M804.5,711.4V724.3M805.5,741.0V742.9M806.5,718.4V731.0M807.5,694.8V699.3M808.5,702.8V714.4M809.5,735.2V742.1M810.5,728.2V738.4M811.5,697.6V706.7M812.5,696.9V705.2M813.5,726.6V737.3M814.5,736.4V742.5M815.5,704.1V716.1M816.5,694.7V698.4M817.5,716.7V729.5M818.5,741.4V742.8M819.5,713.0V726.0M820.5,695.0V696.6M821.5,707.2V719.9M822.5,738.8V743.0M823.5,722.9V734.7M824.5,695.6V702.3M825.5,699.7V710.1M826.5,731.5V740.4M827.5,732.2V740.7M828.5,700.2V710.8M829.5,695.4V701.7M830.5,722.2V734.1M831.5,739.2V743.1M832.5,707.9V720.6M833.5,695.0V696.4M834.5,712.3V725.2M835.5,741.3V742.8M836.5,717.5V730.2M837.5,694.7V698.8M838.5,703.5V715.3M839.5,735.8V742.3M840.5,727.3V737.8M841.5,697.2V705.9M842.5,697.3V706.0M843.5,727.5V737.9M844.5,735.7V742.3M845.5,703.4V715.2M846.5,694.7V698.9M847.5,717.6V730.3M848.5,741.3V742.8M849.5,712.1V725.1M850.5,695.0V696.4M851.5,708.0V720.8M852.5,739.3V743.1M853.5,722.0V734.0M854.5,695.4V701.6M855.5,700.3V710.9M856.5,732.3V740.8M857.5,731.4V740.3M858.5,699.6V709.9M859.5,695.6V702.4M860.5,723.1V734.8M861.5,738.7V743.0M862.5,707.1V719.7M863.5,694.9V696.7M864.5,713.1V726.1M865.5,741.4V742.8M866.5,716.6V729.4M867.5,694.7V698.3M868.5,704.2V716.2M869.5,736.5V742.5M870.5,726.4V737.3M871.5,696.8V705.1M872.5,697.7V706.8M873.5,728.3V738.5M874.5,735.1V742.0M875.5,702.7V714.3M876.5,694.8V699.4M877.5,718.6V731.1M878.5,740.9V742.9M879.5,711.2V724.2M880.5,694.9V696.3M881.5,708.9V721.7M882.5,739.8V743.1M883.5,721.1V733.3" fill="none" stroke="#e61419" stroke-width="1.1" opacity="0.9"/>
<path d="M673.5,703.6V711.7M674.5,728.2V734.8M675.5,728.2V734.8M676.5,703.6V711.7M677.5,700.2V705.2M678.5,721.0V730.1M679.5,733.6V736.8M680.5,709.5V719.2M681.5,699.7V701.1M682.5,713.4V723.4M683.5,735.3V736.7M684.5,716.8V726.6M685.5,699.6V702.5M686.5,706.5V715.7M687.5,731.4V736.3M688.5,724.4V732.6M689.5,701.4V707.9M690.5,701.7V708.5M691.5,725.0V733.0M692.5,730.9V736.1M693.5,706.0V715.0M694.5,699.6V702.9M695.5,717.5V727.2M696.5,735.3V736.7M697.5,712.7V722.7M698.5,699.6V701.0M699.5,710.1V719.9M700.5,734.0V736.8M701.5,720.3V729.6M702.5,700.0V704.7M703.5,704.0V712.3M704.5,728.7V735.1M705.5,727.5V734.5M706.5,703.2V711.0M707.5,700.4V705.7M708.5,721.7V730.6M709.5,733.2V736.7M710.5,708.8V718.5M711.5,699.7V701.2M712.5,714.0V724.0M713.5,735.4V736.8M714.5,716.1V726.0M715.5,699.6V702.2M716.5,707.1V716.4M717.5,731.9V736.4M718.5,723.7V732.1M719.5,701.1V707.3M720.5,702.0V709.1M721.5,725.7V733.4M722.5,730.4V735.9M723.5,705.5V714.3M724.5,699.7V703.4M725.5,718.2V727.8M726.5,735.0V736.7M727.5,712.0V722.0M728.5,699.6V701.0M729.5,710.7V720.6M730.5,734.4V736.8M731.5,719.6V729.0M732.5,699.9V704.2M733.5,704.5V713.0M734.5,729.3V735.4M735.5,726.9V734.2M736.5,702.7V710.3M737.5,700.6V706.3M738.5,722.4V731.2M739.5,732.8V736.6M740.5,708.2V717.8M741.5,699.6V701.5M742.5,714.7V724.7M743.5,735.4V736.8M744.5,715.4V725.3M745.5,699.6V701.8M746.5,707.7V717.1M747.5,732.4V736.6M748.5,723.0V731.6M749.5,700.8V706.8M750.5,702.4V709.8M751.5,726.3V733.8M752.5,729.8V735.7M753.5,705.0V713.6M754.5,699.8V703.8M755.5,718.9V728.4M756.5,734.7V736.8M757.5,711.3V721.3M758.5,699.6V701.0M759.5,711.4V721.3M760.5,734.7V736.8M761.5,718.9V728.4M762.5,699.8V703.8M763.5,705.0V713.7M764.5,729.9V735.7M765.5,726.3V733.8M766.5,702.4V709.7M767.5,700.8V706.8M768.5,723.1V731.7M769.5,732.3V736.5M770.5,707.6V717.1M771.5,699.6V701.8M772.5,715.4V725.4M773.5,735.4V736.8M774.5,714.7V724.6M775.5,699.6V701.5M776.5,708.3V717.9M777.5,732.8V736.7M778.5,722.3V731.1M779.5,700.6V706.2M780.5,702.8V710.4M781.5,727.0V734.2M782.5,729.3V735.4M783.5,704.5V713.0M784.5,699.9V704.3M785.5,719.6V729.0M786.5,734.3V736.8M787.5,710.7V720.6M788.5,699.6V701.0M789.5,712.1V722.0M790.5,735.0V736.7M791.5,718.2V727.8M792.5,699.7V703.3M793.5,705.5V714.4M794.5,730.4V735.9M795.5,725.6V733.4M796.5,702.0V709.1M797.5,701.1V707.4M798.5,723.8V732.1M799.5,731.9V736.4M800.5,707.1V716.4M801.5,699.6V702.2M802.5,716.1V726.0M803.5,735.4V736.8M804.5,714.0V724.0M805.5,699.7V701.2M806.5,708.9V718.6M807.5,733.3V736.7M808.5,721.6V730.6M809.5,700.4V705.7M810.5,703.2V711.0M811.5,727.6V734.5M812.5,728.7V735.1M813.5,704.0V712.3M814.5,700.0V704.7M815.5,720.3V729.6M816.5,734.0V736.8M817.5,710.0V719.9M818.5,699.6V701.0M819.5,712.7V722.7M820.5,735.3V736.7M821.5,717.5V727.2M822.5,699.6V702.9M823.5,706.0V715.1M824.5,730.9V736.1M825.5,725.0V733.0M826.5,701.7V708.5M827.5,701.4V708.0M828.5,724.4V732.6M829.5,731.4V736.3M830.5,706.5V715.7M831.5,699.6V702.6M832.5,716.9V726.6M833.5,735.3V736.7M834.5,713.3V723.3M835.5,699.7V701.1M836.5,709.5V719.3M837.5,733.7V736.8M838.5,720.9V730.1M839.5,700.2V705.2M840.5,703.6V711.7M841.5,728.2V734.9M842.5,728.1V734.8M843.5,703.5V711.6M844.5,700.2V705.2M845.5,721.0V730.1M846.5,733.6V736.8M847.5,709.4V719.2M848.5,699.7V701.1M849.5,713.4V723.4M850.5,735.3V736.7M851.5,716.7V726.6M852.5,699.6V702.5M853.5,706.6V715.8M854.5,731.5V736.3M855.5,724.3V732.5M856.5,701.3V707.9M857.5,701.7V708.6M858.5,725.1V733.0M859.5,730.9V736.1M860.5,706.0V715.0M861.5,699.6V703.0M862.5,717.6V727.3M863.5,735.2V736.6M864.5,712.6V722.6M865.5,699.6V701.0M866.5,710.1V720.0M867.5,734.0V736.8M868.5,720.2V729.5M869.5,700.0V704.7M870.5,704.1V712.4M871.5,728.8V735.2M872.5,727.5V734.5M873.5,703.1V710.9M874.5,700.4V705.8M875.5,721.7V730.7M876.5,733.2V736.7M877.5,708.8V718.5M878.5,699.7V701.2M879.5,714.1V724.1M880.5,735.4V736.8M881.5,716.0V725.9M882.5,699.6V702.1M883.5,707.1V716.5" fill="none" stroke="#1f4a9e" stroke-width="1.1" opacity="0.9"/>
<line x1="671.90" y1="680.90" x2="885.40" y2="680.90" stroke="#000" stroke-width="1.1" />
<line x1="671.90" y1="752.60" x2="885.40" y2="752.60" stroke="#000" stroke-width="1.1" />
<line x1="671.90" y1="680.90" x2="671.90" y2="752.60" stroke="#e61419" stroke-width="1.25" />
<line x1="885.40" y1="680.90" x2="885.40" y2="752.60" stroke="#1f4a9e" stroke-width="1.25" />
<line x1="671.90" y1="752.60" x2="671.90" y2="750.20" stroke="#000" stroke-width="0.8" />
<line x1="671.90" y1="680.90" x2="671.90" y2="683.30" stroke="#000" stroke-width="0.8" />
<text x="671.90" y="761.60" font-size="6.3" fill="#000" text-anchor="middle" >9950</text>
<line x1="693.25" y1="752.60" x2="693.25" y2="751.30" stroke="#000" stroke-width="0.8" />
<line x1="693.25" y1="680.90" x2="693.25" y2="682.20" stroke="#000" stroke-width="0.8" />
<line x1="714.60" y1="752.60" x2="714.60" y2="750.20" stroke="#000" stroke-width="0.8" />
<line x1="714.60" y1="680.90" x2="714.60" y2="683.30" stroke="#000" stroke-width="0.8" />
<text x="714.60" y="761.60" font-size="6.3" fill="#000" text-anchor="middle" >9960</text>
<line x1="735.95" y1="752.60" x2="735.95" y2="751.30" stroke="#000" stroke-width="0.8" />
<line x1="735.95" y1="680.90" x2="735.95" y2="682.20" stroke="#000" stroke-width="0.8" />
<line x1="757.30" y1="752.60" x2="757.30" y2="750.20" stroke="#000" stroke-width="0.8" />
<line x1="757.30" y1="680.90" x2="757.30" y2="683.30" stroke="#000" stroke-width="0.8" />
<text x="757.30" y="761.60" font-size="6.3" fill="#000" text-anchor="middle" >9970</text>
<line x1="778.65" y1="752.60" x2="778.65" y2="751.30" stroke="#000" stroke-width="0.8" />
<line x1="778.65" y1="680.90" x2="778.65" y2="682.20" stroke="#000" stroke-width="0.8" />
<line x1="800.00" y1="752.60" x2="800.00" y2="750.20" stroke="#000" stroke-width="0.8" />
<line x1="800.00" y1="680.90" x2="800.00" y2="683.30" stroke="#000" stroke-width="0.8" />
<text x="800.00" y="761.60" font-size="6.3" fill="#000" text-anchor="middle" >9980</text>
<line x1="821.35" y1="752.60" x2="821.35" y2="751.30" stroke="#000" stroke-width="0.8" />
<line x1="821.35" y1="680.90" x2="821.35" y2="682.20" stroke="#000" stroke-width="0.8" />
<line x1="842.70" y1="752.60" x2="842.70" y2="750.20" stroke="#000" stroke-width="0.8" />
<line x1="842.70" y1="680.90" x2="842.70" y2="683.30" stroke="#000" stroke-width="0.8" />
<text x="842.70" y="761.60" font-size="6.3" fill="#000" text-anchor="middle" >9990</text>
<line x1="864.05" y1="752.60" x2="864.05" y2="751.30" stroke="#000" stroke-width="0.8" />
<line x1="864.05" y1="680.90" x2="864.05" y2="682.20" stroke="#000" stroke-width="0.8" />
<line x1="885.40" y1="752.60" x2="885.40" y2="750.20" stroke="#000" stroke-width="0.8" />
<line x1="885.40" y1="680.90" x2="885.40" y2="683.30" stroke="#000" stroke-width="0.8" />
<text x="885.40" y="761.60" font-size="6.3" fill="#000" text-anchor="middle" >10000</text>
<line x1="671.90" y1="680.90" x2="674.30" y2="680.90" stroke="#e61419" stroke-width="0.8" />
<text x="669.70" y="683.10" font-size="6.0" fill="#e61419" text-anchor="end" >5</text>
<line x1="671.90" y1="689.86" x2="673.20" y2="689.86" stroke="#e61419" stroke-width="0.8" />
<line x1="671.90" y1="698.83" x2="674.30" y2="698.83" stroke="#e61419" stroke-width="0.8" />
<text x="669.70" y="701.03" font-size="6.0" fill="#e61419" text-anchor="end" >0</text>
<line x1="671.90" y1="707.79" x2="673.20" y2="707.79" stroke="#e61419" stroke-width="0.8" />
<line x1="671.90" y1="716.75" x2="674.30" y2="716.75" stroke="#e61419" stroke-width="0.8" />
<text x="669.70" y="718.95" font-size="6.0" fill="#e61419" text-anchor="end" >-5</text>
<line x1="671.90" y1="725.71" x2="673.20" y2="725.71" stroke="#e61419" stroke-width="0.8" />
<line x1="671.90" y1="734.67" x2="674.30" y2="734.67" stroke="#e61419" stroke-width="0.8" />
<text x="669.70" y="736.88" font-size="6.0" fill="#e61419" text-anchor="end" >-10</text>
<line x1="671.90" y1="743.64" x2="673.20" y2="743.64" stroke="#e61419" stroke-width="0.8" />
<line x1="671.90" y1="752.60" x2="674.30" y2="752.60" stroke="#e61419" stroke-width="0.8" />
<text x="669.70" y="754.80" font-size="6.0" fill="#e61419" text-anchor="end" >-15</text>
<line x1="885.40" y1="689.90" x2="883.00" y2="689.90" stroke="#1f4a9e" stroke-width="0.8" />
<text x="891.40" y="692.10" font-size="6.0" fill="#1f4a9e" text-anchor="middle" transform="rotate(-90 891.40 692.10)" >10</text>
<line x1="885.40" y1="701.20" x2="884.10" y2="701.20" stroke="#1f4a9e" stroke-width="0.8" />
<line x1="885.40" y1="712.50" x2="883.00" y2="712.50" stroke="#1f4a9e" stroke-width="0.8" />
<text x="891.40" y="714.70" font-size="6.0" fill="#1f4a9e" text-anchor="middle" transform="rotate(-90 891.40 714.70)" >5</text>
<line x1="885.40" y1="723.80" x2="884.10" y2="723.80" stroke="#1f4a9e" stroke-width="0.8" />
<line x1="885.40" y1="735.10" x2="883.00" y2="735.10" stroke="#1f4a9e" stroke-width="0.8" />
<text x="891.40" y="737.30" font-size="6.0" fill="#1f4a9e" text-anchor="middle" transform="rotate(-90 891.40 737.30)" >0</text>
<line x1="885.40" y1="746.40" x2="884.10" y2="746.40" stroke="#1f4a9e" stroke-width="0.8" />
<text x="778.20" y="774.20" font-size="11.4" fill="#000" text-anchor="middle" textLength="44.50" lengthAdjust="spacingAndGlyphs" >Time (s)</text>
<text x="654.00" y="718.35" font-size="11.0" fill="#e61419" text-anchor="middle" textLength="35.50" lengthAdjust="spacingAndGlyphs" transform="rotate(-90 654.00 718.35)" >ΔR (Ω)</text>
<text x="907.00" y="712.40" font-size="11.0" fill="#1f4a9e" text-anchor="middle" textLength="80.50" lengthAdjust="spacingAndGlyphs" transform="rotate(-90 907.00 712.40)" >Pressure (kPa)</text>
</g>
</svg>
</body></html>
